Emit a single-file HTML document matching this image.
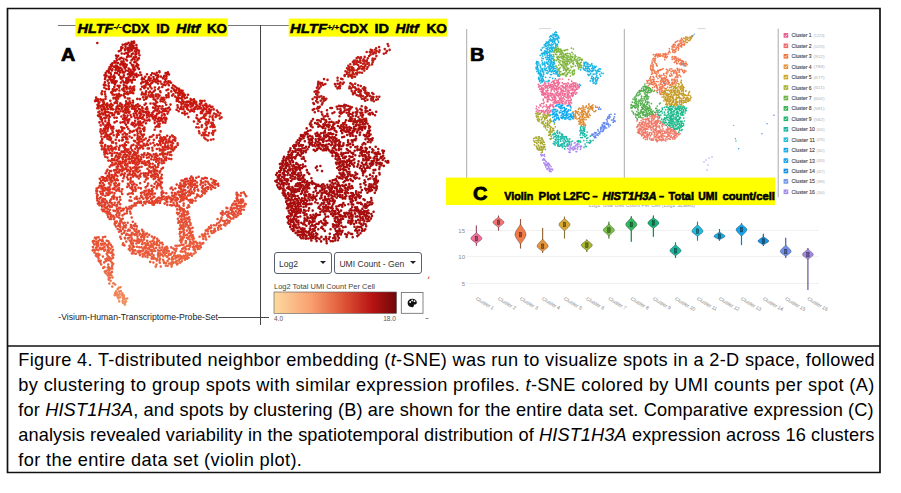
<!DOCTYPE html>
<html><head><meta charset="utf-8">
<style>
html,body{margin:0;padding:0;background:#fff;width:901px;height:493px;overflow:hidden}
body{position:relative;font-family:"Liberation Sans",sans-serif}
svg{position:absolute;left:0;top:0}
.cap{position:absolute;left:18.3px;font-size:18.2px;line-height:25px;color:#000;white-space:nowrap}
.cap i{font-style:italic}
.dd{position:absolute;box-sizing:border-box;border:1px solid #5a6070;border-radius:3px;background:#fff;font-size:8.6px;color:#333;line-height:21px;padding-left:4px;padding-top:1px}
.dd:after{content:"";position:absolute;right:5px;top:8px;border-left:3.2px solid transparent;border-right:3.2px solid transparent;border-top:3.6px solid #222}
</style></head><body>
<svg width="901" height="493" viewBox="0 0 901 493" font-family="Liberation Sans, sans-serif">
  <!-- frame -->
  <g stroke="#111" stroke-width="1.7" fill="none">
    <path d="M7.5 8.5H880V472.5H7.5Z"/>
    <path d="M7.5 346H880"/>
  </g>
  <!-- panel A lines -->
  <g stroke="#777" stroke-width="1" fill="none">
    <path d="M58 25.5H76M228 25.5H289"/>
  </g>
  <path d="M260.5 25V325" stroke="#444" stroke-width="1"/>
  <path d="M218 317.5H269" stroke="#333" stroke-width="0.9"/>
  <!-- banners -->
  <rect x="75.4" y="18.4" width="152.4" height="18.2" fill="#ffff00"/>
  <rect x="288.7" y="18.6" width="158.3" height="18" fill="#ffff00"/>
  <g font-weight="bold" fill="#000" stroke="#000" stroke-width="0.45" font-size="12.4">
  <text x="77.6" y="33" font-style="italic" textLength="35.8" lengthAdjust="spacingAndGlyphs">HLTF</text>
  <text x="113.4" y="29.2" font-size="8" font-style="italic" stroke-width="0.25" textLength="8.4" lengthAdjust="spacingAndGlyphs">-/-</text>
  <text x="122" y="33" textLength="27.5" lengthAdjust="spacingAndGlyphs">CDX</text>
  <text x="156.2" y="33" textLength="13.3" lengthAdjust="spacingAndGlyphs">ID</text>
  <text x="176" y="33" font-style="italic" textLength="24" lengthAdjust="spacingAndGlyphs">Hltf</text>
  <text x="207" y="33" textLength="20" lengthAdjust="spacingAndGlyphs">KO</text>
  <text x="290" y="33" font-style="italic" textLength="37" lengthAdjust="spacingAndGlyphs">HLTF</text>
  <text x="327" y="29.6" font-size="8" font-style="italic" stroke-width="0.3" textLength="12" lengthAdjust="spacingAndGlyphs">+/+</text>
  <text x="339.5" y="33" textLength="28.5" lengthAdjust="spacingAndGlyphs">CDX</text>
  <text x="374.5" y="33" textLength="14.5" lengthAdjust="spacingAndGlyphs">ID</text>
  <text x="395.5" y="33" font-style="italic" textLength="23" lengthAdjust="spacingAndGlyphs">Hltf</text>
  <text x="426.4" y="33" textLength="20.5" lengthAdjust="spacingAndGlyphs">KO</text>
  </g>
  <text x="61" y="60.8" font-size="18" font-weight="bold" fill="#000" stroke="#000" stroke-width="0.7" textLength="14.3" lengthAdjust="spacingAndGlyphs">A</text>
  <g fill="none" stroke-width="2.6" stroke-linecap="round"><path stroke="#ba120c" d="M131.7 41.8h0M134.0 41.5h0M126.1 43.8h0M128.5 42.8h0M130.9 43.5h0M132.3 43.0h0M134.2 42.7h0M122.7 44.8h0M125.1 44.4h0M126.9 44.3h0M129.6 45.2h0M131.7 44.4h0M133.6 45.5h0M136.4 45.1h0M121.3 47.2h0M122.5 47.7h0M125.5 46.8h0M128.2 47.8h0M130.3 46.7h0M132.2 46.5h0M134.2 47.7h0M136.6 47.7h0M121.3 48.8h0M125.0 49.4h0M127.3 48.7h0M129.6 49.4h0M131.5 48.8h0M133.3 48.5h0M135.5 48.8h0M137.5 49.7h0M118.8 51.2h0M120.7 50.4h0M125.0 50.2h0M128.1 50.5h0M131.7 50.4h0M97.3 43.0h0"/><path stroke="#c0120c" d="M129.6 51.5h0M134.8 51.2h0M136.5 51.3h0M139.0 50.7h0M121.7 53.5h0M124.4 53.7h0M126.3 53.0h0M128.2 52.5h0M133.0 53.5h0M135.9 53.2h0M138.7 53.1h0M116.0 55.6h0M118.2 55.7h0M127.9 54.7h0M131.8 54.3h0M135.4 54.8h0M136.2 54.3h0M139.5 55.3h0M117.5 56.5h0M121.4 57.7h0M127.0 56.9h0M129.2 56.4h0M131.1 56.3h0M134.0 57.3h0M136.1 57.0h0M116.5 58.2h0M119.3 59.3h0M120.3 58.4h0M123.6 58.8h0M126.1 59.5h0M132.9 58.5h0M134.7 59.4h0M137.6 59.1h0M138.9 58.4h0M114.5 61.2h0M116.9 60.2h0M121.4 61.6h0M123.6 61.4h0M127.0 60.5h0M131.6 60.3h0M135.5 61.8h0M137.4 60.2h0M112.4 63.4h0M114.7 62.6h0M115.8 62.5h0M117.9 63.1h0M120.8 63.7h0M122.5 63.2h0M124.9 63.7h0M130.4 62.8h0M134.3 62.3h0M136.8 63.7h0M110.9 64.9h0M112.1 65.5h0M115.7 65.6h0M116.7 65.7h0M120.3 64.6h0M122.6 64.8h0M124.1 65.2h0M126.7 64.9h0M131.8 64.7h0M133.4 65.4h0M136.4 65.7h0M138.2 65.1h0M109.5 67.2h0M111.4 66.6h0M114.0 66.8h0M115.5 66.8h0M118.2 67.1h0M120.6 67.8h0M123.6 66.5h0M126.1 66.9h0M132.8 66.5h0M134.5 67.3h0M137.6 67.5h0M108.8 69.2h0M110.1 69.0h0M112.5 69.2h0M115.9 69.1h0M116.8 68.5h0M119.1 68.4h0M122.1 69.5h0M124.8 68.3h0M128.7 68.5h0M130.6 69.7h0M133.3 68.9h0M135.1 69.6h0M138.9 68.9h0M107.0 71.3h0M109.0 71.6h0M111.9 70.5h0M115.6 70.3h0M118.1 70.7h0M120.2 70.7h0M122.7 71.6h0M125.8 70.6h0M128.1 70.8h0M130.6 71.5h0M131.7 71.6h0M134.0 70.6h0M159.4 71.4h0M105.7 73.1h0M108.8 72.6h0M110.7 73.2h0M115.1 73.0h0M117.1 73.1h0M120.1 72.5h0M122.8 72.4h0M124.3 72.5h0M129.4 72.9h0M131.5 73.0h0M133.3 72.9h0M136.4 73.7h0M140.2 72.5h0M152.2 73.2h0M154.4 73.7h0M156.8 72.7h0M159.5 72.3h0M165.6 73.1h0M167.9 72.4h0M104.5 75.3h0M106.5 75.6h0M110.9 74.8h0M114.0 75.6h0M118.9 74.8h0M123.8 75.2h0M127.9 74.3h0M129.9 75.0h0M132.2 74.8h0M134.8 74.8h0M136.9 75.8h0M138.7 75.3h0M141.2 75.0h0M147.0 74.3h0M151.0 75.2h0M156.1 75.3h0M158.1 75.4h0M164.3 75.8h0M166.7 74.6h0M169.0 74.4h0M105.4 77.4h0M108.8 76.9h0M110.7 77.1h0M113.0 76.7h0M114.8 77.4h0M120.5 76.9h0M122.1 77.7h0M123.6 77.0h0M128.5 77.4h0M130.5 76.4h0M133.6 77.1h0M136.6 76.8h0M142.3 77.8h0M145.3 76.8h0M149.0 77.4h0M153.5 77.1h0M157.2 77.7h0M158.4 76.6h0M161.0 76.6h0M163.9 77.2h0M166.5 76.6h0M105.0 79.1h0M109.7 78.9h0M111.6 79.8h0M113.8 78.9h0M120.7 78.6h0M126.2 78.3h0M127.5 79.3h0M129.8 79.8h0M132.8 79.6h0M134.8 79.8h0M141.8 79.3h0M144.1 79.1h0M148.5 79.4h0M150.8 78.6h0M153.8 79.1h0M107.6 80.6h0M111.1 80.4h0M113.3 81.1h0M115.4 81.4h0M116.7 81.3h0M122.6 80.5h0M126.3 80.6h0M128.6 81.6h0M131.3 80.9h0M104.9 82.4h0M108.7 83.0h0M111.9 82.4h0M113.8 82.8h0M115.8 82.5h0M120.9 82.5h0M123.8 82.4h0M125.6 82.4h0M127.3 83.1h0M131.9 82.4h0M103.8 84.7h0M105.6 85.3h0M108.5 85.5h0M114.9 84.6h0"/><path stroke="#c6120c" d="M155.4 79.5h0M157.2 79.5h0M162.9 78.3h0M165.1 79.5h0M166.3 78.6h0M142.5 81.5h0M145.7 81.1h0M147.1 81.1h0M149.8 80.7h0M152.4 80.7h0M154.7 81.2h0M158.1 80.9h0M160.4 81.6h0M165.8 81.5h0M141.2 83.4h0M143.5 82.3h0M146.2 82.7h0M147.8 83.1h0M151.0 83.5h0M152.4 82.6h0M156.2 82.3h0M117.6 85.7h0M119.7 85.8h0M123.8 85.1h0M126.1 85.7h0M104.3 87.6h0M108.8 86.8h0M114.3 87.1h0M119.1 87.6h0M123.8 87.7h0M126.0 87.3h0M127.2 87.4h0M130.3 86.7h0M106.4 89.0h0M108.9 89.1h0M112.8 89.2h0"/><path stroke="#c6180c" d="M168.3 81.3h0M169.9 81.6h0M158.0 83.5h0M161.5 83.7h0M164.5 82.4h0M167.3 83.3h0M169.0 82.4h0M171.1 82.8h0M145.7 85.0h0M148.1 84.3h0M149.9 85.1h0M163.7 84.7h0M165.4 85.1h0M168.8 85.3h0M173.0 85.3h0M132.6 87.5h0M134.2 86.6h0M142.1 86.7h0M144.1 86.4h0M145.5 86.9h0M150.2 86.6h0M154.9 87.5h0M159.2 87.5h0M162.3 86.9h0M172.0 87.8h0M174.6 86.3h0M175.5 87.0h0M114.7 89.7h0M116.8 89.2h0M122.3 89.4h0M123.7 89.4h0M126.6 88.9h0M129.3 88.6h0M131.6 89.0h0M134.2 89.2h0M140.7 89.4h0M144.3 88.3h0M148.0 88.6h0M151.6 88.5h0M158.3 89.0h0M168.2 89.5h0M172.5 88.2h0M174.2 89.6h0M177.2 88.4h0M179.1 88.9h0M102.2 91.2h0M104.9 91.8h0M112.0 91.8h0M113.5 90.7h0M115.5 90.6h0M119.4 90.5h0M123.6 90.6h0M124.7 91.3h0M127.4 91.8h0M130.2 91.3h0M132.7 90.7h0M134.0 90.2h0M146.1 91.4h0M150.0 91.6h0M153.7 91.5h0M155.0 90.2h0M160.1 91.3h0M166.5 90.3h0M171.3 91.4h0M174.3 90.6h0M176.1 90.4h0M178.9 90.7h0M181.1 90.6h0M182.6 90.8h0M101.5 93.3h0M111.2 92.4h0M112.1 92.9h0M119.0 93.7h0M124.3 93.8h0M126.2 93.6h0M129.7 93.0h0M132.0 92.7h0M133.3 93.3h0M142.2 92.6h0M145.8 92.5h0M148.9 92.6h0M152.1 93.0h0M160.5 92.3h0M168.5 93.3h0M175.7 92.5h0M177.9 93.1h0M179.9 92.6h0M181.6 93.1h0M183.5 93.4h0M101.8 94.2h0M105.1 94.2h0M112.5 94.5h0M114.0 94.7h0M116.3 94.6h0M117.9 94.5h0M121.1 95.3h0M123.7 95.4h0M127.9 94.3h0M141.7 94.4h0M144.0 94.4h0M145.8 94.6h0M148.6 95.4h0M151.2 94.6h0M153.3 95.3h0M156.0 94.6h0M158.0 94.6h0M159.6 95.5h0M166.2 95.2h0M168.5 95.0h0M172.2 95.6h0M173.3 94.4h0M178.4 95.5h0M180.0 94.8h0M182.6 95.3h0M185.0 95.0h0M188.0 94.8h0M96.1 97.5h0M105.7 96.5h0M113.5 97.8h0M115.7 97.5h0M117.2 96.8h0M119.6 96.4h0M125.0 97.4h0M143.0 97.3h0M145.6 97.1h0M147.1 97.5h0M150.2 96.6h0M151.5 96.4h0M153.5 97.5h0M155.9 96.3h0M158.4 97.0h0M161.6 97.8h0M163.7 97.7h0M166.4 97.4h0M168.6 97.1h0M175.2 96.6h0M177.0 97.8h0M178.9 97.7h0M182.0 96.9h0M184.0 96.4h0M187.0 97.5h0M95.8 99.7h0M98.0 99.4h0M100.5 99.4h0M103.0 99.7h0M105.5 98.9h0M113.6 98.5h0M116.2 99.2h0M118.1 98.6h0M127.8 98.5h0M129.5 98.5h0M137.3 98.9h0M139.9 99.1h0M144.1 99.7h0M146.1 98.7h0M153.6 99.2h0M155.1 99.7h0M157.5 98.5h0M160.6 99.5h0M162.0 99.0h0M164.4 99.7h0M176.8 99.1h0M178.1 99.5h0M181.0 98.3h0M182.3 99.5h0M184.9 98.3h0M190.6 99.1h0M191.5 99.7h0M194.0 99.4h0M95.1 101.1h0M96.2 100.8h0M98.3 101.5h0M101.4 100.2h0M103.5 101.3h0M110.3 100.8h0M115.7 101.8h0M117.2 101.4h0M126.1 101.4h0M129.6 101.2h0M132.9 100.7h0M156.0 101.3h0M160.6 101.2h0M163.0 101.5h0M176.7 101.0h0M179.0 101.7h0M182.3 100.6h0M183.7 101.7h0M187.2 101.5h0M188.8 101.6h0M190.4 101.7h0M193.6 101.4h0M195.6 101.5h0M200.3 100.9h0M202.0 101.0h0M204.5 100.8h0M98.7 103.3h0M99.4 102.3h0M103.3 102.7h0M104.0 102.9h0M107.2 103.6h0M111.1 103.7h0M114.6 103.1h0M117.0 102.9h0M120.3 103.4h0M126.2 103.8h0M128.0 103.3h0M130.5 103.1h0M133.0 102.6h0M145.8 103.6h0M150.5 103.5h0M153.4 103.6h0M155.4 103.7h0M157.2 102.3h0M165.3 102.6h0M180.7 102.5h0M182.9 103.3h0M185.9 102.2h0M187.4 102.5h0M190.2 103.8h0M191.8 103.3h0M194.3 103.3h0M196.2 102.3h0M97.5 104.7h0M99.5 105.6h0M102.1 105.3h0M103.8 104.5h0M105.9 104.8h0M108.3 105.2h0M110.2 105.0h0M112.7 105.3h0M117.8 105.5h0M119.3 105.7h0M121.9 104.7h0M124.7 105.5h0M127.0 104.6h0M128.7 104.7h0M131.7 105.4h0M133.1 105.5h0M136.1 105.2h0M137.8 104.3h0M139.7 105.8h0M144.6 104.8h0M154.8 104.9h0M156.3 105.8h0M166.2 104.8h0M170.5 104.6h0M177.5 105.2h0M181.5 104.6h0M184.8 104.6h0M98.0 106.8h0M100.8 106.8h0M103.2 106.8h0M104.3 107.3h0M107.0 106.9h0M109.9 107.0h0M111.5 107.4h0M116.6 107.0h0M118.1 106.5h0M121.2 106.6h0M122.6 107.2h0M125.5 106.7h0M127.2 107.0h0M129.5 106.7h0M132.5 107.2h0M134.8 106.6h0M137.5 107.1h0M142.1 107.3h0M147.0 107.4h0M153.0 107.6h0M155.5 107.6h0M158.3 106.8h0M159.7 106.3h0M162.5 106.4h0M97.3 108.3h0M98.6 108.3h0M101.5 109.1h0M104.1 108.7h0M105.5 109.2h0M108.0 109.0h0M110.8 109.3h0M112.9 109.4h0M115.7 109.6h0M117.0 108.4h0M119.1 109.0h0M121.7 109.0h0M124.8 109.4h0M126.2 108.2h0M128.3 109.4h0M132.0 108.6h0M134.0 108.9h0M135.7 108.7h0M138.9 109.1h0M140.3 109.5h0M142.7 108.5h0M145.7 108.9h0M147.4 109.0h0M155.0 108.3h0M158.3 108.7h0M99.5 111.5h0M102.1 110.4h0M104.8 111.4h0M107.0 111.7h0M116.5 111.5h0M117.9 111.6h0M120.5 111.2h0M123.1 111.4h0M125.8 110.4h0M128.0 111.3h0M129.6 111.8h0M135.1 111.3h0M137.1 111.1h0M142.4 111.0h0M98.4 112.3h0M101.9 113.4h0M104.2 113.2h0M105.2 112.9h0M108.4 112.3h0M110.4 113.0h0M112.2 113.4h0M115.3 112.4h0M118.0 113.8h0M119.0 113.6h0M125.0 112.6h0M126.5 112.7h0M129.1 112.8h0M98.0 115.6h0M99.8 114.4h0M102.9 114.5h0M105.6 115.0h0M107.6 115.7h0M108.8 115.3h0M112.4 115.3h0M114.0 114.7h0M99.5 116.5h0M101.0 117.1h0"/><path stroke="#c61812" d="M199.9 103.7h0M201.4 103.0h0M186.6 104.7h0M188.5 105.3h0M191.1 104.4h0M193.0 104.9h0M196.3 104.4h0M169.1 107.5h0M177.8 107.4h0M181.2 107.0h0M183.7 106.7h0M156.8 109.6h0M161.5 108.6h0M163.7 109.3h0M165.7 108.8h0M167.8 108.4h0M140.0 111.8h0M143.5 111.4h0M146.9 111.6h0M148.1 111.5h0M154.9 110.5h0M157.2 110.8h0M133.7 113.8h0M135.8 113.1h0M138.9 113.2h0M140.7 113.1h0M143.5 112.3h0M145.7 112.3h0M123.8 114.9h0M124.7 115.6h0M104.3 117.7h0M106.3 117.4h0M109.8 116.8h0M100.6 118.7h0M102.0 119.1h0M105.2 118.5h0"/><path stroke="#cc1812" d="M205.7 103.7h0M197.5 105.6h0M200.4 104.8h0M203.0 105.5h0M205.3 105.0h0M206.4 104.8h0M209.6 105.5h0M185.8 106.6h0M187.4 106.6h0M190.6 106.8h0M192.2 106.3h0M194.9 107.6h0M196.3 106.8h0M199.4 106.9h0M200.8 107.7h0M203.7 107.5h0M206.4 106.8h0M207.7 106.7h0M210.6 106.8h0M212.4 106.9h0M170.0 109.5h0M176.6 109.7h0M179.9 108.8h0M181.7 109.0h0M183.5 109.1h0M187.2 108.8h0M188.3 109.8h0M191.3 109.6h0M193.8 108.7h0M194.9 109.0h0M197.5 108.9h0M199.9 108.5h0M202.4 109.7h0M204.4 109.1h0M206.4 108.9h0M209.1 109.2h0M211.1 109.7h0M213.7 109.4h0M153.6 111.6h0M159.4 111.4h0M162.9 110.8h0M164.3 110.7h0M166.1 110.9h0M168.4 111.6h0M178.7 111.2h0M184.7 111.6h0M190.0 111.5h0M192.3 110.7h0M194.0 111.4h0M201.1 111.7h0M203.1 110.8h0M206.7 111.3h0M209.0 111.5h0M210.5 111.5h0M216.9 110.5h0M146.6 113.3h0M149.2 112.8h0M152.3 113.1h0M157.0 113.8h0M158.9 112.9h0M161.6 112.5h0M163.9 113.7h0M167.5 113.6h0M182.3 113.0h0M184.7 113.6h0M187.2 113.5h0M200.8 113.1h0M202.2 113.1h0M205.4 113.7h0M207.5 113.3h0M209.9 113.5h0M214.0 113.5h0M218.1 112.4h0M127.6 115.6h0M130.5 115.0h0M134.0 115.8h0M136.8 114.9h0M139.9 115.8h0M141.4 114.4h0M143.9 115.2h0M147.0 114.9h0M148.4 114.5h0M150.9 115.1h0M152.7 114.7h0M155.3 115.8h0M157.2 114.3h0M161.9 115.5h0M164.7 115.1h0M184.9 114.5h0M196.9 115.3h0M114.4 117.6h0M116.7 117.7h0M121.4 116.5h0M124.5 117.0h0M126.7 117.5h0M131.3 117.0h0M135.2 117.7h0M137.4 117.4h0M140.5 117.6h0M142.7 117.3h0M146.9 117.4h0M149.3 116.4h0M152.0 116.5h0M153.6 117.2h0M156.0 116.6h0M158.8 117.7h0M161.0 117.8h0M164.2 117.7h0M165.8 117.7h0M188.4 117.1h0M108.8 118.6h0M123.1 118.9h0M125.3 118.9h0M127.6 119.8h0M129.3 119.4h0M137.7 118.7h0M139.0 118.3h0M142.1 118.6h0M144.2 119.5h0M149.1 119.6h0M153.0 118.5h0M155.8 118.3h0M158.0 119.0h0M160.7 119.2h0M162.4 118.9h0M165.3 119.4h0M166.5 118.8h0M101.8 120.8h0M105.3 121.3h0M108.9 120.7h0M116.7 121.2h0M124.6 121.1h0M127.2 120.4h0M128.5 121.1h0M135.1 120.7h0M138.3 121.5h0M140.1 121.6h0M144.9 120.5h0M147.1 120.5h0M149.5 120.4h0M154.7 120.4h0M157.2 121.6h0M159.3 121.1h0M161.3 120.4h0M99.5 122.4h0M102.6 122.8h0M107.6 123.1h0M109.1 123.2h0M114.5 122.4h0M120.5 122.6h0M122.8 122.3h0M125.2 123.3h0M128.0 122.7h0M132.3 122.7h0M134.6 123.2h0M137.6 123.6h0M139.8 123.0h0M141.2 123.4h0M143.3 122.3h0M146.0 123.2h0M100.7 125.4h0M103.4 124.4h0M106.4 125.0h0M108.5 125.2h0M110.0 125.0h0M126.0 124.7h0M131.5 124.2h0M132.8 124.9h0M135.9 125.3h0M138.7 124.9h0M105.3 126.4h0M106.7 127.3h0M108.6 127.0h0M111.3 126.9h0M113.2 126.7h0M121.3 127.0h0M100.7 129.4h0M103.9 128.7h0M105.7 128.7h0M107.8 128.7h0M111.3 128.4h0M113.3 128.4h0"/><path stroke="#cc1e12" d="M220.3 113.3h0M204.2 115.4h0M205.6 115.4h0M212.7 115.8h0M215.8 114.3h0M217.3 115.5h0M219.3 115.5h0M196.4 117.8h0M202.7 117.5h0M204.1 117.7h0M209.8 116.6h0M212.4 117.3h0M215.6 116.9h0M221.5 117.4h0M197.3 118.5h0M199.0 119.7h0M200.9 118.5h0M205.8 119.0h0M208.7 119.7h0M212.9 119.3h0M219.8 118.6h0M162.8 121.6h0M165.6 121.1h0M193.9 121.5h0M198.4 120.7h0M199.8 121.8h0M206.5 121.7h0M208.9 121.3h0M213.3 120.3h0M154.7 123.1h0M158.5 123.7h0M159.8 123.8h0M163.0 122.6h0M165.3 122.7h0M197.6 123.7h0M205.5 123.6h0M208.4 123.2h0M211.3 122.9h0M212.8 123.2h0M140.2 125.2h0M142.4 125.5h0M157.2 125.7h0M159.2 124.5h0M201.9 125.4h0M206.4 124.9h0M211.8 125.5h0M213.9 125.4h0M122.8 127.7h0M127.2 127.0h0M134.5 126.4h0M138.6 127.5h0M144.4 127.6h0M155.6 127.1h0M158.1 126.6h0M159.5 126.6h0M196.3 127.2h0M198.7 127.5h0M201.7 127.0h0M122.0 128.7h0M124.3 128.3h0M128.4 129.0h0M136.4 129.8h0M137.4 129.6h0M140.0 128.5h0M142.9 129.0h0M144.5 129.4h0M154.6 129.7h0M100.4 131.6h0M102.7 130.7h0M104.8 131.1h0M107.5 131.0h0M112.4 130.6h0M116.6 130.8h0M118.9 130.5h0M121.4 131.3h0M122.6 130.6h0M130.1 131.1h0M132.3 131.7h0M133.9 130.8h0M137.2 131.1h0M140.0 131.5h0M140.8 131.4h0M144.1 131.0h0M160.6 131.4h0M101.4 133.7h0M103.4 133.3h0M105.9 132.7h0M111.2 133.8h0M112.9 132.4h0M117.9 132.8h0M120.4 132.3h0M124.6 132.9h0M129.6 132.8h0M137.7 133.3h0M140.5 133.4h0M105.4 135.2h0M107.0 134.9h0M109.5 134.7h0M113.7 135.2h0M116.8 134.6h0M118.7 134.8h0M122.7 134.5h0M126.0 134.6h0M127.1 134.4h0M134.6 135.1h0M137.6 135.2h0M142.1 134.9h0M144.0 134.6h0M153.4 135.1h0M101.4 136.5h0M104.3 137.0h0M106.1 136.4h0M108.5 136.4h0M110.2 137.4h0M116.8 136.9h0M122.4 137.5h0M124.5 136.8h0M126.7 137.3h0M129.5 136.5h0M131.8 137.8h0M137.6 137.5h0M139.8 136.8h0M142.7 136.8h0M102.2 139.1h0M107.4 138.8h0M109.1 139.4h0M111.1 138.6h0M115.7 139.7h0M123.0 139.8h0M126.2 138.7h0M101.6 140.8h0M110.6 140.3h0M100.4 142.7h0M102.5 142.9h0"/><path stroke="#d21e12" d="M206.8 127.5h0M210.5 126.8h0M212.9 127.1h0M157.0 135.6h0M159.5 134.9h0M127.5 139.3h0M112.7 141.8h0M119.2 140.6h0M122.1 140.4h0"/><path stroke="#d22412" d="M214.6 127.0h0M204.8 129.8h0M206.5 128.6h0M199.0 131.4h0M167.2 135.8h0M172.0 135.5h0M149.8 137.1h0M151.7 136.6h0M156.7 137.6h0M160.7 137.4h0M163.8 137.2h0M137.4 139.3h0M139.3 138.7h0M141.4 139.0h0M144.0 139.7h0M145.8 138.5h0M126.3 141.8h0M134.0 140.8h0M135.2 141.4h0M138.6 140.6h0M112.0 142.6h0M113.2 142.6h0M116.1 143.4h0M128.2 142.5h0M101.4 145.5h0M105.2 145.0h0M101.9 146.6h0"/><path stroke="#d22418" d="M205.6 131.5h0M213.1 131.0h0M215.2 130.5h0M199.5 133.3h0M203.2 132.7h0M204.6 133.1h0M209.1 133.0h0M212.1 133.3h0M213.4 132.4h0M201.8 135.3h0M203.9 135.1h0M206.0 135.1h0M208.2 135.4h0M213.0 134.8h0M165.4 137.5h0M170.1 137.0h0M173.0 136.4h0M174.6 137.2h0M204.2 137.6h0M149.1 139.7h0M153.9 139.8h0M160.3 138.5h0M162.0 138.4h0M164.0 139.5h0M166.2 139.5h0M169.4 138.7h0M173.4 139.7h0M175.4 138.4h0M205.5 139.1h0M210.9 139.7h0M213.4 139.3h0M140.0 141.6h0M142.2 141.4h0M147.7 141.3h0M159.3 141.0h0M161.2 140.9h0M163.3 140.6h0M166.1 141.7h0M168.6 140.5h0M170.7 141.5h0M172.1 141.8h0M175.2 140.8h0M207.7 140.4h0M124.8 143.5h0M137.3 143.0h0M139.2 142.5h0M143.7 143.7h0M146.8 143.7h0M150.5 143.6h0M153.3 142.8h0M160.0 143.2h0M162.8 143.0h0M165.3 143.2h0M167.0 142.5h0M168.5 142.5h0M171.3 142.5h0M173.1 143.2h0M177.6 143.4h0M110.8 145.8h0M120.0 145.8h0M122.4 145.2h0M123.7 145.4h0M126.0 145.1h0M131.6 145.6h0M133.5 144.9h0M136.3 145.7h0M138.5 144.6h0M140.7 145.5h0M143.5 145.4h0M145.5 145.6h0M148.0 144.9h0M154.6 145.4h0M157.1 144.3h0M158.1 145.1h0M160.7 145.1h0M165.1 145.3h0M168.1 145.6h0M171.1 145.3h0M172.0 145.6h0M177.7 144.9h0M104.7 146.7h0M107.7 146.4h0M108.8 146.7h0M111.6 146.8h0M114.7 147.8h0M116.5 146.5h0M119.2 147.7h0M123.6 146.4h0M124.7 147.4h0M130.9 147.2h0M136.9 147.0h0M139.7 147.8h0M142.2 146.9h0M152.3 147.8h0M162.7 147.0h0M165.1 147.0h0M166.9 147.4h0M101.9 149.3h0M103.9 148.6h0M105.7 149.2h0M108.3 148.8h0M110.9 148.8h0M113.2 148.9h0M115.7 149.1h0M119.0 149.8h0M124.5 148.3h0M126.5 149.2h0M128.4 149.6h0M130.9 148.3h0M135.3 148.7h0M138.4 148.8h0M139.9 148.3h0M143.1 148.5h0M147.7 148.5h0M148.9 148.4h0M104.4 150.4h0M106.5 150.9h0M109.3 150.5h0M112.3 150.8h0M121.5 151.6h0M123.2 151.6h0M125.1 150.3h0M127.2 151.7h0M129.9 151.8h0M132.3 150.4h0M134.4 151.8h0M137.8 150.7h0M104.3 152.3h0M106.0 152.9h0M107.6 153.6h0M110.2 153.0h0M112.2 153.6h0M114.7 152.8h0M117.2 153.1h0M119.8 153.6h0M122.2 152.3h0M124.6 152.5h0M128.8 153.1h0M130.6 152.8h0M104.5 154.4h0M111.8 155.7h0"/><path stroke="#d22a18" d="M168.9 147.5h0M171.8 146.9h0M174.5 147.5h0M175.9 146.9h0M156.8 149.0h0M159.4 148.7h0M161.4 149.8h0M163.3 148.9h0M165.5 149.5h0M168.0 148.7h0M170.8 148.4h0M172.2 149.3h0M174.5 148.6h0M152.6 150.4h0M159.9 150.5h0M162.5 151.6h0M164.3 150.3h0M170.9 151.8h0M173.2 150.5h0M133.9 153.5h0M135.3 153.0h0M137.6 152.8h0M144.4 153.2h0M147.8 153.4h0M156.2 153.7h0M161.8 153.5h0M163.4 153.2h0M165.6 153.7h0M168.1 152.5h0M170.0 152.3h0M116.2 155.5h0M118.8 154.8h0M120.6 154.6h0M123.6 155.4h0M125.4 154.4h0M127.4 155.4h0M130.0 154.3h0M132.8 155.0h0M135.2 155.1h0M136.2 154.9h0M138.6 155.7h0M141.7 154.7h0M143.8 154.7h0M146.5 155.3h0M149.3 154.4h0M150.5 154.8h0M153.7 154.4h0M155.6 154.7h0M157.6 155.7h0M160.0 154.4h0M162.8 155.0h0M164.8 154.3h0M167.2 154.4h0M105.3 156.7h0M107.5 157.6h0M115.4 157.2h0M118.0 157.1h0M119.7 157.0h0M122.3 157.6h0M123.6 156.9h0M126.1 157.1h0M129.0 156.8h0M131.6 156.5h0M133.6 157.4h0M136.6 157.5h0M137.6 157.4h0M140.8 157.4h0M143.5 157.0h0M151.9 156.6h0M112.1 159.1h0M114.0 159.2h0M117.0 159.8h0M118.7 158.4h0M122.8 159.4h0M125.7 159.5h0M128.3 159.1h0M129.8 159.1h0M131.9 158.4h0M134.9 158.9h0M137.4 158.8h0M108.4 160.6h0M110.7 160.7h0M112.9 160.3h0M115.0 160.5h0M117.6 161.3h0M119.9 161.5h0"/><path stroke="#d82a18" d="M169.8 154.7h0M171.3 155.1h0M147.1 157.7h0M149.0 157.2h0M154.6 157.4h0M155.8 157.2h0M163.5 156.7h0M166.1 157.3h0M138.7 159.2h0M141.2 159.3h0M151.2 159.3h0M153.8 159.7h0M157.2 158.7h0M159.4 158.6h0M122.6 161.7h0M124.9 161.1h0M126.1 161.0h0M129.4 161.7h0M132.0 160.9h0M133.4 161.1h0M135.4 160.3h0M137.7 161.6h0M139.9 161.1h0M144.5 161.2h0M112.2 162.8h0M114.7 163.8h0M116.0 163.3h0M118.9 163.3h0M121.2 162.8h0M122.6 163.1h0M125.2 162.7h0M127.7 163.8h0M130.2 162.9h0M132.9 163.1h0M134.5 162.6h0M111.1 165.3h0M112.5 165.2h0M114.7 164.4h0M117.7 164.7h0M120.3 164.5h0"/><path stroke="#d82a1e" d="M156.1 159.8h0M161.5 159.2h0M164.9 158.7h0M166.4 158.3h0M169.0 158.7h0M171.3 159.1h0M142.3 161.8h0M147.5 161.7h0M148.9 161.1h0M156.2 161.7h0M158.5 160.6h0M161.5 160.8h0M163.6 160.8h0M166.0 160.3h0M136.3 162.7h0M139.2 163.2h0M142.0 163.0h0M143.8 163.5h0M145.6 163.1h0M148.9 162.9h0M121.6 165.7h0M125.1 164.9h0M126.4 164.8h0M135.5 164.8h0M137.6 164.7h0M109.7 166.8h0M116.7 167.0h0M118.2 166.5h0M121.1 166.4h0M122.7 167.2h0M127.6 166.4h0"/><path stroke="#d8301e" d="M150.1 163.8h0M152.7 163.8h0M158.2 163.8h0M159.3 162.6h0M161.9 163.3h0M164.0 162.7h0M145.3 165.0h0M146.8 164.7h0M149.4 165.3h0M154.9 165.5h0M158.4 165.0h0M125.8 167.5h0M130.3 167.6h0M133.2 167.7h0M134.8 167.3h0M136.8 167.4h0M139.2 167.2h0M141.6 166.7h0M149.3 166.6h0M150.9 167.4h0M152.9 166.8h0M155.9 167.6h0M157.8 167.0h0M163.0 167.7h0M107.5 169.7h0M115.7 169.8h0M117.5 168.8h0M119.8 169.8h0M122.4 168.8h0M124.0 169.4h0M126.3 169.0h0M128.3 169.7h0M131.1 169.3h0M135.7 169.2h0M137.5 169.1h0M147.5 168.7h0M153.6 168.9h0M161.5 169.0h0M106.7 171.3h0M110.0 171.0h0M111.1 171.1h0M114.0 170.4h0M116.3 170.4h0M119.1 171.2h0M121.1 170.4h0M122.4 171.1h0M127.2 171.3h0M130.0 171.2h0M132.9 171.4h0M135.0 170.5h0M136.5 171.0h0M139.7 170.8h0M149.0 170.5h0M151.1 171.2h0M153.5 170.8h0M155.7 170.4h0M157.3 170.9h0M160.2 171.3h0M105.7 173.3h0M109.0 173.3h0M115.4 172.8h0M117.7 172.4h0M119.0 172.5h0M121.7 173.8h0M124.8 173.4h0M129.6 173.1h0M133.3 172.7h0M135.1 173.5h0M137.8 172.3h0M140.9 173.5h0M143.5 173.3h0M145.8 173.4h0M148.0 173.2h0M148.9 172.6h0M151.2 172.6h0M154.4 172.5h0M156.5 173.5h0M159.6 172.6h0M107.6 175.9h0M109.4 175.0h0M111.9 175.1h0M114.6 174.8h0M115.8 174.7h0M120.8 175.1h0M123.8 174.9h0M127.8 174.9h0M130.0 174.6h0M132.1 174.7h0M134.5 175.3h0M136.4 175.5h0M139.6 175.2h0M144.0 175.3h0M145.5 175.6h0M148.1 174.9h0M151.1 175.7h0M152.7 174.7h0M155.1 174.4h0M157.8 175.1h0M161.8 174.7h0M101.8 177.1h0M103.1 177.2h0M106.3 177.7h0M108.8 176.8h0M110.3 177.6h0M112.2 177.0h0M114.4 176.4h0M117.4 176.3h0M124.2 176.3h0M127.1 177.3h0M130.8 177.9h0M133.1 176.6h0M136.5 176.6h0M137.6 176.6h0M140.3 176.6h0M144.5 176.4h0M99.8 178.7h0M103.1 179.7h0M104.4 178.4h0M106.9 179.4h0M109.5 178.5h0M111.1 178.7h0M114.0 178.5h0M116.9 179.3h0M123.4 178.3h0M128.0 179.4h0M101.0 181.0h0M104.4 180.5h0M105.2 181.0h0M107.5 180.5h0M110.5 180.8h0M112.6 180.8h0M115.3 180.6h0M117.8 180.3h0M100.0 183.1h0M102.7 183.0h0"/><path stroke="#d8361e" d="M146.6 177.3h0M151.6 176.9h0M154.0 176.4h0M156.0 176.6h0M130.4 179.7h0M138.8 178.5h0M147.7 178.4h0M122.6 181.3h0M130.7 181.1h0M109.0 183.4h0M111.4 182.5h0M114.3 183.5h0M115.8 183.3h0M99.7 185.7h0M101.4 185.5h0M104.0 184.9h0"/><path stroke="#de361e" d="M158.2 177.3h0M161.2 177.4h0M146.0 179.6h0M153.7 179.1h0M155.1 178.3h0M159.4 179.0h0M161.7 178.4h0M132.8 181.8h0M119.2 183.8h0M127.9 183.7h0M130.4 182.8h0M110.5 185.0h0M114.7 185.3h0M117.7 185.3h0M119.0 184.9h0M98.6 187.6h0M101.0 186.5h0M102.6 186.8h0M104.9 187.7h0M109.5 187.1h0M96.6 188.6h0"/><path stroke="#de3624" d="M191.4 176.6h0M192.6 177.7h0M196.3 177.8h0M198.7 176.7h0M205.3 177.7h0M158.4 179.8h0M185.3 179.1h0M186.8 178.8h0M190.0 178.5h0M193.0 179.3h0M202.0 178.5h0M203.7 178.6h0M206.8 178.3h0M144.7 181.8h0M156.3 181.7h0M159.1 180.5h0M160.8 181.9h0M181.5 180.5h0M183.4 180.6h0M186.3 181.5h0M188.3 181.1h0M190.8 180.6h0M134.3 183.7h0M140.1 183.3h0M148.1 183.6h0M154.7 183.7h0M158.0 183.5h0M160.6 183.5h0M161.9 182.5h0M128.9 185.4h0M132.0 184.5h0M133.7 184.6h0M136.6 185.1h0M147.4 185.8h0M151.5 185.7h0M156.9 185.8h0M158.6 184.7h0M160.5 184.8h0M107.7 187.9h0M114.5 187.8h0M116.3 186.4h0M118.7 187.9h0M127.3 186.9h0M130.4 187.8h0M132.2 187.1h0M135.1 187.4h0M138.5 187.7h0M145.6 187.4h0M101.5 188.4h0M103.1 189.1h0M106.2 189.0h0M108.9 189.7h0M109.8 189.4h0M112.7 188.9h0M114.6 189.3h0M117.3 189.5h0M119.2 188.7h0M122.3 189.3h0M131.8 189.2h0M133.2 189.7h0M135.8 189.2h0M140.9 188.4h0M96.3 190.8h0M97.2 190.9h0M100.3 191.7h0M102.7 191.0h0M104.7 190.5h0M107.6 190.4h0M109.6 191.4h0M116.4 190.8h0M119.4 191.0h0M96.6 193.2h0M101.1 193.8h0M102.9 193.4h0M106.5 193.3h0M108.5 193.4h0M112.1 192.5h0M97.6 195.0h0"/><path stroke="#de3c24" d="M211.3 179.0h0M193.1 180.9h0M195.2 180.8h0M200.9 180.8h0M205.5 181.4h0M207.7 181.8h0M213.7 180.4h0M215.7 181.0h0M180.4 183.4h0M183.8 183.4h0M184.7 182.4h0M188.3 183.5h0M190.4 182.3h0M192.0 182.4h0M194.8 183.9h0M197.0 182.5h0M201.3 182.8h0M203.2 182.6h0M208.6 183.6h0M212.5 182.8h0M214.8 182.7h0M176.7 184.6h0M179.3 185.8h0M181.7 185.5h0M183.5 185.7h0M185.9 184.6h0M189.5 184.9h0M191.0 184.6h0M193.1 184.7h0M195.0 184.9h0M197.2 185.8h0M200.5 184.6h0M205.4 184.6h0M153.7 187.0h0M157.4 186.4h0M160.6 186.5h0M161.7 187.8h0M171.6 187.6h0M179.2 187.7h0M181.1 186.5h0M183.3 186.4h0M184.7 186.6h0M190.6 186.5h0M148.9 189.8h0M151.9 189.1h0M156.6 188.4h0M161.6 188.5h0M170.6 188.5h0M175.3 188.5h0M180.2 188.3h0M121.4 191.6h0M133.0 191.1h0M135.5 190.9h0M144.5 191.0h0M146.4 190.6h0M148.8 191.9h0M151.1 191.1h0M152.6 190.8h0M110.1 193.3h0M114.5 193.1h0M122.2 193.9h0M129.4 193.5h0M131.7 193.3h0M132.8 193.7h0M141.0 193.0h0M142.3 192.5h0M144.5 192.8h0M102.7 195.0h0M105.3 195.8h0M107.7 194.9h0M108.6 194.7h0M113.7 195.6h0M127.9 194.3h0M97.1 196.4h0M100.8 197.4h0M112.3 197.0h0M114.5 197.3h0M117.0 197.8h0M119.8 197.1h0M97.1 198.4h0M99.5 198.6h0M103.2 198.7h0M105.1 199.4h0M97.3 200.4h0"/><path stroke="#de3c2a" d="M218.0 183.8h0M203.1 185.8h0M210.0 184.7h0M211.8 185.5h0M214.4 184.5h0M215.8 184.4h0M218.3 185.7h0M188.0 187.4h0M192.1 186.7h0M195.0 187.5h0M196.9 186.8h0M201.9 187.5h0M206.2 187.8h0M207.9 187.0h0M210.4 187.5h0M213.2 187.2h0M172.9 189.8h0M181.1 188.9h0M183.7 189.6h0M190.7 189.0h0M194.1 189.2h0M197.8 189.6h0M203.0 188.7h0M162.4 191.2h0M178.6 191.6h0M181.3 191.4h0M183.2 190.8h0M185.3 190.3h0M189.4 190.8h0M147.0 193.6h0M149.7 193.6h0M152.3 193.1h0M154.9 193.5h0M161.5 192.6h0M163.6 192.8h0M166.3 193.2h0M171.9 192.8h0M177.6 192.4h0M179.7 192.3h0M141.3 195.6h0M144.6 194.8h0M146.8 195.5h0M147.9 194.5h0M151.0 194.3h0M152.5 194.6h0M161.7 194.9h0M130.5 197.0h0M136.6 196.8h0M141.2 196.6h0M142.2 197.2h0M149.9 196.5h0M111.1 199.3h0M113.7 198.8h0M116.8 199.5h0M120.4 199.8h0M134.8 198.6h0M99.0 201.6h0M101.8 200.4h0M103.6 201.4h0M106.5 201.4h0M110.2 200.6h0M97.9 203.6h0M100.0 203.4h0M102.0 202.4h0M104.8 203.1h0M107.5 202.9h0M110.1 202.4h0"/><path stroke="#de422a" d="M215.2 187.7h0M205.0 188.9h0M207.9 189.0h0M211.2 189.2h0M188.1 191.8h0M191.6 191.6h0M194.6 190.7h0M198.3 190.6h0M201.9 191.3h0M204.3 190.6h0M206.4 191.2h0M174.8 193.1h0M182.3 193.4h0M183.6 193.5h0M185.8 192.9h0M189.1 192.6h0M191.2 193.6h0M193.6 193.3h0M202.9 192.8h0M204.8 193.4h0M172.2 195.5h0M174.0 195.5h0M176.1 194.4h0M178.9 194.8h0M180.6 195.4h0M182.3 195.3h0M184.8 195.0h0M188.2 195.4h0M189.8 195.2h0M197.3 194.6h0M145.8 197.4h0M147.8 197.6h0M152.6 197.8h0M154.2 196.9h0M158.8 197.5h0M161.9 197.1h0M163.9 196.6h0M166.3 197.4h0M168.5 196.6h0M170.6 197.8h0M173.2 196.4h0M175.0 197.3h0M176.6 197.7h0M180.2 196.7h0M182.0 196.7h0M137.0 199.0h0M139.6 198.5h0M143.3 198.8h0M146.9 198.9h0M147.8 198.3h0M151.0 199.0h0M156.1 199.7h0M157.5 198.5h0M160.0 198.4h0M162.2 199.3h0M164.6 199.3h0M167.2 198.9h0M169.8 198.3h0M119.0 201.9h0M129.5 200.6h0M131.4 200.8h0M138.5 201.5h0M140.9 201.5h0M145.1 201.7h0M147.0 201.6h0M149.2 201.2h0M152.3 200.9h0M156.9 200.7h0M111.6 203.1h0M114.7 202.8h0M117.9 202.5h0M134.7 203.4h0M137.1 203.1h0M139.3 202.6h0M141.0 203.0h0M144.0 202.4h0M99.4 205.2h0M101.8 205.4h0M104.3 205.1h0M105.3 204.8h0M108.5 205.4h0M109.8 205.7h0M112.4 204.8h0M114.5 205.0h0M117.2 204.8h0M120.2 204.3h0M102.0 206.6h0M104.4 206.8h0M106.9 207.2h0M109.8 206.7h0M111.8 206.8h0M116.6 206.4h0M105.7 208.3h0"/><path stroke="#e44230" d="M236.7 192.8h0M190.3 199.9h0M192.0 199.8h0M179.8 201.8h0M181.4 200.4h0M183.4 200.3h0M188.7 200.4h0M164.6 203.6h0M173.5 202.7h0M153.9 204.7h0M127.3 209.1h0M129.2 208.6h0M131.2 208.4h0M108.9 211.7h0M113.5 210.6h0M115.5 211.0h0M118.1 210.9h0M121.1 210.7h0M123.2 210.3h0M107.8 212.6h0"/><path stroke="#e44830" d="M241.2 193.1h0M243.7 192.4h0M236.6 194.5h0M238.2 194.8h0M240.6 195.8h0M245.0 194.4h0M237.3 196.8h0M246.2 196.3h0M236.6 198.4h0M238.0 199.8h0M240.9 199.6h0M242.6 199.5h0M191.4 201.8h0M192.9 200.8h0M195.5 200.7h0M234.8 201.3h0M237.2 200.7h0M239.5 201.8h0M241.6 200.8h0M243.2 201.1h0M176.8 203.0h0M183.7 203.5h0M190.2 202.5h0M192.1 202.7h0M167.3 204.9h0M170.3 205.1h0M172.0 205.4h0M174.3 205.0h0M177.2 204.6h0M179.0 205.9h0M183.6 205.6h0M188.5 205.4h0M176.1 206.3h0M178.5 206.3h0M180.1 207.5h0M187.3 207.8h0M189.2 206.7h0M177.3 209.4h0M179.9 209.5h0M181.7 208.5h0M183.8 209.2h0M127.0 211.1h0M130.0 211.6h0M180.5 210.7h0M183.2 210.9h0M106.6 212.9h0M110.1 213.3h0M117.4 212.8h0M119.5 213.1h0M124.5 213.9h0M126.8 213.2h0M130.6 213.6h0M107.7 214.7h0M108.9 214.3h0M111.1 215.1h0M113.4 215.8h0M116.3 214.7h0M119.3 215.0h0M122.5 215.4h0M108.2 217.0h0M110.9 216.7h0M112.7 216.4h0M114.5 217.4h0M117.2 216.6h0M119.3 217.7h0M131.7 217.5h0M109.7 219.0h0M111.2 219.0h0M114.0 219.2h0M121.0 219.5h0M122.7 218.8h0"/><path stroke="#e4422a" d="M198.4 195.5h0M201.9 195.4h0M183.7 197.1h0M186.5 196.7h0M195.4 197.9h0M197.2 196.3h0M200.4 196.7h0M171.0 199.2h0M173.2 199.1h0M176.4 198.4h0M178.0 198.9h0M181.2 199.3h0M183.0 198.5h0M184.6 198.4h0M186.8 198.9h0M154.7 201.4h0M158.4 200.8h0M160.5 200.8h0M166.3 200.8h0M167.4 201.7h0M170.7 201.7h0M172.1 200.4h0M175.4 200.4h0M176.6 200.6h0M145.4 203.6h0M149.2 202.8h0M151.1 202.7h0M153.1 202.7h0M155.0 202.7h0M157.3 202.6h0M159.9 203.0h0M166.5 202.3h0M131.8 205.8h0M133.7 205.5h0M135.7 205.4h0M142.8 205.3h0M152.5 204.5h0M118.9 207.7h0M120.2 207.9h0M126.2 207.5h0M129.5 206.8h0M132.5 206.4h0M101.8 209.5h0M103.8 209.6h0M107.6 209.0h0M109.9 209.7h0M117.0 209.1h0M119.2 208.6h0M122.7 209.0h0M123.8 208.8h0M103.0 211.1h0M104.9 211.5h0M106.8 211.2h0"/><path stroke="#e44e30" d="M233.4 203.6h0M236.2 203.6h0M238.8 203.0h0M241.1 203.1h0M242.4 202.5h0M185.0 211.4h0M177.0 212.7h0M115.2 221.9h0M116.8 221.5h0M120.3 220.9h0"/><path stroke="#e44e36" d="M245.2 203.8h0M232.2 205.1h0M234.5 204.5h0M236.7 205.4h0M238.8 205.8h0M241.0 205.7h0M244.1 205.8h0M245.7 204.3h0M226.5 207.9h0M231.0 207.6h0M233.7 207.7h0M236.1 207.8h0M237.6 206.3h0M240.5 207.7h0M242.4 206.6h0M244.3 206.4h0M227.4 208.3h0M230.5 209.6h0M231.9 209.0h0M234.2 208.5h0M236.9 208.5h0M238.7 209.4h0M241.4 209.6h0M243.8 209.8h0M187.6 211.5h0M222.5 211.4h0M226.4 211.8h0M228.5 211.7h0M232.0 210.8h0M233.0 211.7h0M235.8 211.3h0M238.9 210.7h0M240.5 211.1h0M179.2 213.1h0M181.9 213.8h0M183.7 212.9h0M187.0 212.4h0M188.3 213.5h0M220.9 213.4h0M222.9 212.5h0M225.0 213.6h0M228.5 213.6h0M230.8 213.5h0M232.1 212.4h0M234.1 213.4h0M237.8 212.9h0M239.9 213.6h0M240.9 213.8h0M177.9 214.3h0M181.2 215.7h0M182.8 214.8h0M185.0 215.0h0M187.2 214.5h0M222.6 214.9h0M227.2 215.4h0M228.3 215.4h0M232.9 215.1h0M235.6 214.7h0M179.9 216.5h0M181.9 216.6h0M184.1 216.6h0M186.7 217.8h0M189.2 217.3h0M177.9 218.7h0M181.2 219.4h0M182.8 219.5h0M184.7 218.9h0M187.5 218.7h0M189.6 219.7h0M121.4 221.4h0M132.8 221.7h0M178.8 221.0h0M181.7 221.4h0M184.8 221.8h0M186.2 221.0h0M189.3 221.6h0M114.7 223.6h0M116.2 222.7h0M119.2 223.5h0M120.2 223.0h0M123.3 223.4h0M124.7 222.8h0M127.7 222.7h0M135.3 223.7h0M178.3 222.8h0M180.5 222.4h0M183.5 223.1h0M114.8 224.4h0M118.2 225.6h0M120.0 225.3h0M124.1 225.8h0M126.0 225.3h0M130.9 225.1h0M133.5 225.6h0M135.3 224.9h0M116.0 226.6h0M119.4 226.3h0M120.4 227.1h0M123.3 227.2h0M125.6 227.5h0M130.8 227.3h0M131.9 227.8h0M134.8 226.3h0M136.9 226.4h0M117.7 229.0h0M120.0 229.8h0M122.8 229.0h0M128.7 229.6h0M133.8 229.0h0M136.4 229.4h0M119.0 231.8h0M120.9 231.1h0M124.8 230.8h0M127.7 230.7h0M129.8 230.4h0"/><path stroke="#e45436" d="M238.1 215.2h0M221.6 217.5h0M228.2 216.8h0M229.8 217.4h0M234.3 216.6h0M236.3 216.9h0M217.6 219.1h0M221.3 219.2h0M227.2 219.9h0M231.1 218.6h0M233.3 218.4h0M220.5 220.6h0M223.3 221.0h0M225.1 221.0h0M228.3 221.4h0M229.7 221.1h0M185.9 223.9h0M187.0 222.8h0M190.5 223.4h0M217.1 223.5h0M219.2 222.5h0M225.0 223.2h0M226.9 223.6h0M229.2 222.6h0M180.3 225.4h0M181.9 225.5h0M183.4 224.9h0M186.7 224.9h0M188.2 225.8h0M190.5 224.9h0M211.1 225.6h0M213.8 225.2h0M216.0 225.2h0M181.0 227.3h0M183.4 227.4h0M185.6 226.4h0M188.3 227.7h0M189.3 227.7h0M192.6 227.8h0M142.0 229.7h0M179.5 228.9h0M181.6 228.4h0M183.8 229.5h0M189.5 229.1h0M190.4 228.8h0M134.7 230.8h0M136.7 231.6h0M138.9 231.1h0M142.4 230.7h0M143.5 231.8h0M121.9 233.9h0M124.0 232.7h0M126.6 233.8h0M131.8 232.8h0M133.2 233.6h0M136.1 233.4h0M138.2 232.3h0M140.0 233.7h0M143.1 233.4h0M145.6 233.8h0M147.0 233.5h0M126.2 235.0h0M128.5 234.8h0M130.5 235.4h0M131.7 234.8h0M134.7 234.9h0M136.7 234.5h0M139.6 234.7h0M142.2 235.0h0M144.1 235.7h0M145.7 234.6h0M149.2 234.7h0M94.9 237.7h0M96.6 237.6h0M98.6 237.3h0M103.0 237.2h0M105.2 236.8h0M120.3 236.9h0M124.8 237.8h0M128.9 237.8h0M131.4 237.2h0M137.5 236.6h0M141.2 237.0h0M143.3 236.7h0M96.1 238.8h0M99.7 239.7h0M102.3 239.8h0M121.0 238.8h0M125.0 238.4h0M127.9 238.4h0M92.8 241.3h0M93.9 240.9h0M96.1 241.5h0M98.5 241.1h0M101.9 241.0h0M102.9 241.2h0M106.7 240.7h0M108.3 241.4h0M93.2 242.6h0M96.4 243.7h0M98.0 243.1h0"/><path stroke="#ea5436" d="M219.0 225.8h0M220.8 225.2h0M223.7 224.8h0M225.3 225.5h0M209.0 227.2h0M211.2 227.8h0M218.0 227.7h0M219.6 226.5h0M207.4 229.6h0M209.5 228.5h0M214.7 228.9h0M218.3 229.7h0M221.1 228.8h0M180.2 231.7h0M183.6 231.0h0M186.9 230.6h0M189.9 230.9h0M192.4 231.7h0M205.7 230.6h0M207.8 231.2h0M211.0 231.1h0M213.6 231.1h0M215.3 231.1h0M179.7 233.7h0M181.5 232.3h0M184.2 233.0h0M188.8 233.0h0M190.9 233.1h0M205.0 233.5h0M213.7 232.4h0M183.6 234.7h0M184.9 235.3h0M187.0 234.9h0M190.3 235.5h0M192.6 235.0h0M144.4 237.2h0M147.5 236.7h0M151.8 236.5h0M154.6 237.4h0M180.3 236.4h0M131.8 239.1h0M137.7 238.7h0M139.6 239.7h0M141.3 239.6h0M144.0 239.4h0M153.8 238.4h0M157.2 238.8h0M126.3 241.6h0M129.7 240.5h0M131.6 240.9h0M134.1 240.6h0M136.0 240.7h0M137.7 241.3h0M139.7 241.6h0M142.4 241.6h0M147.2 240.9h0M150.3 241.8h0M152.6 240.8h0M158.8 240.7h0M101.0 243.8h0M102.8 243.8h0M104.8 243.2h0M109.3 243.0h0M123.2 243.4h0M130.9 242.7h0M133.0 243.4h0M136.4 243.5h0M138.8 242.7h0M94.3 244.4h0M96.8 245.2h0M98.3 245.3h0M101.4 244.9h0M103.7 244.5h0M106.5 244.7h0M108.0 244.8h0M110.7 244.9h0M122.8 244.7h0M124.4 245.4h0M131.6 244.5h0M92.9 247.1h0M96.0 247.7h0M97.6 246.4h0M100.0 247.9h0M102.7 247.7h0M104.6 246.7h0M107.8 246.9h0M108.6 247.7h0M112.2 246.8h0M93.9 249.8h0M97.1 249.5h0M99.8 248.6h0M101.3 249.3h0M103.3 248.8h0M92.7 250.4h0M95.0 250.4h0"/><path stroke="#ea5a36" d="M207.8 233.7h0M211.8 232.9h0M202.0 234.6h0M203.5 235.1h0M205.2 234.7h0M182.2 237.3h0M183.8 237.4h0M186.9 237.8h0M189.0 236.7h0M191.7 237.3h0M193.1 236.8h0M199.6 236.7h0M202.9 236.6h0M205.4 237.1h0M209.2 236.5h0M180.9 238.8h0M182.6 239.5h0M187.9 238.6h0M189.8 239.6h0M192.6 239.6h0M193.9 238.5h0M154.2 241.9h0M157.1 241.3h0M180.0 240.5h0M181.4 241.4h0M185.8 241.1h0M142.3 243.8h0M144.5 243.3h0M145.5 243.4h0M148.0 243.2h0M151.5 243.7h0M153.9 242.6h0M156.1 243.7h0M157.1 243.1h0M160.1 242.8h0M162.0 242.7h0M129.5 245.9h0M133.0 245.5h0M142.2 244.3h0M145.7 245.4h0M147.9 244.8h0M150.1 245.7h0M152.0 245.3h0M154.1 244.4h0M157.0 244.9h0M159.2 245.4h0M162.7 244.5h0M129.9 247.3h0M132.6 247.2h0M134.0 246.7h0M137.0 246.8h0M139.3 247.2h0M141.4 247.2h0M144.3 247.3h0M146.0 247.3h0M151.0 246.7h0M105.3 249.6h0M108.1 249.7h0M110.6 248.6h0M113.0 249.7h0M128.8 249.2h0M131.7 249.0h0M98.4 250.3h0M104.3 250.8h0M107.4 251.6h0M109.1 250.5h0M112.0 251.6h0M94.4 252.5h0M96.3 253.8h0M98.3 253.7h0M108.8 252.4h0"/><path stroke="#ea5a3c" d="M203.3 239.0h0M206.1 239.4h0M190.3 241.8h0M193.8 241.6h0M195.8 241.9h0M181.2 242.5h0M185.7 242.9h0M189.9 243.2h0M192.3 243.0h0M193.8 242.8h0M197.2 243.4h0M199.8 242.9h0M202.2 243.6h0M203.3 243.1h0M175.6 245.7h0M177.6 245.8h0M179.7 245.5h0M182.0 244.7h0M183.5 244.8h0M187.0 245.9h0M188.9 245.6h0M190.4 244.8h0M193.5 244.5h0M195.9 245.8h0M198.0 245.7h0M200.5 245.2h0M149.2 247.5h0M152.9 246.8h0M156.1 247.9h0M159.6 247.7h0M162.3 247.4h0M165.3 247.5h0M166.7 246.9h0M171.2 247.4h0M183.6 247.9h0M185.2 247.3h0M190.0 246.6h0M192.9 247.0h0M194.2 247.2h0M196.8 247.1h0M198.7 246.6h0M200.9 247.2h0M133.1 249.9h0M142.9 248.6h0M145.2 248.4h0M147.5 248.6h0M149.5 249.2h0M151.8 249.9h0M154.2 248.7h0M161.4 249.8h0M164.1 249.6h0M165.7 249.5h0M167.5 248.3h0M173.4 248.5h0M174.3 249.4h0M176.6 248.6h0M182.2 249.0h0M183.7 248.4h0M186.1 249.2h0M188.9 249.1h0M193.7 249.4h0M197.9 248.9h0M130.2 250.5h0M133.0 251.4h0M135.1 250.4h0M137.6 251.5h0M139.2 250.9h0M141.4 251.1h0M143.3 250.6h0M146.3 251.1h0M148.3 251.9h0M150.9 250.8h0M152.8 251.0h0M155.1 251.0h0M158.1 250.4h0M159.6 251.0h0M163.0 251.5h0M164.6 251.3h0M167.3 250.7h0M168.8 251.1h0M175.8 251.0h0M180.8 251.4h0M106.7 253.8h0M111.1 252.9h0M112.6 253.6h0M131.9 253.4h0M133.7 253.3h0M135.8 253.8h0M138.5 252.4h0M139.9 252.4h0M142.6 253.9h0M145.0 252.8h0M146.9 252.9h0M149.1 253.6h0M151.9 253.4h0M158.1 253.3h0M160.5 253.2h0M163.7 252.9h0M166.4 252.7h0M172.5 252.4h0M95.9 255.6h0M97.4 255.5h0M99.6 254.8h0M107.6 255.6h0M112.4 255.8h0M113.5 254.8h0M139.9 255.1h0M144.3 254.5h0M147.7 255.1h0M150.2 255.0h0M153.6 255.2h0M158.0 254.7h0M97.1 256.4h0M98.3 256.6h0M102.9 256.6h0M108.8 257.1h0M109.8 257.8h0M113.1 257.7h0M142.7 256.6h0M145.4 256.4h0M98.6 258.7h0M105.4 259.3h0M106.9 258.5h0M108.7 259.8h0M111.4 258.9h0M98.7 261.1h0M100.7 260.7h0M106.1 261.0h0M108.0 260.3h0M110.5 260.9h0M100.4 262.7h0M104.2 262.4h0"/><path stroke="#ea603c" d="M195.1 249.5h0M199.5 248.8h0M182.5 251.8h0M184.8 251.2h0M194.8 250.5h0M168.6 253.5h0M171.1 253.9h0M174.8 253.0h0M185.7 252.8h0M188.1 253.5h0M190.8 253.6h0M193.6 253.8h0M195.6 252.4h0M160.0 255.4h0M161.9 254.6h0M165.0 254.4h0M168.8 254.9h0M170.9 254.6h0M174.1 255.4h0M175.6 255.9h0M178.0 255.6h0M179.9 255.5h0M183.8 255.7h0M186.0 255.3h0M187.3 255.7h0M189.6 254.8h0M191.9 255.8h0M147.6 257.3h0M151.9 256.8h0M153.6 257.2h0M158.4 256.4h0M163.3 256.3h0M166.5 256.3h0M167.4 256.9h0M172.3 257.3h0M175.4 256.7h0M177.6 257.3h0M179.8 256.3h0M181.8 256.6h0M184.5 257.6h0M186.3 257.9h0M188.6 257.8h0M151.6 258.6h0M153.1 258.8h0M154.8 258.4h0M157.1 258.9h0M160.1 258.6h0M163.1 259.8h0M169.1 258.8h0M171.8 259.4h0M173.1 258.9h0M175.5 258.5h0M179.0 259.7h0M180.4 258.8h0M182.4 258.5h0M187.0 258.8h0M150.2 261.9h0M156.8 260.4h0M159.5 260.4h0M163.8 261.6h0M167.6 260.9h0M111.8 262.6h0M113.2 263.8h0M153.4 262.5h0M159.8 262.8h0M101.2 264.5h0M108.2 264.6h0M112.5 264.8h0M103.2 267.9h0M104.4 267.1h0M107.8 267.5h0M108.9 267.4h0M112.0 266.3h0M108.7 269.5h0M110.6 268.5h0M112.3 268.5h0M106.5 270.8h0"/><path stroke="#ea663c" d="M184.9 259.8h0M172.7 261.6h0M176.5 261.0h0M178.8 260.6h0M164.0 262.9h0M166.1 263.0h0M104.8 271.6h0M109.4 270.8h0"/><path stroke="#ea6642" d="M175.6 261.7h0M181.8 261.3h0M169.2 263.5h0M171.5 262.6h0M173.4 263.0h0M176.1 262.7h0M177.8 263.6h0M180.2 262.6h0M156.5 264.6h0M165.8 265.6h0M167.7 265.8h0M170.8 264.3h0M171.9 264.6h0M177.0 264.4h0M155.7 266.6h0M160.8 266.5h0M112.0 271.9h0M105.8 273.2h0M108.3 272.7h0M110.6 273.4h0M107.7 275.2h0M109.6 274.9h0"/><path stroke="#ea6c42" d="M171.6 266.6h0M111.5 275.5h0M108.8 277.5h0"/><path stroke="#ea6c48" d="M109.9 277.8h0M112.5 277.5h0M108.7 279.6h0"/><path stroke="#ea7248" d="M110.6 280.8h0M109.4 283.5h0"/><path stroke="#ea724e" d="M113.4 283.2h0"/><path stroke="#f0784e" d="M115.2 284.5h0M112.3 286.6h0"/><path stroke="#f07e4e" d="M118.7 287.7h0M120.5 287.2h0"/><path stroke="#f07e54" d="M117.7 289.3h0M116.0 291.5h0M119.3 291.6h0M120.9 291.3h0"/><path stroke="#f08454" d="M115.1 293.2h0M116.8 292.9h0M119.6 293.7h0M122.4 293.4h0"/><path stroke="#f0845a" d="M114.7 295.1h0M116.8 295.1h0M118.6 295.3h0M121.6 295.1h0M123.7 295.4h0"/><path stroke="#f08a5a" d="M117.6 296.7h0M120.0 297.3h0M122.8 297.3h0M124.0 297.4h0M118.4 298.4h0M123.1 298.9h0M124.9 299.0h0M127.2 298.5h0"/><path stroke="#f09060" d="M119.2 301.4h0M122.6 301.0h0M124.5 301.7h0M126.0 301.4h0M123.0 302.9h0M124.9 303.5h0"/><path stroke="#f09660" d="M124.9 304.6h0"/></g><g fill="none" stroke-width="2.6" stroke-linecap="round"><path stroke="#c01e18" d="M387.7 44.1h0M379.1 47.1h0M388.4 46.0h0M376.1 48.3h0M384.8 49.1h0M370.7 49.8h0M372.3 50.4h0M375.2 49.7h0M376.7 51.1h0M379.6 50.3h0M386.9 51.1h0M389.6 49.9h0M366.7 52.0h0M369.8 52.0h0M371.6 51.9h0M374.4 52.2h0M375.7 53.2h0M379.1 52.1h0M386.0 52.8h0M370.6 54.6h0M373.1 53.9h0M383.8 53.7h0M358.1 57.3h0M361.0 57.2h0M364.7 56.9h0M369.1 56.0h0M376.4 56.1h0M356.7 58.0h0M359.5 58.0h0M360.8 58.0h0M363.6 59.2h0M367.8 58.2h0M372.7 58.6h0M375.0 58.8h0M353.8 60.9h0M355.4 60.6h0M357.3 60.8h0M360.3 60.4h0M363.1 60.8h0M364.8 60.8h0M366.8 60.4h0M372.4 60.4h0M373.3 60.5h0M352.9 62.0h0M354.4 62.8h0M357.0 62.5h0M359.3 62.0h0M360.7 62.7h0M364.3 63.3h0M366.7 61.7h0M368.7 63.0h0M372.7 62.3h0M350.3 64.2h0M353.9 64.4h0M356.1 64.1h0M363.0 63.7h0M367.4 63.9h0M372.0 64.4h0"/><path stroke="#c01e12" d="M358.1 65.0h0M365.5 64.6h0M369.3 65.3h0M348.3 65.8h0M349.4 67.1h0M351.8 67.1h0M359.3 67.0h0M361.3 66.3h0M363.4 67.0h0M365.3 65.7h0M367.6 67.2h0M347.0 68.2h0M349.0 68.2h0M351.7 69.0h0M353.4 68.4h0M358.1 68.9h0M359.6 68.5h0M362.1 69.1h0M364.3 68.0h0M366.9 68.8h0M345.5 71.3h0M348.2 69.8h0M350.2 70.4h0M352.3 70.5h0M354.4 70.3h0M356.9 70.3h0M364.3 70.6h0M347.1 72.2h0M349.3 72.6h0M352.8 72.6h0M355.9 73.3h0M357.7 72.5h0M359.8 72.5h0M362.0 72.8h0M344.7 75.0h0M347.0 73.9h0M349.1 75.1h0M351.5 74.9h0M353.8 74.2h0M356.8 74.5h0"/><path stroke="#ba1e12" d="M344.7 76.0h0M348.4 76.5h0M350.9 76.1h0M352.7 76.6h0M355.0 76.7h0M337.6 77.8h0M352.1 77.8h0"/><path stroke="#ba1812" d="M324.0 79.1h0M341.2 78.8h0M342.5 79.3h0M327.5 79.9h0M337.6 80.5h0M318.3 81.9h0M320.2 82.7h0M322.1 83.0h0M340.4 82.6h0M343.7 82.6h0M350.3 83.2h0M318.1 83.9h0M320.6 84.6h0M323.2 84.9h0M325.3 84.0h0M334.9 84.1h0M337.5 83.7h0M339.6 83.9h0M342.6 83.9h0M351.6 84.0h0M352.7 85.0h0M355.2 83.8h0M358.1 85.3h0M318.0 85.8h0M320.7 86.4h0M335.8 86.3h0M338.8 86.9h0M340.2 86.0h0M349.6 86.5h0M352.8 87.0h0M354.8 87.2h0M360.8 86.0h0M364.0 87.2h0M316.9 87.8h0M319.2 88.4h0M337.5 88.4h0M339.8 88.2h0M349.3 88.2h0M351.1 88.5h0M355.7 88.6h0M358.5 88.9h0M362.8 88.5h0M365.3 88.0h0M315.9 91.2h0M317.5 90.5h0M351.7 91.1h0M354.7 91.2h0M356.5 89.8h0M359.8 90.2h0M361.0 90.9h0M364.2 90.0h0M365.4 90.6h0M314.6 91.8h0M317.2 92.6h0M318.5 92.4h0M353.1 93.2h0M355.0 93.1h0M358.5 91.8h0M360.4 92.9h0M364.9 92.6h0M367.1 92.8h0M368.7 93.2h0M372.3 93.0h0M316.1 94.1h0M317.4 95.0h0M353.0 94.2h0M356.7 95.0h0M359.7 95.0h0M361.0 94.7h0M366.4 93.8h0M368.2 94.2h0M373.4 94.0h0M321.3 96.3h0M358.7 95.8h0M363.1 96.2h0M367.1 95.9h0M369.8 95.9h0"/><path stroke="#b41812" d="M314.8 97.3h0M317.0 97.2h0M319.4 96.9h0M323.7 97.1h0M360.7 96.6h0M365.5 97.3h0M372.0 96.7h0M373.5 97.0h0M376.7 96.8h0M379.3 96.8h0M312.6 99.1h0M317.0 99.0h0M322.2 98.6h0M323.9 98.5h0M326.3 98.7h0M361.9 98.8h0M364.0 98.9h0M365.6 97.8h0M371.1 98.5h0M372.9 99.1h0M377.9 99.3h0M316.2 101.1h0M320.7 100.8h0M323.6 101.0h0M325.3 100.0h0M365.1 100.7h0M367.5 99.8h0M371.4 100.3h0M373.8 101.2h0M376.1 99.8h0M317.7 102.4h0"/><path stroke="#b41212" d="M313.4 103.0h0M322.5 103.1h0M313.9 103.9h0M321.9 104.5h0M344.4 104.7h0M346.1 105.2h0M318.0 107.0h0M319.8 106.8h0M336.7 106.8h0M338.9 105.9h0M341.0 106.0h0M343.0 106.2h0M345.4 105.9h0M348.2 106.0h0M350.0 106.7h0M351.8 107.2h0M361.7 106.2h0M365.6 107.1h0M314.3 109.0h0M317.1 108.5h0M319.1 107.8h0M330.4 108.0h0M331.9 108.0h0M337.6 109.0h0M340.3 108.9h0M344.5 108.0h0M348.7 109.2h0M350.4 108.8h0M356.4 108.5h0M360.3 109.1h0M365.5 108.3h0M366.5 108.1h0M312.8 109.9h0M318.4 110.9h0M327.0 110.3h0M340.7 110.4h0M344.7 110.5h0M346.8 109.8h0M349.3 110.8h0M357.4 110.2h0M361.7 110.1h0M365.6 110.8h0M367.6 111.3h0M370.0 110.0h0M314.8 112.3h0M321.5 112.1h0M332.4 113.2h0M334.4 112.3h0M339.6 112.6h0M341.9 112.9h0M343.7 112.0h0M346.6 112.8h0M348.9 112.5h0M353.0 112.7h0M355.7 112.3h0M357.4 112.1h0M360.3 112.7h0M362.2 112.8h0M365.5 112.3h0M369.8 113.3h0M372.2 112.8h0M376.2 111.8h0M322.3 114.6h0M327.3 113.9h0M340.8 113.8h0M348.3 115.0h0M350.1 114.0h0M352.3 114.2h0M356.6 114.2h0M360.8 115.2h0M363.0 114.9h0M368.7 114.1h0M370.0 114.6h0M372.8 113.9h0M375.0 115.2h0M323.7 116.7h0M325.5 116.1h0M328.0 116.3h0M339.5 116.3h0M348.7 115.9h0M352.7 116.1h0M355.8 116.1h0M358.3 117.0h0M362.4 117.1h0"/><path stroke="#ae1212" d="M350.7 117.3h0"/><path stroke="#ae120c" d="M313.0 119.1h0M321.7 119.0h0M323.9 119.3h0M329.5 119.0h0M350.2 118.7h0M352.3 118.7h0M354.9 119.3h0M359.6 119.0h0M364.3 119.1h0M366.1 118.9h0M311.5 121.1h0M317.2 120.2h0M318.7 120.3h0M320.7 121.2h0M325.9 120.2h0M338.9 120.9h0M346.0 120.2h0M348.9 120.8h0M350.9 120.9h0M353.2 121.2h0M355.6 121.1h0M358.0 120.8h0M360.3 120.2h0M362.0 119.9h0M364.4 120.7h0M366.4 120.9h0M310.6 122.8h0M315.1 123.0h0M317.7 123.2h0M320.7 121.8h0M325.2 122.6h0M326.5 121.8h0M329.3 122.4h0M331.5 121.8h0M333.5 122.6h0M336.5 122.4h0M338.2 122.7h0M343.0 123.3h0M345.0 122.5h0M355.2 121.9h0M356.8 122.5h0M359.9 122.1h0M361.9 122.0h0M362.9 122.5h0M366.2 122.5h0M309.9 124.3h0M311.4 124.8h0M316.9 123.8h0M318.7 124.7h0M323.4 124.4h0M325.7 124.9h0M327.8 124.9h0M329.6 125.2h0M333.2 124.9h0M334.3 123.9h0M341.3 125.3h0M343.8 124.6h0M346.3 125.0h0M353.3 123.9h0M356.1 124.7h0M358.5 124.9h0M360.3 124.5h0M362.8 124.3h0M364.8 123.9h0M367.6 123.8h0M310.9 126.1h0M312.6 127.3h0M318.3 126.7h0M319.8 125.8h0M321.6 126.8h0M323.8 126.4h0M327.1 126.3h0M328.7 127.2h0M331.9 127.1h0M333.1 126.7h0M337.9 126.0h0M340.5 126.9h0M342.9 126.7h0M344.7 127.3h0M347.0 127.3h0M349.4 127.1h0M354.1 126.7h0M356.0 125.9h0M359.5 126.9h0M361.6 127.0h0M363.7 126.7h0M365.5 126.8h0M369.0 126.1h0M370.0 126.8h0"/><path stroke="#ae0c0c" d="M306.7 128.4h0M322.8 127.9h0M325.3 128.6h0M331.0 129.2h0M332.1 128.7h0M334.4 128.3h0M339.9 127.8h0M341.6 129.2h0M344.4 128.6h0M347.0 129.2h0M349.5 128.7h0M350.9 128.1h0M353.6 128.5h0M355.6 129.1h0M358.5 128.5h0M360.1 129.0h0M362.4 128.1h0M365.0 128.4h0M369.1 128.3h0M308.2 131.0h0M310.5 130.3h0M324.9 131.1h0M328.9 129.8h0M334.5 130.2h0M336.0 131.2h0M341.1 131.0h0M343.1 130.1h0M344.6 131.1h0M347.8 130.9h0M350.0 129.9h0M352.8 130.7h0M354.4 130.7h0M357.3 131.2h0M358.4 130.0h0M362.2 130.1h0M368.2 131.1h0M370.0 130.5h0M304.9 132.7h0M306.6 132.3h0M317.2 132.7h0M321.0 133.2h0M323.4 132.9h0M325.1 132.5h0M328.5 133.2h0M330.6 133.1h0M336.5 132.0h0M342.2 133.1h0M346.2 131.9h0M348.8 132.3h0M351.2 132.9h0M353.2 131.9h0M357.2 132.6h0M360.2 132.6h0M367.5 132.7h0M368.9 132.7h0M301.0 135.0h0M303.4 135.0h0M305.9 134.2h0M307.7 134.1h0M315.4 133.8h0M318.1 134.5h0M319.5 135.1h0M324.2 135.3h0M326.6 134.8h0M329.7 133.9h0M332.0 134.2h0M333.3 134.0h0M336.1 135.0h0M347.2 135.0h0M349.8 134.2h0M352.3 133.9h0M359.7 134.9h0M363.9 135.0h0M366.5 134.5h0M369.1 135.3h0M370.6 134.5h0M300.9 135.9h0M302.2 136.6h0M304.3 136.3h0M307.9 136.9h0M309.9 135.9h0M312.2 136.5h0M316.2 135.9h0M318.2 136.1h0M320.5 136.9h0M324.1 136.2h0M326.1 136.9h0M328.1 136.0h0M329.8 137.3h0M332.4 137.0h0M334.7 137.3h0M342.2 137.3h0M344.1 136.8h0M350.4 136.0h0M353.1 135.8h0M355.8 136.2h0M365.2 136.3h0M366.9 136.7h0M369.1 136.1h0M331.6 137.9h0"/><path stroke="#a80c0c" d="M299.7 138.2h0M301.3 139.3h0M303.6 138.2h0M308.7 139.2h0M311.0 138.7h0M312.7 138.2h0M315.7 139.2h0M318.4 138.7h0M319.4 138.6h0M322.6 138.6h0M324.2 138.6h0M329.4 138.2h0M334.3 138.3h0M336.5 138.9h0M355.3 139.2h0M356.1 138.5h0M365.5 139.2h0M368.0 138.6h0M370.7 139.3h0M372.6 138.3h0M297.8 140.3h0M300.0 140.7h0M304.8 141.2h0M309.6 140.4h0M311.9 140.4h0M316.0 141.2h0M318.9 140.0h0M321.3 139.8h0M323.6 141.1h0M326.4 141.0h0M328.6 140.2h0M329.9 140.5h0M332.7 140.0h0M335.3 140.7h0M336.8 141.1h0M338.9 140.4h0M348.1 140.4h0M351.6 140.3h0M353.7 140.1h0M355.5 140.2h0M369.4 140.0h0M372.1 140.3h0M296.5 142.2h0M299.0 143.0h0M308.9 142.5h0M310.4 143.0h0M312.4 142.2h0M315.3 143.0h0M318.2 142.0h0M319.7 143.0h0M323.0 141.9h0M331.7 142.4h0M334.4 141.9h0M335.4 143.2h0M339.1 143.3h0M340.1 142.1h0M343.5 143.3h0M348.1 142.4h0M352.5 142.1h0M363.8 143.0h0M367.8 142.0h0M370.5 142.2h0M294.3 145.1h0M296.0 144.7h0M298.5 144.1h0M301.2 145.0h0M303.0 145.2h0M309.8 144.7h0M312.0 144.7h0M314.2 145.2h0M317.1 144.5h0M318.8 144.9h0M321.2 144.7h0M323.4 145.0h0M326.4 144.9h0M328.8 144.0h0M331.0 145.2h0M332.4 144.2h0M335.4 144.3h0M337.9 144.8h0M339.7 144.4h0M343.4 144.9h0M346.9 145.3h0M348.2 145.1h0M350.3 143.9h0M353.0 144.9h0M362.5 144.6h0M365.3 144.1h0M293.2 145.9h0M294.3 146.8h0M296.2 145.8h0M299.3 145.9h0M301.8 146.1h0M306.0 146.9h0M308.8 147.0h0M312.7 145.8h0M315.4 146.2h0M318.1 145.8h0M319.4 147.3h0M322.5 146.4h0M325.0 145.9h0M327.5 146.7h0M334.3 146.2h0M335.5 146.0h0M339.0 146.7h0M340.8 146.3h0M342.6 145.9h0M350.6 147.1h0M355.3 147.1h0M357.4 146.5h0M361.2 147.1h0M369.9 147.3h0M375.7 146.7h0M290.5 148.4h0M294.2 148.0h0M295.4 148.7h0M298.4 149.1h0M300.4 149.2h0M302.5 148.2h0M304.6 148.3h0M307.5 149.2h0M317.1 148.7h0M318.4 148.3h0M320.8 149.0h0M323.9 148.8h0M326.0 148.2h0M327.9 148.9h0M332.8 148.2h0M334.6 148.2h0M339.0 148.8h0M341.1 149.2h0M346.8 149.1h0M357.5 149.0h0M360.7 148.4h0M362.1 147.9h0M365.5 147.8h0M366.8 148.7h0M372.3 149.3h0M378.3 149.0h0M290.0 150.4h0M292.6 151.2h0M295.4 151.1h0M297.7 149.9h0M298.7 150.2h0M300.9 150.2h0M303.4 151.0h0M305.8 150.8h0M313.7 149.8h0M315.3 150.9h0M317.0 149.8h0M322.7 150.2h0M324.0 150.2h0M326.2 150.2h0M329.2 150.4h0M331.9 150.6h0M333.6 151.2h0M336.2 149.8h0M338.8 150.1h0M347.7 150.0h0M349.7 151.3h0M354.7 150.7h0M357.3 150.1h0M359.5 149.8h0M361.5 150.5h0M363.2 150.9h0M365.8 150.4h0M373.4 150.4h0M382.4 150.6h0M383.9 151.0h0M288.6 152.1h0M291.5 153.2h0M293.2 151.9h0M295.6 151.8h0M297.9 153.1h0M300.8 151.8h0M302.9 153.0h0M305.7 152.3h0M330.7 152.2h0M332.2 153.1h0M334.6 152.6h0M336.5 152.9h0M341.4 152.9h0M343.9 153.2h0M346.0 152.7h0M348.0 152.7h0M351.5 152.8h0M353.3 153.0h0M360.5 152.9h0M361.8 153.0h0M364.4 152.0h0M366.9 152.6h0M369.1 152.0h0M372.2 152.2h0M374.6 153.2h0M375.8 152.9h0M378.3 152.1h0M383.2 152.9h0M288.3 154.8h0M290.5 154.9h0M292.1 154.6h0M296.8 154.9h0M299.2 154.7h0M301.6 153.8h0M336.1 154.8h0M338.3 154.5h0M341.3 154.3h0M343.1 154.2h0M353.0 154.1h0M355.3 155.2h0M362.0 155.1h0M364.4 155.0h0M365.4 155.3h0M368.7 154.6h0M375.7 154.2h0M377.6 153.9h0M379.8 154.0h0M284.1 156.9h0M287.0 157.3h0M288.8 156.7h0M291.6 156.8h0M294.1 157.2h0M296.0 156.5h0M300.6 155.9h0M303.5 157.1h0M332.5 155.9h0M335.6 156.2h0M337.6 155.9h0M339.0 156.7h0M341.9 155.8h0M344.7 156.8h0M346.0 156.8h0M349.4 156.2h0M350.8 157.0h0M352.6 156.8h0M359.5 155.9h0M362.7 156.1h0M365.3 156.8h0M366.6 157.1h0M369.1 156.8h0M374.7 156.8h0M376.9 156.5h0M381.0 156.7h0M383.2 155.8h0M283.4 158.6h0M286.2 158.8h0M288.5 159.3h0M290.5 158.0h0M292.1 157.9h0M295.2 158.5h0M301.8 158.7h0M303.9 158.8h0M335.6 158.8h0M338.3 158.5h0M340.0 159.0h0M343.2 158.1h0M344.8 158.3h0M349.2 159.2h0M354.3 159.2h0M363.3 159.1h0M366.1 158.7h0M368.4 159.0h0M370.4 157.8h0M373.7 158.3h0M374.4 158.4h0M376.9 159.1h0M380.5 158.1h0M381.8 157.8h0M384.3 158.3h0M282.5 160.9h0M283.8 160.4h0M286.1 160.7h0M289.6 161.3h0M291.9 160.2h0M292.9 161.3h0M305.3 161.1h0M337.6 160.4h0M340.1 161.4h0M342.1 161.2h0M344.1 161.3h0M347.1 160.5h0M349.2 160.7h0M351.4 161.1h0M353.6 159.8h0M358.6 161.4h0M363.3 160.3h0M364.1 160.2h0M366.6 160.7h0M368.7 159.9h0M371.6 161.1h0M373.8 160.8h0M376.7 160.3h0M378.6 159.8h0M382.7 160.0h0M385.6 161.2h0M388.1 161.0h0M281.6 163.2h0M283.1 162.8h0M286.0 162.5h0M287.5 163.4h0M290.4 162.6h0M293.1 162.3h0M296.4 163.1h0M336.0 162.7h0M338.3 163.0h0M340.5 162.7h0M343.3 163.4h0M345.7 162.2h0M347.1 161.9h0M350.2 163.0h0M351.4 162.6h0M354.5 162.8h0M361.9 162.7h0M366.3 163.0h0M371.0 163.3h0M372.8 162.3h0M375.9 162.5h0M377.6 162.7h0M380.0 162.9h0M381.7 163.2h0M387.2 162.4h0M388.3 162.5h0M279.9 164.1h0M282.1 164.8h0M284.9 164.2h0M286.3 164.1h0M288.5 164.9h0M290.5 164.3h0M293.7 165.2h0M296.2 164.1h0M297.9 164.5h0M300.4 165.3h0M302.9 164.5h0M336.6 164.1h0M339.4 164.4h0M342.3 164.7h0M343.7 164.6h0M346.7 164.6h0M348.8 164.7h0M351.8 164.0h0M353.4 165.0h0M358.1 164.4h0M363.3 164.7h0M365.1 164.6h0M366.5 164.3h0M369.8 163.8h0M372.3 164.9h0M373.3 163.8h0M376.5 165.0h0M379.4 164.2h0M381.4 165.1h0M280.7 167.1h0M283.2 165.9h0M285.9 166.7h0M287.2 165.8h0M289.5 167.1h0M292.5 165.9h0M294.9 167.1h0M296.8 167.3h0M299.0 166.8h0M303.2 166.7h0M305.4 166.3h0M316.9 166.5h0M320.4 166.0h0M338.7 166.7h0M340.8 166.6h0M343.6 166.6h0M345.3 167.1h0M347.1 166.9h0M349.8 166.0h0M354.0 166.6h0M357.3 166.6h0M360.8 165.9h0M363.6 167.1h0M367.6 166.2h0M370.8 165.8h0M379.6 167.0h0M383.8 165.9h0M280.2 167.9h0M281.7 168.1h0M284.1 168.9h0M285.9 167.9h0M289.5 168.3h0M290.5 169.2h0M292.8 168.6h0M295.3 169.1h0M298.9 168.6h0M300.4 168.3h0M302.0 168.1h0M315.8 167.8h0M337.2 168.0h0M340.1 169.3h0M342.6 169.1h0M343.5 168.5h0M348.9 168.8h0M359.9 168.1h0M361.9 169.1h0M365.1 168.7h0M367.2 167.8h0M369.6 167.9h0M379.3 169.1h0M279.1 171.2h0M281.1 170.1h0M283.9 170.4h0M285.1 170.8h0M288.1 170.2h0M290.0 170.4h0M292.8 170.7h0M295.5 170.4h0M296.6 169.9h0M300.0 170.0h0M306.8 170.0h0M317.3 170.2h0M322.0 171.1h0M339.1 169.9h0M340.1 170.0h0M343.7 170.1h0M345.7 170.1h0M361.9 170.6h0M363.4 171.2h0M365.4 170.7h0M373.5 170.0h0M375.3 169.9h0M277.1 173.0h0M279.9 172.2h0M282.7 173.3h0M283.9 172.8h0M287.3 171.9h0M288.2 173.0h0M292.0 173.1h0M294.1 172.5h0M295.4 172.0h0M298.5 173.3h0M300.8 172.6h0M307.5 172.4h0M339.6 173.1h0M342.5 172.8h0M343.4 172.9h0M347.2 171.8h0M349.5 171.9h0M355.4 172.6h0M362.9 173.0h0M364.4 172.3h0M373.5 172.9h0M379.4 173.1h0M276.1 174.8h0M279.0 175.2h0M280.3 175.1h0M283.5 174.5h0M284.9 175.0h0M287.5 175.0h0M290.2 175.0h0M292.7 174.1h0M295.2 174.3h0M297.3 175.1h0M298.7 174.8h0M301.4 174.9h0M304.2 175.3h0M309.2 173.9h0M340.9 174.6h0M342.5 174.1h0M344.6 174.9h0M347.8 174.0h0M350.2 174.3h0M352.7 175.2h0M355.3 175.3h0M357.2 174.0h0M363.1 175.2h0M370.0 174.9h0M379.6 174.5h0M277.7 176.8h0M279.0 177.1h0M282.0 177.1h0M284.4 176.6h0M291.4 176.3h0M292.8 176.4h0M295.1 177.2h0M298.3 176.5h0M299.9 176.1h0M303.0 177.1h0M337.2 176.5h0M339.7 177.2h0M342.0 176.0h0M343.4 176.6h0M346.7 177.1h0M348.3 176.1h0M351.2 175.9h0M353.9 177.3h0M366.5 176.5h0M372.5 176.4h0M376.3 176.3h0M278.6 178.6h0M280.5 179.2h0M284.0 177.9h0M286.1 179.3h0M287.7 179.4h0M290.4 177.8h0M292.5 179.2h0M294.8 178.8h0M297.5 178.6h0M300.0 178.6h0M301.8 178.2h0M303.2 177.9h0M311.4 178.2h0M335.9 179.1h0M338.9 177.9h0M340.6 178.3h0M342.4 178.6h0M345.5 177.8h0M346.8 178.0h0M350.4 179.1h0M355.2 178.6h0M356.7 177.8h0M359.3 178.5h0M368.3 179.3h0M370.3 178.5h0M373.6 179.1h0M375.8 177.9h0M275.4 181.1h0M277.3 179.9h0M280.1 180.7h0M282.4 180.6h0M284.9 180.0h0M286.8 181.2h0M288.2 180.3h0M291.1 181.0h0M298.7 179.8h0M300.6 179.8h0M303.0 180.7h0M304.8 179.8h0M307.1 181.3h0M312.0 181.3h0M329.8 181.0h0M332.6 180.3h0M334.3 180.0h0M336.7 181.0h0M344.9 181.0h0M346.4 179.9h0M348.0 180.2h0M351.2 180.3h0M352.8 181.1h0M364.6 180.2h0M374.4 180.6h0M376.0 180.1h0M377.9 180.9h0M276.7 182.1h0M278.8 183.3h0M281.6 181.9h0M283.2 182.8h0M284.8 183.2h0M287.1 182.0h0M297.7 183.2h0M299.9 183.0h0M302.1 182.3h0M304.6 182.4h0M306.7 182.6h0M309.1 183.1h0M311.3 182.8h0M313.1 182.8h0M331.9 182.5h0M335.4 183.3h0M338.3 182.7h0M343.5 182.2h0M364.0 183.3h0M365.3 182.0h0M374.8 182.2h0M377.2 182.4h0M277.2 185.3h0M280.5 184.7h0M281.6 183.8h0M283.6 185.0h0M286.4 184.2h0M288.8 184.1h0M296.2 184.3h0M298.8 184.9h0M301.0 185.0h0M302.7 185.3h0M305.7 185.3h0M306.8 184.2h0M309.1 184.9h0M312.4 184.1h0M314.7 183.8h0M316.4 184.5h0M318.4 184.7h0M321.9 184.7h0M323.3 184.4h0M327.3 184.8h0M330.5 184.9h0M333.3 183.9h0M337.4 184.9h0M339.1 184.7h0M342.3 185.2h0M345.9 184.9h0M349.3 184.1h0M360.4 184.2h0M365.6 185.1h0M369.5 184.2h0M371.1 184.5h0M373.7 184.2h0M375.6 184.4h0M278.2 187.3h0M280.4 187.1h0M283.4 185.9h0M288.4 186.7h0M289.4 186.8h0M292.3 187.0h0M295.4 185.9h0M297.3 186.0h0M299.6 187.2h0M301.0 186.9h0M303.8 186.9h0M306.5 187.0h0M308.3 185.8h0M316.0 186.6h0M318.3 186.0h0M320.3 186.2h0M322.5 187.3h0M324.7 186.1h0M327.6 186.9h0M329.3 187.1h0M332.1 186.6h0M333.6 186.6h0M336.1 187.3h0M337.7 186.1h0M340.1 186.1h0M343.1 185.9h0M344.5 185.8h0M348.4 186.9h0M349.4 186.6h0M351.8 186.0h0M360.7 187.2h0M368.9 186.4h0M371.0 186.9h0M372.6 186.6h0M375.8 187.3h0M376.9 186.6h0M279.6 189.0h0M281.5 188.2h0M283.6 188.6h0M287.2 188.0h0M288.7 188.7h0M290.6 189.1h0M293.2 188.4h0M295.4 189.2h0M297.7 189.2h0M299.8 189.1h0M302.9 188.9h0M304.6 188.0h0M307.5 187.9h0M309.3 188.2h0M314.8 188.0h0M315.9 188.3h0M321.9 187.9h0M323.9 189.2h0M325.2 188.2h0M328.4 188.1h0M331.1 188.3h0M331.9 188.7h0M335.0 188.1h0M336.9 188.7h0M340.2 188.6h0M341.3 189.1h0M344.9 187.9h0M345.8 188.2h0M348.0 187.8h0M350.4 188.5h0M352.6 187.9h0M365.1 188.6h0M367.4 189.1h0M368.9 188.9h0M371.2 188.9h0M374.3 187.9h0M376.7 188.6h0M283.2 190.6h0M285.2 190.5h0M290.7 190.2h0M292.4 190.5h0M294.7 190.5h0M296.7 191.4h0M298.9 190.9h0M301.9 191.2h0M303.7 190.1h0M306.4 189.9h0M315.8 190.7h0M320.2 190.9h0M322.0 190.0h0M324.7 191.3h0M326.6 191.3h0M329.8 190.1h0M331.5 191.2h0M333.9 191.3h0M336.7 190.8h0M338.8 190.7h0M340.9 190.7h0M342.6 190.2h0M345.4 190.6h0M347.9 189.8h0M356.1 191.3h0M361.9 190.1h0M366.2 190.3h0M369.0 191.3h0M370.4 191.0h0M372.1 190.1h0M375.9 190.3h0M282.7 192.9h0M284.3 192.7h0M288.2 193.1h0M291.6 192.3h0M293.9 192.1h0M295.8 191.9h0M302.1 192.7h0M305.1 192.3h0M307.4 191.8h0M313.5 192.3h0M317.2 193.2h0M318.4 192.8h0M321.6 193.0h0M322.9 192.7h0M325.1 192.7h0M328.8 193.4h0M329.8 192.2h0M332.2 192.7h0M334.3 193.2h0M337.4 192.5h0M339.7 192.3h0M341.8 191.9h0M344.8 193.1h0M347.1 192.2h0M348.2 193.0h0M351.2 193.0h0M352.8 193.3h0M356.0 193.4h0M358.6 192.5h0M360.8 192.5h0M367.4 192.7h0M374.8 192.8h0M283.6 194.9h0M285.0 193.9h0M287.9 194.1h0M290.6 194.3h0M291.9 194.8h0M294.0 194.5h0M300.9 193.9h0M304.2 194.6h0M306.1 194.9h0M309.0 194.4h0M310.4 194.7h0M313.3 195.3h0M321.7 194.9h0M327.0 193.9h0M329.2 194.6h0M331.4 195.4h0M334.6 194.2h0M336.8 194.3h0M337.7 195.2h0M340.0 195.1h0M342.4 195.3h0M345.6 194.3h0M352.5 194.8h0M354.1 195.2h0M357.1 194.8h0M358.8 195.1h0M284.6 195.9h0M286.0 195.8h0M289.4 196.0h0M291.6 197.4h0M293.6 196.1h0M295.2 196.1h0M297.7 196.0h0M305.0 196.2h0M306.6 196.1h0M309.3 196.6h0M311.7 197.2h0M314.8 197.3h0M316.6 195.8h0M321.3 196.0h0M325.0 196.9h0M328.5 196.3h0M332.7 196.5h0M334.7 196.3h0M337.9 195.8h0M340.1 197.0h0M342.2 197.4h0M344.6 197.2h0M346.3 196.1h0M349.5 196.6h0M350.6 196.4h0M353.1 196.4h0M356.3 197.3h0M358.6 196.5h0M360.8 196.3h0M285.7 198.3h0M287.9 197.9h0M289.3 199.3h0M291.7 199.3h0M295.2 198.6h0M296.7 199.2h0M298.9 198.2h0M302.0 198.3h0M304.5 198.2h0M305.5 199.2h0M308.4 198.3h0M311.1 197.8h0M313.6 197.9h0M315.1 198.3h0M320.2 198.5h0M321.6 197.8h0M325.0 198.8h0M326.8 199.2h0M328.7 199.0h0M331.4 198.3h0M333.1 199.3h0M336.7 197.8h0M342.8 198.6h0M345.2 198.6h0M349.8 198.8h0M352.1 198.8h0M355.1 198.1h0M356.1 199.1h0M359.7 197.9h0M363.5 199.2h0M371.2 198.1h0M286.6 200.9h0M288.2 200.3h0M290.6 200.6h0M293.5 200.3h0M296.6 200.4h0M298.2 201.0h0M300.8 199.9h0M302.8 200.8h0M304.6 200.1h0M307.0 200.9h0M309.6 200.2h0M312.5 199.9h0M316.2 199.8h0M323.2 200.2h0M325.5 200.0h0M327.3 200.4h0M330.2 200.7h0M332.5 201.2h0M334.7 200.9h0M350.7 199.8h0M353.0 200.7h0M355.8 200.1h0M364.7 200.1h0M371.5 200.4h0M286.2 201.9h0M290.5 202.9h0M292.8 202.9h0M294.7 202.2h0M297.3 203.0h0M299.1 202.9h0M301.1 202.2h0M304.2 202.6h0M306.0 203.4h0M315.3 202.2h0M317.7 203.2h0M321.9 203.2h0M324.3 202.6h0M327.5 202.0h0M329.1 202.8h0M334.3 202.6h0M343.4 203.1h0M350.7 201.8h0M351.6 202.9h0M357.4 202.9h0M358.6 203.0h0M360.7 202.8h0M367.6 202.4h0M369.9 202.3h0M372.4 203.1h0M287.2 203.9h0M288.8 204.1h0M290.6 204.2h0M293.4 204.1h0M295.1 204.2h0M297.8 205.3h0M300.1 204.2h0M303.2 204.0h0M305.5 204.5h0M307.9 204.2h0M309.6 203.9h0M311.5 203.9h0M320.6 205.0h0M323.5 204.0h0M325.9 205.2h0M328.4 204.1h0M329.6 204.0h0M333.1 204.3h0M340.1 205.0h0M342.0 204.9h0M344.8 205.2h0M348.4 204.2h0M351.7 204.5h0M353.3 204.6h0M361.0 203.9h0M362.0 204.3h0M365.1 204.3h0M366.4 204.8h0M369.4 204.7h0M371.7 204.3h0M287.9 206.3h0M290.3 206.4h0M292.6 206.1h0M295.2 206.6h0M296.3 206.7h0M298.7 206.7h0M300.9 206.2h0M303.6 207.0h0M306.1 206.4h0M319.2 206.8h0M323.1 206.7h0M324.8 207.1h0M327.3 207.0h0M328.5 207.0h0M332.1 206.4h0M336.3 206.5h0M338.7 205.9h0M342.3 206.7h0M352.1 207.2h0M355.1 207.3h0M357.1 207.2h0M363.8 206.4h0M365.7 206.2h0M367.6 206.1h0M286.9 208.3h0M288.3 208.1h0M291.8 207.8h0M293.7 209.1h0M296.1 209.1h0M298.3 208.7h0M300.7 209.3h0M309.1 208.2h0M318.5 207.9h0M320.4 209.0h0M323.5 209.1h0M326.4 208.8h0M328.0 208.6h0M330.7 207.9h0M332.7 208.6h0M336.6 208.8h0M350.6 209.3h0M355.6 209.4h0M357.8 209.2h0M362.4 208.9h0M365.6 207.9h0M366.4 207.8h0M288.6 211.0h0M290.7 209.9h0M292.1 211.0h0M294.3 210.4h0M297.1 211.4h0M298.9 210.4h0M301.0 210.8h0M304.1 210.0h0M305.6 210.9h0M308.4 210.6h0M312.7 210.6h0M322.5 210.5h0M325.2 211.1h0M326.5 211.2h0M328.5 210.5h0M332.0 210.7h0M334.2 211.0h0M335.4 211.2h0M337.9 209.9h0M341.1 210.6h0M349.5 210.7h0M351.8 210.4h0M354.2 210.6h0M356.5 210.9h0M358.9 210.6h0M360.6 210.9h0M364.2 211.1h0M366.4 211.4h0M368.2 210.5h0M289.4 213.1h0M291.6 213.3h0M293.3 212.1h0M295.2 211.8h0M298.2 212.7h0M300.2 212.7h0M303.2 212.6h0M304.5 212.8h0M320.4 212.1h0M323.6 212.0h0M329.7 211.8h0M332.4 213.3h0M334.8 213.1h0M337.5 213.3h0M339.2 211.9h0M344.3 213.0h0M346.6 212.7h0M348.9 213.0h0M351.4 213.1h0M354.9 213.4h0M358.6 212.5h0M360.0 212.1h0M362.4 212.2h0M364.4 212.5h0M367.3 213.0h0M368.8 213.3h0M373.6 211.8h0M290.8 214.5h0M291.9 214.6h0M295.2 214.4h0M296.4 213.9h0M304.5 215.2h0M306.6 214.4h0M310.5 215.2h0M313.4 214.7h0M316.1 213.9h0M318.0 215.0h0M319.8 214.8h0M325.0 214.3h0M331.1 214.1h0M334.1 214.5h0M335.6 214.2h0M338.8 214.4h0M340.6 215.1h0M344.8 214.6h0M347.6 214.5h0M350.5 214.5h0M352.6 215.2h0M355.1 213.8h0M359.7 214.2h0M361.7 214.1h0M364.1 214.6h0M366.1 214.9h0M371.4 214.1h0M287.1 217.0h0M288.4 216.2h0M290.6 216.5h0M293.8 216.6h0M295.8 216.3h0M297.8 217.0h0M300.3 216.5h0M307.4 216.9h0M312.2 217.1h0M314.9 216.5h0M315.9 216.4h0M325.9 216.8h0M328.2 216.6h0M332.9 215.9h0M335.5 217.1h0M337.6 217.0h0M340.1 216.4h0M342.3 216.4h0M343.9 216.3h0M345.8 216.7h0M348.8 216.7h0M350.7 215.9h0M352.6 216.7h0M355.7 216.6h0M357.4 216.4h0M359.9 216.6h0M362.7 217.0h0M365.4 216.4h0M367.2 215.9h0M369.1 216.8h0M372.0 216.1h0M288.0 218.3h0M290.6 219.3h0M293.2 218.9h0M293.9 218.7h0M296.2 219.3h0M304.6 218.4h0M306.6 219.2h0M308.5 218.2h0M310.8 217.8h0M313.5 218.5h0M315.0 218.5h0M324.6 218.8h0M334.6 218.6h0M335.6 218.6h0M338.2 219.3h0M341.1 219.1h0M343.1 218.7h0M349.5 218.0h0M352.1 218.5h0M360.7 218.2h0M363.2 219.0h0M366.1 218.6h0M368.0 218.9h0M370.9 218.6h0M288.9 220.5h0M291.3 220.1h0M293.3 221.3h0M295.9 220.6h0M298.4 220.8h0M304.5 220.7h0M306.9 220.8h0M309.6 221.1h0M312.6 219.8h0M314.6 221.2h0M320.9 221.3h0M323.9 220.1h0M325.6 221.1h0M334.9 221.0h0M338.0 220.6h0M339.6 220.6h0M341.1 219.8h0M348.5 220.8h0M351.0 220.6h0M352.7 220.6h0M355.8 221.1h0M358.2 219.9h0M360.2 220.5h0M362.8 219.9h0M364.4 221.0h0M367.2 221.3h0M369.3 220.7h0M287.9 222.5h0M290.9 221.9h0M293.0 221.9h0M294.1 223.2h0M296.8 222.1h0M298.6 222.7h0M301.3 222.7h0M304.4 222.1h0M309.2 222.4h0M310.9 222.2h0M312.8 222.1h0M319.2 222.4h0M322.4 223.1h0M325.4 222.8h0M327.3 223.0h0M336.3 222.4h0M338.7 223.0h0M341.0 222.6h0M348.3 222.6h0M350.3 222.6h0M351.7 222.4h0M356.3 222.7h0M359.4 222.8h0M363.6 223.4h0M288.9 223.8h0M290.5 224.5h0M294.1 224.0h0M295.7 225.0h0M298.4 224.6h0M303.0 224.1h0M304.7 224.5h0M309.0 223.8h0M312.1 224.8h0M314.9 225.2h0M316.5 223.8h0M318.4 223.9h0M324.0 224.6h0M325.5 225.1h0M333.0 224.3h0M334.8 225.4h0M336.8 225.3h0M338.9 224.1h0M350.7 224.0h0M353.9 223.9h0M360.8 223.9h0M362.7 225.3h0M365.6 224.3h0M290.2 226.9h0M292.9 225.9h0M294.5 225.8h0M296.2 227.3h0M299.3 227.3h0M306.4 225.8h0M310.6 226.2h0M313.1 225.8h0M315.7 227.0h0M322.2 226.7h0M333.1 226.6h0M336.7 227.0h0M338.6 226.2h0M341.4 225.8h0M343.2 227.2h0M345.5 226.9h0M354.5 226.7h0M357.4 226.7h0M359.1 227.1h0M360.9 226.9h0M366.2 226.2h0M291.6 229.2h0M293.7 227.9h0M296.5 228.1h0M297.4 227.9h0M300.9 228.9h0M302.6 228.4h0M304.6 228.7h0M309.8 228.5h0M312.6 229.3h0M314.7 228.2h0M318.3 229.3h0M321.1 227.8h0M323.1 229.0h0M330.6 229.2h0M334.9 228.5h0M339.5 228.8h0M356.4 228.5h0M362.2 228.7h0M365.3 229.2h0M293.1 231.0h0M294.3 230.3h0M297.7 231.0h0M298.5 230.9h0M301.9 230.4h0M303.5 231.0h0M305.7 231.2h0M309.1 231.4h0M310.2 229.9h0M313.5 230.9h0M314.8 230.7h0M324.8 230.9h0M335.9 230.7h0M338.2 230.7h0M340.1 230.9h0M342.5 230.8h0M355.2 230.5h0M357.2 230.8h0M359.2 230.2h0M362.0 231.0h0M364.2 230.6h0M295.6 232.9h0M297.8 232.6h0M300.1 232.1h0M302.4 232.8h0M304.3 233.3h0M307.1 232.4h0M309.4 233.4h0M312.3 232.0h0M316.0 233.4h0M337.3 232.6h0M339.2 233.2h0M341.9 232.3h0M348.5 232.6h0M357.4 232.7h0M360.5 233.3h0M297.7 235.1h0M299.6 235.0h0M301.8 234.8h0M303.7 234.9h0M305.7 235.2h0M308.9 234.8h0M310.8 233.9h0M313.4 234.4h0M317.3 234.4h0M329.8 233.8h0M334.3 235.1h0M336.2 233.9h0M338.1 234.9h0M340.9 234.5h0M345.3 234.1h0M347.1 234.8h0M350.7 233.8h0M352.1 234.1h0M358.5 235.0h0M300.4 237.0h0M303.1 236.0h0M305.8 237.0h0M306.6 236.1h0M310.3 236.8h0M311.9 235.9h0M313.8 236.8h0M315.8 236.4h0M321.4 236.9h0M325.9 236.9h0M329.6 237.1h0M334.6 236.5h0M337.7 236.3h0M346.6 236.9h0M352.7 237.2h0M357.3 236.1h0M301.4 238.3h0M303.4 238.3h0M305.9 238.8h0M308.2 238.5h0M310.6 238.2h0M312.9 237.9h0M315.6 239.0h0M317.3 237.9h0M319.5 238.9h0M323.9 239.3h0M326.2 238.7h0M328.8 238.9h0M333.1 238.2h0M335.5 238.4h0M338.8 237.9h0M311.4 240.4h0M316.6 241.1h0M321.1 241.4h0M326.5 241.1h0M330.7 241.1h0M332.8 241.3h0M335.1 240.5h0M337.9 240.3h0M326.7 243.2h0"/></g>
  <text x="58.3" y="319.6" font-size="8.2" fill="#222" textLength="159.7" lengthAdjust="spacingAndGlyphs">-Visium-Human-Transcriptome-Probe-Set</text>
  <text x="274" y="289.3" font-size="6.6" fill="#444" textLength="101" lengthAdjust="spacingAndGlyphs">Log2 Total UMI Count Per Cell</text>
  <defs><linearGradient id="cb" x1="0" x2="1" y1="0" y2="0">
    <stop offset="0" stop-color="#fdd9a0"/><stop offset="0.3" stop-color="#f8a070"/><stop offset="0.55" stop-color="#e05a3a"/><stop offset="0.8" stop-color="#b81414"/><stop offset="1" stop-color="#700808"/>
  </linearGradient></defs>
  <rect x="274" y="292" width="122.5" height="21.3" fill="url(#cb)" stroke="#555" stroke-width="0.6"/>
  <rect x="401.3" y="292.5" width="21.7" height="20.8" fill="#fff" stroke="#666" stroke-width="0.8"/>
  <g transform="translate(412.2 303)"><path d="M0 -4.2C3 -4.2 4.6 -2.4 4.6 -0.4C4.6 1.6 3 1.4 2.2 1.6C1.2 1.9 2.4 3.6 0.6 4.2C-3 4.5 -4.6 2.2 -4.6 0C-4.6 -2.4 -2.6 -4.2 0 -4.2Z" fill="#111"/><circle cx="-2" cy="-1" r="0.9" fill="#fff"/><circle cx="0" cy="-2.6" r="0.9" fill="#fff"/><circle cx="2.3" cy="-1.8" r="0.9" fill="#fff"/></g>
  <text x="274" y="320.8" font-size="6.6" fill="#555">4.0</text>
  <text x="396" y="320.8" font-size="6.6" fill="#555" text-anchor="end">18.0</text>
  <path d="M425.5 318.5h3" stroke="#666" stroke-width="0.8"/>
  <path d="M428 279l1.2 -2.5" stroke="#e87050" stroke-width="1.2"/>
  <!-- panel B -->
  <path d="M466.7 29V178M624.3 29V178M778.2 28.6V197.3" stroke="#aaa" stroke-width="1"/>
  <path d="M539 28.6h12M697.5 28.6h8" stroke="#ccc" stroke-width="0.8"/>
  <text x="470" y="61.2" font-size="18" font-weight="bold" fill="#000" stroke="#000" stroke-width="0.7" textLength="14.4" lengthAdjust="spacingAndGlyphs">B</text>
  <g fill="none" stroke-width="1.7" stroke-linecap="round"><path stroke="#18b4e4" d="M555.8 31.8h0M554.8 32.8h0M556.6 32.5h0M552.9 34.0h0M554.1 34.3h0M555.5 34.7h0M556.8 34.5h0M550.6 36.1h0M551.2 35.6h0M553.0 35.5h0M555.1 35.7h0M556.9 35.6h0M557.6 35.5h0M549.6 37.0h0M551.3 36.6h0M552.9 37.4h0M553.6 37.4h0M555.7 36.5h0M558.4 36.7h0M550.4 38.8h0M553.3 38.9h0M554.7 38.8h0M556.5 38.4h0M557.6 38.2h0M559.2 38.0h0M549.2 40.1h0M551.2 39.8h0M552.7 39.9h0M553.7 39.3h0M555.7 39.6h0M557.6 39.7h0M548.7 41.7h0M550.4 40.8h0M551.7 41.1h0M553.3 41.4h0M554.7 40.9h0M558.3 41.1h0M546.3 42.2h0M547.3 42.2h0M549.1 42.5h0M552.4 42.1h0M554.4 42.2h0M555.2 43.0h0M558.6 42.4h0M545.5 43.9h0M546.4 43.4h0M548.1 43.6h0M549.7 44.4h0M551.7 44.0h0M553.3 44.2h0M555.1 43.5h0M556.0 44.2h0M557.5 44.4h0M544.3 44.8h0M545.7 45.5h0M547.6 45.1h0M548.7 45.2h0M550.4 45.1h0M552.0 45.5h0M555.7 45.4h0M556.7 44.8h0M544.0 47.1h0M545.7 46.5h0M546.4 46.4h0M548.2 47.1h0M550.1 47.0h0M551.8 47.1h0M553.7 47.1h0M556.0 46.9h0M542.4 47.9h0M546.1 48.5h0M547.2 48.3h0M549.7 48.3h0M550.8 47.8h0M552.4 47.9h0M554.3 48.2h0M555.6 47.9h0M540.9 49.6h0M547.2 49.3h0M548.9 49.2h0M551.4 49.2h0M552.7 49.1h0M541.5 50.5h0M544.7 50.9h0M546.1 51.2h0M547.5 51.1h0M549.6 50.7h0M550.7 50.6h0M552.7 50.5h0M543.6 52.6h0M544.9 52.6h0M546.5 52.3h0M548.4 52.3h0M550.0 51.8h0M551.9 51.9h0M541.6 53.5h0M542.9 53.1h0M544.2 53.9h0M546.3 53.4h0M547.3 53.4h0M549.7 53.1h0M540.2 55.4h0M542.2 54.5h0M545.0 54.9h0M547.2 55.2h0M548.9 55.4h0M549.9 54.5h0M551.6 55.1h0M542.8 56.1h0M547.2 56.9h0M549.7 56.1h0M550.5 56.1h0M552.2 56.5h0M541.8 58.0h0M545.5 57.4h0M547.3 57.6h0M548.5 57.7h0M549.8 57.7h0M551.6 58.2h0M553.3 58.0h0M543.3 58.6h0M546.5 59.3h0M547.4 59.5h0M549.3 58.9h0M551.3 59.0h0M552.9 58.9h0M541.9 60.4h0M548.7 60.0h0M550.2 60.1h0M551.2 60.9h0M553.7 60.6h0M536.7 61.7h0M537.9 61.6h0M542.4 62.3h0M544.5 62.0h0M546.4 62.2h0M547.4 62.4h0M548.8 61.6h0M550.7 62.1h0M552.0 61.7h0M554.2 61.9h0M584.1 62.4h0M585.9 62.2h0M536.2 63.4h0M537.3 63.0h0M538.9 63.1h0M542.3 63.8h0M543.9 63.8h0M544.9 63.5h0M546.8 63.1h0M548.0 63.6h0M550.1 62.8h0M551.2 63.1h0M553.1 62.9h0M554.6 63.5h0M584.0 63.6h0M585.0 63.6h0M586.9 62.9h0M587.8 63.4h0M591.8 63.7h0M537.0 64.8h0M538.1 65.0h0M540.0 64.9h0M542.8 64.8h0M544.9 65.0h0M547.8 64.2h0M549.3 65.0h0M550.5 64.6h0M552.4 64.3h0M553.8 64.3h0M584.2 64.9h0M587.1 64.6h0M589.0 64.6h0M591.0 64.9h0M537.5 66.4h0M540.3 66.5h0M545.1 66.3h0M548.9 66.3h0M550.4 66.2h0M552.0 65.8h0M553.2 66.2h0M555.1 66.2h0M583.8 65.8h0M585.4 66.3h0M586.9 66.2h0M588.5 66.5h0M590.1 66.2h0M592.6 65.6h0M594.4 66.4h0M596.1 66.3h0M536.1 67.2h0M537.6 67.6h0M540.9 67.9h0M546.1 68.0h0M547.9 67.0h0M549.1 67.3h0M551.3 67.3h0M552.9 67.4h0M553.6 67.4h0M583.1 67.9h0M585.9 67.8h0M587.9 67.6h0M588.6 68.0h0M592.5 67.1h0M594.4 67.9h0M595.4 67.4h0M536.2 68.7h0M537.0 69.2h0M538.4 69.0h0M542.3 68.8h0M544.2 68.4h0M544.9 69.3h0M546.3 68.6h0M548.9 69.0h0M549.7 68.4h0M551.4 68.3h0M553.2 69.2h0M554.4 68.4h0M555.9 68.4h0M583.7 69.3h0M585.3 68.5h0M586.8 68.8h0M587.9 68.3h0M589.6 69.0h0M591.8 68.5h0M593.5 68.4h0M599.2 68.7h0M600.5 68.9h0M538.1 70.7h0M540.1 70.3h0M541.6 69.8h0M543.0 70.3h0M544.9 69.8h0M545.6 70.4h0M547.2 70.5h0M549.5 70.2h0M550.5 69.8h0M552.2 70.5h0M554.3 70.5h0M555.5 70.7h0M557.1 70.0h0M580.6 69.9h0M584.7 70.0h0M585.6 70.5h0M587.7 70.3h0M589.5 69.7h0M591.0 70.7h0M592.8 70.2h0M594.0 70.0h0M595.7 70.3h0M597.4 70.6h0M598.4 69.8h0M536.9 71.4h0M538.7 72.0h0M540.5 71.5h0M542.4 71.5h0M543.8 72.1h0M548.2 71.9h0M549.9 71.2h0M551.4 71.9h0M553.1 71.5h0M554.7 71.4h0M556.9 71.8h0M557.9 71.6h0M587.2 71.4h0M588.8 71.7h0M589.5 71.6h0M591.9 71.6h0M592.7 71.2h0M596.3 71.8h0M598.2 71.5h0M599.8 71.3h0M538.3 73.3h0M539.9 73.1h0M540.8 73.3h0M543.4 72.7h0M546.6 73.2h0M547.6 73.4h0M553.5 73.3h0M555.9 72.5h0M557.2 73.0h0M590.6 73.4h0M597.0 72.9h0M601.4 73.0h0M603.1 73.4h0M539.1 74.0h0M540.5 74.6h0M541.7 74.6h0M543.8 74.3h0M550.5 74.5h0M551.6 74.6h0M555.1 74.0h0M556.8 73.8h0M558.2 74.7h0M587.9 74.4h0M589.9 74.6h0M593.3 74.2h0M594.1 74.1h0M596.0 73.9h0M599.7 74.3h0M540.0 75.5h0M541.6 75.5h0M543.4 76.2h0M557.7 75.8h0M559.2 76.2h0M588.8 75.5h0M592.1 76.2h0M596.9 75.7h0M600.6 76.1h0M538.6 77.4h0M540.7 76.7h0M541.9 76.8h0M545.6 77.3h0M550.0 77.3h0M591.7 76.8h0M593.5 77.5h0M596.0 77.2h0M597.9 77.5h0M538.6 79.0h0M539.7 78.4h0M541.6 78.9h0M542.8 78.2h0M552.7 78.4h0M555.4 78.7h0M591.2 78.5h0M592.2 78.8h0M593.6 78.9h0M595.3 78.7h0M597.5 78.1h0M598.2 78.1h0M539.4 80.1h0M540.9 80.4h0M541.6 79.8h0M543.3 79.6h0M548.9 80.4h0M593.0 79.8h0M595.8 80.2h0M597.3 79.5h0M539.7 81.5h0M541.8 81.3h0M542.9 80.8h0M544.0 80.8h0M546.2 81.5h0M547.9 81.4h0M549.3 80.9h0M590.3 80.9h0M592.4 81.1h0M593.4 80.9h0M595.7 81.6h0M596.9 80.9h0M540.7 83.0h0M542.2 82.1h0M593.2 83.1h0M594.3 82.8h0M596.7 83.0h0M579.4 84.3h0M595.7 83.9h0M580.6 85.3h0"/><path stroke="#7eb43c" d="M557.6 46.2h0M556.9 47.9h0M558.7 48.4h0M571.4 48.2h0M554.9 49.4h0M556.4 49.5h0M557.8 49.0h0M559.3 49.5h0M560.8 49.0h0M566.0 49.9h0M567.6 49.7h0M573.4 49.0h0M554.1 51.2h0M555.2 50.5h0M556.8 50.8h0M558.5 50.4h0M560.7 50.7h0M562.0 50.5h0M564.0 50.4h0M564.7 50.7h0M553.4 51.8h0M554.7 51.9h0M556.7 52.4h0M558.2 51.7h0M559.5 51.8h0M561.5 51.8h0M562.3 52.3h0M571.9 52.4h0M555.3 54.1h0M560.5 53.1h0M561.5 54.1h0M563.2 53.4h0M565.6 53.9h0M567.0 53.5h0M567.9 53.3h0M569.9 53.6h0M573.1 54.0h0M553.4 54.7h0M556.6 54.6h0M559.8 54.6h0M561.4 54.7h0M563.3 55.2h0M564.8 54.6h0M566.0 55.2h0M568.0 55.5h0M570.4 54.9h0M575.1 55.2h0M554.0 56.4h0M557.4 56.6h0M558.8 56.4h0M560.8 56.8h0M562.0 56.3h0M563.4 56.2h0M564.7 56.6h0M566.8 56.0h0M568.0 56.3h0M570.2 56.5h0M571.8 56.3h0M572.8 56.6h0M575.0 55.9h0M576.0 56.5h0M556.9 57.3h0M557.8 58.1h0M559.3 57.5h0M561.5 58.2h0M563.1 57.6h0M564.0 57.3h0M565.9 57.8h0M567.4 57.8h0M569.1 57.6h0M570.8 58.0h0M572.5 57.5h0M574.4 58.2h0M575.0 57.5h0M578.3 57.4h0M580.0 57.6h0M554.0 59.3h0M557.4 59.2h0M558.8 59.7h0M562.5 58.8h0M563.7 59.1h0M564.9 59.6h0M567.0 59.2h0M568.1 59.5h0M570.0 59.4h0M571.7 59.4h0M574.4 59.6h0M576.0 59.3h0M577.6 58.8h0M580.0 59.2h0M581.6 59.3h0M582.3 59.4h0M554.9 60.3h0M556.6 60.5h0M560.1 60.5h0M560.8 60.8h0M563.1 60.8h0M566.2 60.8h0M567.4 61.0h0M569.0 60.1h0M571.0 60.1h0M572.3 60.8h0M574.0 60.2h0M576.0 60.9h0M577.3 60.9h0M579.1 60.4h0M581.6 60.4h0M558.8 61.9h0M562.5 61.7h0M563.7 62.2h0M564.8 61.7h0M567.2 61.7h0M568.8 61.5h0M570.3 62.0h0M571.1 62.1h0M573.0 61.5h0M576.1 61.6h0M577.8 62.3h0M581.1 62.3h0M559.9 63.1h0M563.1 63.1h0M564.8 63.1h0M566.2 63.7h0M567.1 63.2h0M569.5 63.4h0M572.8 63.5h0M573.6 63.0h0M576.7 63.3h0M578.7 63.7h0M580.3 62.9h0M558.8 65.1h0M560.7 64.5h0M561.9 64.5h0M563.7 65.0h0M565.2 64.2h0M566.4 65.0h0M567.9 64.7h0M573.5 64.3h0M577.6 64.3h0M579.6 64.5h0M580.7 65.1h0M556.4 66.0h0M561.7 65.7h0M562.9 65.8h0M564.0 66.3h0M565.7 65.9h0M570.8 66.0h0M572.9 66.6h0M575.4 65.9h0M577.6 66.0h0M578.9 65.8h0M579.9 66.3h0M581.6 65.7h0M557.1 67.6h0M560.1 67.6h0M563.2 67.6h0M564.7 67.7h0M566.8 67.0h0M571.4 67.6h0M578.4 67.8h0M580.0 67.3h0M581.4 67.7h0M558.2 69.2h0M559.5 68.6h0M564.3 68.5h0M565.9 68.9h0M567.7 68.3h0M568.7 68.4h0M578.7 68.9h0M559.0 70.2h0M563.6 70.2h0M565.4 69.8h0M567.1 69.7h0M567.9 69.9h0M570.4 70.0h0M573.6 70.4h0M574.6 70.0h0M559.6 71.7h0M560.8 71.7h0M566.2 71.2h0M569.5 71.1h0M572.3 71.1h0M574.1 71.2h0M559.3 73.3h0M562.5 73.5h0M563.2 73.5h0M565.0 72.8h0M567.2 73.0h0M568.5 72.5h0M570.1 73.0h0M572.1 72.7h0M572.7 72.9h0M574.5 73.2h0M559.8 73.9h0M561.5 74.5h0M563.1 74.7h0M564.1 73.9h0M566.1 74.8h0M567.5 74.2h0M572.4 74.6h0M573.7 74.7h0M560.1 75.3h0M565.5 75.8h0M566.6 76.0h0M570.3 76.1h0"/><path stroke="#f06c96" d="M559.2 79.0h0M560.0 79.0h0M562.5 79.0h0M554.7 80.3h0M556.8 80.3h0M558.1 80.0h0M568.7 79.5h0M552.6 81.4h0M553.6 81.2h0M558.4 81.3h0M571.6 81.2h0M544.7 82.3h0M548.3 83.2h0M551.5 82.5h0M553.7 82.8h0M554.5 82.6h0M556.9 82.2h0M558.2 82.6h0M559.6 82.8h0M562.3 82.7h0M568.0 82.9h0M572.5 83.0h0M573.9 82.7h0M575.8 82.8h0M538.2 84.3h0M544.2 84.2h0M545.7 83.7h0M548.9 83.6h0M550.6 84.3h0M552.3 84.5h0M554.2 84.0h0M555.8 83.5h0M557.6 83.8h0M558.7 84.4h0M563.4 83.9h0M564.8 83.9h0M566.3 83.7h0M568.3 83.8h0M570.3 84.3h0M571.7 84.3h0M573.2 83.7h0M575.2 83.6h0M575.9 84.1h0M577.6 84.3h0M539.2 85.3h0M540.1 85.9h0M542.1 85.6h0M543.4 85.1h0M545.6 85.5h0M547.1 85.6h0M548.7 85.2h0M549.6 85.5h0M551.1 85.0h0M553.4 85.5h0M555.0 85.4h0M555.9 85.8h0M558.1 85.3h0M561.1 85.6h0M562.6 85.8h0M565.8 85.7h0M567.4 85.3h0M569.6 85.8h0M571.3 85.8h0M572.0 85.8h0M573.8 85.2h0M575.2 85.3h0M577.5 85.3h0M579.0 85.9h0M538.6 86.9h0M539.8 86.6h0M541.6 87.2h0M544.7 86.6h0M546.2 87.0h0M547.8 86.5h0M549.7 87.2h0M551.1 86.4h0M552.6 86.4h0M553.7 86.9h0M556.0 86.3h0M557.2 86.5h0M558.8 87.3h0M559.9 87.1h0M562.3 86.8h0M563.4 86.9h0M565.1 87.0h0M566.3 86.6h0M568.0 86.6h0M570.0 86.6h0M571.6 86.8h0M573.1 86.5h0M574.7 86.4h0M576.0 86.4h0M577.8 87.0h0M579.3 86.7h0M541.0 88.5h0M542.4 88.4h0M543.5 88.2h0M545.6 87.9h0M547.3 87.8h0M548.0 88.3h0M550.1 87.7h0M551.9 87.9h0M552.8 88.3h0M554.7 88.3h0M556.4 88.0h0M558.2 88.4h0M559.5 87.7h0M561.1 88.7h0M563.3 87.8h0M564.6 87.9h0M566.0 88.3h0M567.9 88.0h0M569.6 87.8h0M570.3 87.9h0M572.3 88.5h0M573.6 88.0h0M575.7 87.7h0M576.8 88.4h0M579.0 87.8h0M539.6 89.2h0M541.1 89.5h0M542.6 89.6h0M544.0 89.2h0M547.3 90.0h0M551.3 89.7h0M552.1 89.4h0M554.0 89.8h0M555.5 89.3h0M556.8 89.2h0M558.5 89.1h0M560.7 89.2h0M561.9 90.1h0M563.2 90.0h0M565.6 89.3h0M566.4 90.0h0M568.0 89.9h0M570.4 90.0h0M571.8 89.4h0M573.1 89.6h0M574.8 89.9h0M576.2 89.5h0M577.5 89.2h0M541.0 91.3h0M542.3 91.3h0M543.3 90.8h0M545.8 90.8h0M546.8 90.8h0M548.1 90.5h0M551.1 90.9h0M554.3 91.3h0M556.7 90.4h0M558.1 91.3h0M560.8 91.0h0M563.0 91.4h0M564.1 91.3h0M565.6 91.3h0M568.1 90.9h0M568.9 90.8h0M572.3 90.4h0M574.4 90.9h0M575.1 90.9h0M541.8 92.3h0M543.2 92.0h0M544.7 92.8h0M546.5 91.9h0M547.8 92.7h0M550.4 92.8h0M556.1 92.8h0M557.6 92.2h0M560.1 92.8h0M561.7 92.1h0M567.1 92.3h0M568.7 91.9h0M569.5 92.7h0M571.9 92.8h0M573.4 92.6h0M574.7 92.7h0M576.8 92.7h0M542.2 93.3h0M543.3 93.7h0M545.7 93.9h0M546.5 94.0h0M548.3 93.6h0M549.9 94.1h0M551.7 93.7h0M552.9 93.6h0M555.1 94.0h0M556.7 94.2h0M558.2 93.5h0M559.3 94.0h0M560.7 93.9h0M562.6 93.4h0M564.2 93.6h0M565.5 93.8h0M567.3 93.9h0M568.6 94.1h0M571.1 93.5h0M572.1 93.9h0M573.7 93.5h0M575.7 94.2h0M541.8 94.6h0M543.2 95.2h0M544.7 94.7h0M545.9 94.6h0M547.8 95.1h0M548.8 95.5h0M551.1 95.3h0M552.6 94.9h0M554.0 95.2h0M556.1 95.5h0M557.7 95.5h0M559.0 95.3h0M560.3 94.9h0M562.3 95.2h0M564.1 95.2h0M565.0 95.0h0M567.2 95.6h0M568.4 94.9h0M571.8 94.9h0M573.2 95.2h0M544.8 96.8h0M547.3 96.2h0M548.3 96.5h0M550.2 96.0h0M551.7 97.0h0M553.5 96.9h0M554.9 96.5h0M558.5 96.4h0M561.1 96.6h0M564.0 96.2h0M565.6 96.8h0M568.0 96.6h0M569.6 96.1h0M570.7 96.0h0M572.5 96.3h0M544.9 97.7h0M545.7 97.7h0M547.2 97.7h0M548.8 97.9h0M552.4 98.1h0M554.5 97.5h0M555.6 97.3h0M559.1 98.0h0M560.1 98.0h0M561.7 97.9h0M563.5 97.9h0M566.9 97.7h0M568.6 97.6h0M570.1 97.7h0M543.3 99.0h0M547.3 99.6h0M548.3 99.7h0M549.8 99.5h0M553.0 99.4h0M554.6 99.2h0M556.0 98.8h0M559.7 99.6h0M560.7 99.3h0M562.7 98.7h0M564.6 99.3h0M568.0 99.1h0M571.2 99.2h0M543.3 100.4h0M547.3 100.9h0M551.2 100.5h0M552.4 100.1h0M554.4 100.8h0M555.3 100.8h0M557.2 100.9h0M558.8 100.9h0M560.9 101.0h0M561.8 100.4h0M563.6 101.1h0M566.4 100.7h0M568.1 100.7h0M569.7 100.5h0M571.1 100.3h0M544.1 102.4h0M547.3 101.8h0M548.0 101.6h0M553.2 102.4h0M554.8 101.9h0M556.3 102.0h0M558.4 102.4h0M559.9 102.5h0M561.6 102.2h0M562.8 101.6h0M564.9 102.5h0M565.9 101.5h0M568.8 102.3h0M570.3 102.1h0M541.7 103.5h0M543.4 103.6h0M554.2 103.5h0M555.8 102.9h0M557.1 102.9h0M559.1 103.1h0M559.9 103.0h0M561.9 103.1h0M563.1 103.8h0M565.0 103.9h0M566.6 103.0h0M568.8 103.9h0M569.5 103.7h0M571.5 102.9h0M540.1 104.7h0M546.4 104.9h0M550.4 104.4h0M552.0 105.1h0M553.0 104.8h0M567.3 105.3h0M569.6 105.1h0M570.3 105.1h0M536.6 106.4h0M540.2 105.8h0M540.9 105.8h0M544.0 106.2h0M546.1 106.7h0M547.9 106.5h0M549.7 105.9h0M550.5 106.2h0M552.9 106.5h0M553.8 106.6h0M538.8 107.6h0M542.6 107.4h0M547.4 107.8h0M548.9 107.2h0M549.5 107.4h0M553.5 107.7h0M536.2 108.6h0M547.4 109.1h0M549.4 108.7h0M537.5 109.8h0M539.0 110.6h0M540.0 110.6h0M541.7 110.7h0M543.5 110.7h0M545.7 110.7h0M546.5 110.1h0M548.5 110.6h0M550.5 110.6h0M536.3 111.4h0M538.4 112.0h0M541.4 112.2h0M542.6 111.5h0M544.4 112.2h0M545.7 111.5h0M547.6 111.5h0M549.6 112.0h0M550.6 111.5h0M543.7 113.0h0M544.9 113.0h0M547.3 113.1h0M548.2 112.9h0M549.5 112.7h0"/><path stroke="#de8a30" d="M589.0 103.8h0M588.8 104.5h0M593.0 104.8h0M583.0 105.9h0M586.4 105.8h0M589.2 106.0h0M590.7 106.5h0M591.9 105.8h0M595.5 106.1h0M579.2 108.0h0M581.5 108.0h0M583.2 107.4h0M585.1 107.3h0M586.4 107.0h0M588.3 107.8h0M590.2 107.9h0M591.6 107.3h0M593.0 107.3h0M595.8 107.2h0M597.5 107.4h0M578.4 109.3h0M579.3 108.5h0M580.7 109.0h0M583.0 109.0h0M584.8 109.4h0M587.6 108.4h0M589.6 109.4h0M591.2 108.8h0M592.7 108.4h0M575.7 110.8h0M581.8 110.6h0M583.5 110.3h0M588.4 110.5h0M592.6 110.1h0M595.8 110.6h0M573.0 111.9h0M575.2 111.2h0M576.6 111.7h0M578.3 111.6h0M581.5 111.8h0M583.0 111.6h0M584.7 111.7h0M585.5 112.1h0M587.9 111.9h0M588.8 111.6h0M593.9 111.6h0M595.0 111.5h0M573.5 113.2h0M575.8 112.9h0M577.5 113.2h0M580.1 112.9h0M582.1 112.7h0M583.6 113.6h0M585.6 112.8h0M586.4 113.5h0M587.9 113.0h0M575.1 114.3h0M578.4 114.7h0M579.2 114.8h0M581.5 114.3h0M583.0 114.5h0M583.9 114.4h0M586.0 114.9h0M587.2 114.5h0M589.5 114.4h0M574.4 115.8h0M575.4 115.3h0M580.5 116.4h0M582.1 116.1h0M583.1 115.9h0M587.0 115.9h0M588.1 116.1h0M590.1 115.6h0M575.2 117.2h0M576.0 117.2h0M579.7 117.5h0M582.2 117.3h0M584.3 117.3h0M585.6 117.6h0M587.3 116.9h0M588.6 117.3h0M573.6 118.7h0M575.6 118.1h0M577.0 119.0h0M578.6 118.5h0M579.9 118.1h0M581.9 119.0h0M583.5 118.8h0M579.9 119.8h0M581.1 119.8h0M583.1 119.7h0M584.1 119.6h0M586.1 119.6h0M578.6 121.3h0M580.3 121.4h0M582.4 121.0h0M583.5 121.7h0M580.0 122.4h0M581.3 122.5h0M583.1 122.5h0M584.1 123.1h0M578.9 124.0h0M580.1 123.8h0M582.0 124.3h0M583.1 124.4h0M585.2 124.3h0M581.2 125.8h0M583.9 125.5h0M585.5 125.3h0M581.6 126.5h0"/><path stroke="#0ca8f0" d="M556.6 105.2h0M558.2 104.6h0M559.7 104.4h0M561.7 105.1h0M562.6 105.2h0M555.5 106.1h0M556.9 105.9h0M558.9 106.7h0M560.6 106.2h0M561.6 106.2h0M567.2 105.8h0M568.4 105.7h0M570.5 106.5h0M559.2 107.3h0M560.9 107.2h0M563.1 107.7h0M564.2 107.3h0M571.0 107.8h0M554.1 109.3h0M555.8 109.4h0M560.5 108.4h0M561.9 108.6h0M564.7 108.7h0M566.4 108.9h0M552.1 110.1h0M552.9 110.0h0M555.0 110.0h0M557.6 110.3h0M560.9 110.5h0M564.7 110.4h0M565.6 109.9h0M568.0 110.5h0M568.7 109.9h0M570.5 110.2h0M552.3 111.8h0M553.9 111.8h0M556.0 111.7h0M557.0 111.4h0M559.3 112.1h0M562.3 111.7h0M563.5 111.2h0M565.0 111.6h0M566.7 111.8h0M568.0 111.2h0M553.0 113.6h0M554.4 112.9h0M556.5 113.5h0M559.4 112.8h0M560.9 112.6h0M562.6 113.6h0M564.7 112.7h0M566.4 113.6h0M567.4 112.8h0M572.2 113.1h0M550.6 114.9h0M552.5 114.7h0M554.1 114.5h0M555.9 114.4h0M557.3 114.6h0M562.4 114.5h0M563.4 113.9h0M565.7 114.8h0M566.8 114.6h0M568.8 114.0h0M570.3 114.0h0M571.4 115.0h0M573.5 114.9h0M555.2 115.8h0M556.1 115.9h0M557.9 115.6h0M561.3 115.5h0M563.2 116.1h0M564.4 115.3h0M566.2 115.9h0M567.6 115.5h0M569.1 116.3h0M570.8 115.3h0M571.9 116.3h0M552.7 117.3h0M554.3 116.7h0M556.9 117.6h0M558.5 117.4h0M560.9 117.3h0M562.3 117.4h0M563.4 117.4h0M565.1 117.5h0M566.9 117.4h0M568.6 117.5h0M570.4 116.7h0M571.5 117.2h0M573.4 116.9h0M554.5 119.1h0M556.3 118.8h0M558.3 118.5h0M559.3 119.0h0M561.7 118.2h0M562.5 118.5h0M564.8 118.9h0M565.7 119.0h0M567.1 118.1h0M569.0 119.1h0M570.7 119.1h0M572.6 118.4h0M554.0 120.1h0M555.6 120.1h0M559.0 119.7h0M570.1 119.6h0M553.2 121.2h0M554.5 122.4h0"/><path stroke="#668af0" d="M599.3 107.4h0M598.8 109.2h0M600.7 109.2h0M609.3 114.9h0M611.0 114.3h0M614.8 114.2h0M608.8 116.3h0M607.7 117.2h0M610.1 116.9h0M614.4 116.9h0M607.7 118.6h0M609.2 118.3h0M613.7 118.6h0M606.5 119.6h0M611.5 120.0h0M613.1 119.9h0M614.8 120.5h0M607.3 121.1h0M614.3 120.9h0M615.0 121.5h0M603.3 122.9h0M604.5 122.7h0M606.3 123.2h0M607.8 123.1h0M613.2 122.2h0M602.2 124.7h0M604.1 123.8h0M606.2 124.2h0M607.1 124.0h0M608.7 124.3h0M602.2 125.7h0M603.5 126.1h0M604.6 125.8h0M608.3 125.1h0M610.3 125.1h0M600.8 127.4h0M602.3 126.8h0M603.9 127.2h0M605.3 126.8h0M608.9 126.7h0M600.5 128.1h0M601.7 128.4h0M603.9 128.5h0M605.3 128.0h0M606.6 128.0h0M597.9 129.7h0M600.9 129.7h0M603.1 129.8h0M603.9 129.6h0M598.4 131.0h0M600.7 131.4h0M602.3 131.5h0M603.2 130.9h0M594.8 132.6h0M596.2 132.6h0M599.6 132.3h0M592.1 134.2h0M593.4 134.0h0M595.1 133.3h0M597.4 134.1h0M598.8 133.5h0M599.7 133.7h0M591.6 135.1h0M592.7 135.2h0M595.0 135.0h0M596.7 135.0h0M598.1 135.3h0M593.7 136.5h0M595.3 136.7h0M594.7 137.7h0M596.0 137.5h0"/><path stroke="#a8a830" d="M535.7 113.5h0M537.4 112.7h0M539.3 113.4h0M540.4 113.3h0M537.0 113.9h0M538.3 114.6h0M539.8 114.3h0M543.0 114.8h0M544.8 114.5h0M547.5 114.2h0M548.9 114.6h0M536.2 115.8h0M537.5 116.4h0M543.6 115.8h0M545.5 115.4h0M546.8 115.6h0M548.5 115.7h0M549.9 115.8h0M536.8 117.1h0M538.5 116.9h0M541.0 117.0h0M542.9 117.1h0M544.3 117.3h0M546.0 117.3h0M547.2 116.9h0M537.3 119.0h0M538.9 118.9h0M542.0 118.9h0M544.8 118.4h0M546.4 118.2h0M550.4 119.1h0M537.8 120.4h0M539.4 119.7h0M541.4 119.8h0M544.8 119.7h0M547.3 120.4h0M549.5 120.1h0M550.6 120.2h0M539.0 121.4h0M542.1 121.8h0M543.7 121.4h0M548.2 121.5h0M550.3 121.8h0M551.4 121.4h0M541.5 122.9h0M543.1 123.2h0M545.6 123.2h0M547.4 122.9h0M549.7 122.9h0M542.6 123.6h0M544.0 124.6h0M547.3 124.0h0M548.6 124.4h0M554.4 124.1h0M544.7 125.0h0M545.7 125.9h0M547.4 125.3h0M549.1 125.3h0M543.9 126.5h0M545.4 127.0h0M547.9 127.2h0M550.1 126.4h0M551.1 127.3h0M555.3 126.8h0M545.7 128.0h0M550.3 128.7h0M552.6 128.3h0M553.6 128.5h0M547.0 129.9h0M550.5 129.3h0M553.0 130.2h0M549.5 131.2h0M550.6 130.8h0M552.3 130.8h0M553.9 130.6h0M548.8 132.0h0M550.4 132.2h0M552.0 132.1h0M549.4 134.1h0M550.7 134.1h0M548.7 135.3h0M549.6 135.2h0M536.1 137.1h0M538.3 136.8h0M539.3 136.8h0M551.2 136.2h0M533.7 138.5h0M535.2 137.9h0M536.9 138.3h0M539.2 138.4h0M541.0 138.1h0M541.9 137.9h0M550.1 138.5h0M538.3 139.5h0M541.8 138.9h0M542.7 139.7h0M550.5 139.2h0M533.8 140.7h0M536.0 140.6h0M537.7 140.7h0M539.1 140.3h0M540.8 140.4h0M543.2 140.8h0M534.6 142.1h0M536.2 142.5h0M538.3 142.4h0M540.2 142.4h0M541.3 142.1h0M542.9 142.0h0M544.2 142.3h0M536.8 143.5h0M540.6 143.7h0M542.2 143.3h0M534.4 144.8h0M538.2 145.1h0M543.1 144.5h0M544.7 144.5h0M536.2 146.1h0M539.0 146.0h0M540.8 146.3h0M541.7 146.7h0M543.7 146.4h0M544.9 146.6h0M536.9 147.4h0M537.8 147.4h0M539.8 147.8h0M541.6 147.3h0M543.2 147.3h0M544.5 147.4h0M537.2 148.9h0M538.7 149.2h0M540.0 149.0h0M541.8 148.9h0M543.2 149.1h0M545.3 149.4h0M538.4 150.0h0M539.5 149.9h0M540.9 150.0h0M542.4 150.5h0M542.2 152.2h0M541.3 152.7h0"/><path stroke="#1ebaa8" d="M580.5 127.0h0M583.0 126.8h0M585.0 127.1h0M580.6 128.3h0M583.2 128.2h0M584.5 128.4h0M580.6 129.9h0M581.6 130.0h0M583.6 129.9h0M584.6 129.3h0M557.5 130.7h0M579.8 130.8h0M581.6 130.7h0M583.0 130.8h0M584.5 131.2h0M554.5 133.0h0M556.9 132.2h0M557.6 132.6h0M559.7 132.2h0M580.8 132.3h0M582.3 132.8h0M583.5 132.8h0M587.2 132.1h0M552.9 134.3h0M554.1 133.8h0M555.4 133.9h0M557.7 133.5h0M559.9 133.5h0M561.8 133.8h0M580.8 133.4h0M582.8 133.9h0M584.8 133.9h0M553.0 134.8h0M556.3 135.3h0M558.4 135.6h0M561.6 134.8h0M562.8 134.8h0M580.1 135.0h0M583.2 135.5h0M584.7 134.8h0M586.7 135.2h0M554.2 136.5h0M555.2 136.4h0M557.4 136.4h0M559.1 137.0h0M560.7 136.6h0M562.2 136.3h0M563.8 136.6h0M565.4 136.7h0M566.5 136.7h0M584.8 136.7h0M585.6 136.5h0M590.3 136.2h0M551.7 138.3h0M553.6 138.0h0M556.2 137.8h0M558.2 137.5h0M561.0 137.9h0M562.6 137.8h0M564.4 137.8h0M566.4 138.0h0M580.7 137.6h0M582.2 137.6h0M586.5 138.3h0M587.9 137.8h0M555.3 139.5h0M557.1 139.4h0M558.6 139.3h0M560.2 139.3h0M561.8 139.0h0M563.9 139.1h0M564.9 139.8h0M566.9 138.9h0M567.9 139.1h0M569.8 138.9h0M556.0 140.4h0M558.5 141.2h0M560.7 141.2h0M563.0 140.8h0M565.7 141.2h0M567.9 140.8h0M569.1 141.0h0M572.6 141.0h0M577.2 141.2h0M578.6 140.7h0M580.1 141.0h0M583.8 140.5h0M586.9 140.5h0M590.0 140.4h0M591.0 141.2h0M593.1 140.4h0M554.1 141.7h0M555.4 142.3h0M557.7 141.7h0M558.4 142.4h0M564.0 142.3h0M564.9 142.4h0M566.9 141.7h0M568.8 142.0h0M569.5 142.1h0M571.2 141.8h0M578.4 141.9h0M579.9 141.6h0M580.7 142.1h0M587.0 142.5h0M588.8 142.6h0M590.5 142.1h0M553.3 143.6h0M554.4 143.9h0M556.4 143.2h0M558.3 143.3h0M561.6 143.8h0M563.0 143.8h0M564.3 143.8h0M567.3 143.9h0M569.2 143.7h0M585.0 144.0h0M589.7 143.2h0M555.2 145.1h0M557.6 144.6h0M558.8 144.8h0M560.6 144.9h0M561.8 144.7h0M566.8 145.0h0M568.5 145.1h0M569.5 144.5h0M557.8 145.9h0M559.3 146.2h0M561.0 145.9h0M562.6 146.0h0M564.2 145.9h0M565.5 146.6h0M567.3 146.1h0M585.4 146.1h0M586.5 146.6h0M562.5 147.5h0M584.0 147.4h0M564.6 148.9h0"/><path stroke="#ae8af0" d="M575.0 142.7h0M571.2 143.9h0M574.3 143.1h0M577.5 143.7h0M579.0 144.0h0M571.4 144.8h0M576.3 144.5h0M577.6 144.7h0M568.8 146.1h0M570.7 145.8h0M573.7 146.5h0M575.4 145.9h0M577.0 146.0h0M578.9 146.6h0M580.3 146.1h0M581.5 146.2h0M570.1 147.6h0M571.1 148.0h0M572.9 147.5h0M574.8 147.9h0M577.5 147.8h0M580.8 147.9h0M567.7 148.6h0M568.9 149.1h0M571.1 148.8h0M572.6 148.7h0M574.1 149.4h0M575.6 148.7h0M577.5 149.1h0M580.4 149.5h0M570.0 150.3h0M573.2 150.0h0M569.0 152.1h0M570.2 152.3h0M576.0 151.6h0M576.7 151.6h0M540.8 154.5h0M542.4 154.9h0M544.2 154.4h0M541.4 155.8h0M542.8 155.5h0M544.6 156.1h0M543.4 158.8h0M544.3 159.2h0M542.6 160.0h0M543.9 159.9h0M545.1 160.4h0M546.2 161.6h0M543.8 162.9h0M545.0 163.1h0M547.1 163.0h0M548.5 163.2h0M544.9 164.6h0M546.0 164.5h0M547.7 164.7h0M549.1 163.8h0M545.3 165.2h0M546.8 165.2h0M548.0 165.9h0M549.9 165.2h0M545.8 166.9h0M549.0 166.9h0M551.1 166.6h0M546.8 168.5h0M548.3 168.1h0M549.9 168.7h0M552.0 168.8h0M547.4 169.4h0M549.2 170.2h0M550.7 169.8h0M552.7 169.9h0M549.6 171.4h0M551.1 171.6h0"/></g><g fill="none" stroke-width="1.7" stroke-linecap="round"><path stroke="#cc9c30" d="M691.8 36.1h0M693.0 35.6h0M685.9 36.8h0M687.2 37.4h0M689.3 37.4h0M690.3 37.2h0M692.0 36.8h0M683.6 38.0h0M684.6 38.5h0M685.9 38.4h0M687.9 38.3h0M689.8 37.9h0M691.3 38.4h0M685.7 40.2h0M687.2 39.5h0M689.3 40.3h0M690.2 39.9h0M684.9 41.3h0M688.5 40.7h0M686.1 42.3h0M687.2 42.4h0"/><path stroke="#f0784e" d="M681.5 38.3h0M680.4 40.1h0M682.2 39.4h0M676.4 41.6h0M677.8 40.8h0M679.8 41.1h0M681.3 41.0h0M683.2 40.9h0M675.3 42.4h0M680.3 42.8h0M682.0 42.6h0M683.9 42.0h0M673.4 44.4h0M674.6 44.3h0M678.2 44.0h0M679.4 44.1h0M681.4 43.9h0M683.3 44.4h0M684.7 43.9h0M672.9 45.8h0M673.5 44.9h0M675.3 45.2h0M677.5 45.5h0M678.8 45.1h0M681.1 45.7h0M682.2 45.0h0M684.1 45.3h0M672.0 46.7h0M673.1 47.3h0M674.4 46.9h0M676.4 47.3h0M678.3 46.9h0M680.2 46.4h0M681.6 46.9h0M669.4 48.7h0M676.2 48.2h0M676.8 47.7h0M678.7 48.5h0M672.0 49.1h0M673.0 49.3h0M674.8 49.9h0M676.1 49.1h0M678.3 50.0h0M669.3 51.2h0M672.7 50.9h0M674.2 50.5h0M675.8 51.4h0M668.4 52.5h0M670.1 52.6h0M673.1 52.2h0M674.8 52.4h0M656.4 54.2h0M658.2 54.2h0M658.8 54.1h0M660.6 54.0h0M663.1 53.9h0M664.0 54.2h0M665.6 53.3h0M668.0 54.1h0M653.4 54.7h0M655.2 54.9h0M657.0 55.3h0M658.5 55.6h0M659.7 55.0h0M662.2 55.5h0M663.7 54.8h0M664.8 54.7h0M666.4 54.7h0M654.9 56.8h0M655.8 56.1h0M657.7 57.0h0M659.4 56.2h0M660.6 56.1h0M662.8 56.3h0M664.4 57.1h0M665.6 56.2h0M667.4 56.6h0M672.4 56.7h0M674.4 56.7h0M675.9 56.9h0M653.7 58.4h0M655.5 58.5h0M664.8 57.5h0M666.3 57.7h0M672.0 57.8h0M673.8 58.5h0M675.2 57.9h0M676.1 58.3h0M678.0 58.1h0M652.8 59.1h0M655.0 59.2h0M664.8 59.7h0M672.3 59.5h0M674.3 59.0h0M676.2 59.9h0M676.9 59.6h0M678.8 59.7h0M680.1 59.0h0M652.0 61.0h0M653.8 60.6h0M655.1 60.8h0M675.4 60.9h0M676.0 61.2h0M678.1 60.5h0M679.9 60.2h0M681.4 60.7h0M682.7 60.9h0M652.3 62.5h0M654.5 62.1h0M674.3 62.4h0M676.2 62.3h0M678.5 61.7h0M680.9 62.6h0M681.8 62.0h0M683.5 61.7h0M685.9 62.0h0M651.9 63.7h0M655.6 63.3h0M656.5 64.1h0M676.7 63.7h0M677.6 63.5h0M679.8 63.8h0M681.6 63.7h0M683.4 63.2h0M684.8 63.5h0M686.2 63.5h0M650.8 65.4h0M653.1 64.5h0M656.6 65.3h0M681.0 64.9h0M682.6 64.4h0M683.7 64.8h0M685.1 65.2h0M687.1 64.6h0M650.8 66.5h0M652.4 65.9h0M653.5 66.4h0M657.2 65.9h0M686.0 66.0h0M650.6 68.2h0M652.9 67.5h0M677.1 68.3h0M650.9 69.7h0M652.4 69.3h0M653.3 69.1h0M660.4 69.7h0M662.0 69.3h0M663.1 68.7h0M666.5 69.4h0M670.1 68.8h0M671.8 68.8h0M677.9 68.9h0M679.7 69.4h0M681.5 69.3h0M651.6 70.4h0M653.3 70.6h0M654.5 70.6h0M657.8 70.4h0M659.4 70.2h0M660.6 70.1h0M667.8 70.2h0M669.7 70.2h0M672.5 70.9h0M674.0 70.3h0M675.7 70.4h0M677.7 70.1h0M679.5 70.4h0M682.6 70.4h0M684.4 70.4h0M685.9 71.0h0M652.0 72.0h0M655.0 71.7h0M656.7 71.8h0M658.4 71.6h0M666.7 72.0h0M668.1 71.8h0M671.2 71.6h0M673.8 72.2h0M674.8 71.9h0M676.6 72.0h0M678.5 72.0h0M679.5 72.1h0M682.7 71.4h0M684.7 72.1h0M652.6 73.3h0M654.5 72.8h0M655.8 73.3h0M658.0 73.1h0M663.9 73.6h0M666.1 73.1h0M667.1 73.8h0M670.9 73.5h0M673.7 73.5h0M676.0 73.3h0M677.0 73.6h0M683.8 72.8h0M651.6 74.2h0M656.7 74.6h0M659.7 75.0h0M661.9 75.3h0M663.7 74.3h0M669.7 75.3h0M671.8 74.9h0M676.7 74.4h0M678.1 75.1h0M679.7 75.2h0M650.8 76.6h0M653.0 76.6h0M656.1 76.0h0M658.9 75.9h0M660.5 76.1h0M664.2 75.6h0M666.2 76.2h0M669.7 76.0h0M670.3 76.2h0M672.0 75.7h0M676.1 76.5h0M676.9 76.3h0M680.7 76.5h0M650.4 77.2h0M653.8 77.5h0M656.9 77.0h0M660.0 77.2h0M661.8 77.8h0M663.6 78.0h0M664.6 77.9h0M666.2 77.6h0M675.3 77.4h0M677.0 77.1h0M678.0 77.2h0M649.8 78.6h0M650.9 79.3h0M652.8 79.3h0M654.0 79.3h0M658.0 78.5h0M661.5 78.9h0M662.8 79.1h0M664.1 78.8h0M665.4 79.0h0M667.6 79.3h0M672.0 79.2h0M674.4 79.0h0M677.0 79.4h0M646.9 80.6h0M648.7 80.4h0M650.5 80.7h0M651.5 80.8h0M653.8 80.7h0M660.7 80.5h0M661.5 80.2h0M663.2 80.6h0M665.3 80.7h0M666.7 79.9h0M668.2 80.6h0M671.9 80.1h0M673.6 79.9h0M675.2 80.4h0M677.1 80.8h0M647.5 81.4h0M651.4 81.9h0M652.9 82.0h0M654.3 81.6h0M656.3 81.5h0M658.0 81.7h0M660.6 81.2h0M662.7 81.5h0M664.4 81.5h0M665.5 81.4h0M667.6 81.5h0M668.8 81.7h0M672.2 82.2h0M674.2 82.0h0M675.3 81.2h0M677.5 81.3h0M647.2 83.1h0M649.1 83.2h0M650.7 83.4h0M652.0 82.7h0M654.1 83.3h0M655.1 83.4h0M660.3 83.4h0M661.4 82.7h0M663.6 82.9h0M664.9 83.4h0M666.5 83.0h0M668.3 83.0h0M669.5 82.9h0M671.9 83.4h0M673.0 83.2h0M674.9 82.8h0M676.5 82.9h0M649.6 84.2h0M651.5 84.1h0M652.8 84.6h0M653.9 84.7h0M656.3 84.4h0M659.0 84.9h0M660.9 84.6h0M662.4 84.9h0M664.8 84.5h0M665.7 84.6h0M668.0 84.3h0M669.7 85.0h0M670.7 84.9h0M672.4 84.1h0M673.9 84.0h0M648.5 85.6h0M655.7 85.6h0M656.8 85.7h0M663.3 86.0h0M664.6 85.5h0M670.3 85.6h0M652.5 87.7h0M654.4 86.9h0M656.5 87.1h0M657.4 87.3h0M659.8 87.2h0M661.1 86.9h0M662.4 86.9h0M664.0 87.8h0M667.6 87.0h0M657.2 88.4h0M659.1 89.2h0M660.6 88.7h0M662.0 88.5h0M665.3 88.5h0M666.3 88.5h0M654.7 90.4h0M657.5 90.0h0M659.3 89.7h0M661.0 89.8h0M662.6 90.4h0M656.7 91.0h0M659.7 91.3h0M661.7 91.6h0M659.6 93.0h0M661.0 92.8h0M660.4 94.4h0"/><path stroke="#c69c24" d="M681.4 80.3h0M680.8 82.0h0M678.1 83.5h0M681.3 82.9h0M675.9 84.9h0M679.1 84.2h0M682.4 84.7h0M671.7 86.0h0M673.0 86.2h0M675.0 86.2h0M678.5 86.0h0M681.4 85.6h0M683.0 86.4h0M669.6 87.6h0M671.3 87.6h0M674.5 87.2h0M675.4 86.9h0M677.1 87.3h0M679.0 86.9h0M680.4 86.9h0M681.9 87.3h0M683.9 87.4h0M673.4 88.2h0M675.3 88.7h0M676.1 88.6h0M677.9 89.1h0M680.2 88.6h0M681.9 88.2h0M683.1 88.5h0M664.6 90.4h0M666.2 89.9h0M667.8 90.4h0M668.8 90.1h0M670.9 90.0h0M672.0 89.8h0M673.6 90.2h0M675.2 90.4h0M677.3 90.3h0M679.0 90.7h0M680.9 89.6h0M682.7 90.2h0M683.4 89.8h0M686.0 90.5h0M663.9 91.6h0M665.5 91.4h0M669.8 91.3h0M671.5 91.1h0M673.8 91.3h0M674.5 91.9h0M677.0 91.4h0M677.6 91.2h0M679.5 91.8h0M681.6 91.1h0M683.4 91.1h0M685.8 91.1h0M689.5 91.6h0M662.6 92.6h0M664.1 92.8h0M665.5 92.6h0M667.2 93.4h0M670.9 92.7h0M672.3 92.4h0M674.1 93.0h0M675.5 92.6h0M677.5 92.5h0M679.2 92.9h0M681.1 93.3h0M682.2 93.3h0M683.4 93.2h0M688.9 92.7h0M661.8 94.5h0M663.4 94.3h0M664.9 94.0h0M666.3 94.4h0M668.7 94.2h0M669.9 93.8h0M671.6 94.6h0M673.8 94.8h0M675.3 94.2h0M676.2 94.3h0M678.3 94.4h0M680.0 94.1h0M681.7 94.1h0M683.5 94.6h0M685.0 94.7h0M688.3 94.4h0M664.0 96.0h0M666.3 95.2h0M667.8 95.2h0M669.0 96.2h0M671.0 95.9h0M672.8 96.2h0M674.0 95.3h0M676.2 95.7h0M677.6 95.2h0M679.1 96.2h0M682.2 95.4h0M684.1 95.3h0M685.9 95.5h0M687.0 95.6h0M688.9 95.3h0M690.6 96.0h0M662.2 97.0h0M663.9 97.1h0M665.6 97.1h0M667.2 96.9h0M668.7 97.2h0M670.5 96.7h0M671.9 97.3h0M673.3 97.6h0M676.4 97.5h0M677.8 97.3h0M679.4 97.4h0M683.4 97.0h0M684.2 97.3h0M686.9 97.5h0M687.8 97.5h0M691.0 97.6h0M664.3 99.0h0M665.5 98.6h0M667.6 98.6h0M669.2 99.0h0M670.3 98.4h0M672.8 98.2h0M673.6 99.0h0M676.1 98.3h0M676.8 98.6h0M679.1 98.1h0M680.4 98.1h0M681.8 98.8h0M683.6 98.2h0M685.8 98.4h0M687.0 99.0h0M688.5 98.9h0M690.1 98.8h0M665.5 100.1h0M666.7 99.7h0M667.9 99.7h0M670.2 100.1h0M671.8 99.9h0M673.6 100.0h0M675.4 99.6h0M676.2 99.6h0M679.8 100.1h0M681.8 100.4h0M683.4 100.4h0M685.2 100.2h0M685.9 100.4h0M688.1 100.3h0M689.8 100.4h0M663.9 101.0h0M666.1 100.9h0M667.3 101.2h0M668.9 101.2h0M670.3 101.4h0M672.4 101.7h0M673.7 100.9h0M676.0 100.9h0M677.4 101.5h0M679.4 101.2h0M680.8 101.0h0M681.8 101.1h0M684.1 101.8h0M685.7 101.4h0M687.6 101.1h0M688.5 101.1h0M666.7 102.8h0M668.8 103.1h0M669.6 103.1h0M671.7 103.0h0M673.3 102.2h0M675.3 102.5h0M676.8 102.4h0M677.7 102.3h0M679.7 102.6h0M681.5 102.3h0M683.3 102.8h0M684.5 102.2h0M686.2 102.5h0M665.7 104.3h0M667.1 104.2h0M669.7 104.3h0M671.3 104.2h0M672.2 104.1h0M674.5 104.2h0M676.0 103.7h0M677.3 104.4h0M679.4 104.0h0M680.9 104.5h0M681.7 103.8h0M667.1 105.1h0M667.8 105.1h0M670.4 105.3h0M673.7 105.4h0M674.7 105.2h0M676.6 105.1h0M681.7 105.1h0M683.4 106.0h0"/><path stroke="#54ae4e" d="M644.8 84.0h0M644.3 86.2h0M645.4 86.4h0M646.8 86.4h0M643.1 86.9h0M645.1 87.1h0M646.2 87.3h0M647.9 87.3h0M649.1 87.6h0M641.7 88.3h0M643.8 88.8h0M645.9 88.8h0M647.0 88.7h0M648.6 89.0h0M650.3 88.6h0M640.0 90.4h0M641.4 90.4h0M643.3 90.0h0M644.9 90.2h0M646.0 89.9h0M648.4 90.6h0M650.0 90.3h0M651.0 89.9h0M652.4 90.0h0M639.0 91.1h0M640.1 91.6h0M641.9 91.1h0M643.4 91.1h0M645.4 91.6h0M647.6 91.3h0M648.6 92.0h0M650.6 92.0h0M651.6 91.5h0M653.9 91.3h0M637.7 92.7h0M639.4 92.7h0M644.4 93.0h0M646.3 92.5h0M647.7 92.9h0M649.9 92.6h0M657.3 92.6h0M636.7 94.2h0M639.1 94.8h0M640.5 94.0h0M645.1 93.9h0M646.9 94.7h0M636.2 95.4h0M638.0 95.7h0M641.5 96.1h0M645.2 96.2h0M645.9 95.5h0M647.4 95.8h0M634.5 97.4h0M635.8 96.8h0M641.6 96.8h0M644.1 96.8h0M645.4 96.8h0M647.1 96.8h0M648.7 96.8h0M632.9 99.0h0M634.9 99.0h0M636.3 98.9h0M641.2 98.7h0M642.9 98.9h0M644.6 98.7h0M646.7 98.0h0M648.1 98.8h0M634.4 99.7h0M636.0 100.1h0M639.0 100.0h0M640.6 100.2h0M645.3 100.2h0M646.9 99.5h0M635.2 101.6h0M636.8 101.6h0M638.4 101.0h0M639.8 101.5h0M641.7 101.0h0M643.0 100.8h0M645.9 101.7h0M647.8 101.7h0M632.3 102.2h0M634.5 102.4h0M636.2 103.2h0M638.5 102.9h0M640.5 103.2h0M642.4 102.9h0M645.4 102.2h0M647.4 102.9h0M649.1 102.6h0M660.2 103.0h0M631.3 104.6h0M635.2 103.8h0M636.8 104.3h0M637.9 104.0h0M641.1 103.9h0M643.4 104.3h0M644.6 104.1h0M646.7 104.6h0M647.5 104.0h0M651.4 103.6h0M659.5 103.8h0M631.1 105.2h0M632.8 105.7h0M634.1 105.9h0M635.3 105.6h0M637.1 105.8h0M638.4 105.4h0M640.6 105.2h0M642.7 105.0h0M643.7 105.7h0M645.1 105.6h0M649.2 105.3h0M657.3 106.0h0M631.1 107.1h0M633.0 106.5h0M634.3 106.8h0M636.4 107.1h0M638.2 106.9h0M641.7 107.2h0M643.0 106.9h0M644.7 107.1h0M646.4 106.7h0M647.7 107.2h0M650.0 106.8h0M631.1 108.1h0M632.1 107.8h0M635.3 107.9h0M637.7 108.7h0M642.5 108.3h0M643.4 108.5h0M645.5 108.4h0M647.6 108.1h0M648.7 108.2h0M649.9 108.1h0M655.7 108.4h0M656.5 108.3h0M638.2 110.1h0M641.5 109.5h0M642.8 109.2h0M644.6 109.9h0M646.6 109.2h0M648.0 109.7h0M649.6 110.2h0M651.1 109.4h0M657.5 110.2h0M632.0 111.0h0M636.8 111.6h0M640.9 110.7h0M641.9 111.6h0M643.6 111.5h0M645.7 110.7h0M646.6 111.2h0M648.5 111.1h0M650.7 111.4h0M651.8 111.4h0M653.2 111.0h0M656.6 110.6h0M633.2 112.4h0M638.4 112.7h0M640.1 112.0h0M641.8 112.6h0M643.4 112.5h0M644.2 112.2h0M646.3 112.7h0M647.7 113.0h0M649.4 112.9h0M651.3 112.5h0M652.5 112.9h0M654.7 112.3h0M655.8 112.3h0M633.5 113.8h0M635.4 114.1h0M637.6 114.4h0M639.2 114.1h0M640.3 113.4h0M642.5 113.8h0M643.3 114.1h0M645.6 114.4h0M647.2 114.1h0M649.1 114.0h0M650.7 114.1h0M652.0 114.4h0M653.3 114.3h0M635.3 114.9h0M636.8 114.9h0M638.0 115.4h0M640.2 115.8h0M643.1 115.2h0M644.2 115.0h0M646.1 115.4h0M647.7 115.3h0M649.3 115.0h0M635.8 117.1h0M638.8 117.2h0M640.2 116.9h0M645.2 116.4h0M647.2 116.6h0M637.0 118.3h0M641.2 117.6h0M643.0 117.8h0M637.3 119.7h0"/><path stroke="#1eba8a" d="M671.6 105.9h0M678.1 105.9h0M680.0 106.0h0M664.3 107.3h0M666.2 106.8h0M667.1 107.2h0M669.6 106.7h0M670.5 106.5h0M672.9 107.1h0M673.8 106.7h0M675.7 107.0h0M677.6 107.1h0M678.9 106.9h0M680.8 106.6h0M682.7 107.2h0M684.2 106.9h0M662.2 108.1h0M668.5 107.9h0M670.1 108.7h0M671.4 108.4h0M674.9 108.5h0M676.6 108.6h0M678.1 108.6h0M679.6 108.2h0M681.1 107.9h0M682.7 108.0h0M684.8 108.3h0M686.5 108.1h0M659.3 110.0h0M662.5 109.3h0M665.6 109.7h0M668.0 109.6h0M669.2 109.7h0M671.3 109.8h0M672.3 109.2h0M675.6 109.3h0M676.9 109.5h0M679.0 109.6h0M680.9 110.1h0M681.7 109.2h0M683.5 109.5h0M685.6 109.7h0M658.0 111.0h0M660.6 111.5h0M661.7 111.2h0M668.2 111.5h0M670.1 110.6h0M671.2 110.9h0M673.3 111.2h0M674.5 110.7h0M676.9 111.4h0M677.8 111.3h0M679.8 110.7h0M681.7 111.6h0M683.3 110.8h0M685.2 111.0h0M686.3 110.6h0M657.6 112.3h0M659.4 112.5h0M662.3 113.0h0M664.4 112.2h0M668.0 112.4h0M670.7 112.8h0M672.0 112.3h0M674.0 112.1h0M676.2 112.6h0M677.3 112.7h0M678.4 112.9h0M681.0 112.8h0M682.1 112.4h0M683.4 112.1h0M685.1 113.0h0M658.2 114.3h0M664.9 114.0h0M668.6 113.9h0M670.3 113.8h0M672.1 114.2h0M673.5 114.1h0M674.4 114.1h0M676.8 113.6h0M678.2 113.8h0M680.3 113.7h0M680.9 114.2h0M682.6 113.5h0M658.1 114.9h0M659.4 115.4h0M660.8 115.0h0M664.3 115.0h0M666.1 115.4h0M667.8 114.9h0M669.5 115.8h0M671.0 115.8h0M672.2 115.4h0M673.5 115.0h0M676.0 114.9h0M677.6 115.8h0M678.4 115.5h0M681.1 115.0h0M682.5 115.2h0M683.6 115.0h0M659.7 117.1h0M666.9 117.2h0M668.1 117.2h0M670.4 117.2h0M671.5 116.9h0M673.5 116.7h0M675.2 117.2h0M676.4 117.0h0M678.1 116.2h0M680.0 117.1h0M659.2 117.9h0M664.7 117.9h0M665.8 118.2h0M669.4 118.3h0M671.0 118.6h0M672.2 118.6h0M673.9 118.5h0M676.2 118.4h0M679.1 118.1h0M680.5 117.9h0M683.8 118.1h0M661.6 119.1h0M663.5 119.3h0M664.7 119.4h0M667.0 119.0h0M668.0 120.0h0M670.4 119.3h0M671.4 119.6h0M672.9 119.5h0M675.2 119.3h0M677.0 119.8h0M678.1 119.6h0M679.4 119.3h0M660.8 121.1h0M663.0 121.0h0M665.5 120.7h0M669.1 120.5h0M670.9 120.8h0M672.4 121.0h0M673.6 121.1h0M676.3 120.8h0M677.7 120.9h0M678.8 121.3h0M680.9 121.2h0M682.1 121.3h0M684.3 121.0h0M662.1 122.5h0M663.8 121.9h0M665.3 122.6h0M666.3 122.5h0M668.7 122.4h0M669.7 122.1h0M671.3 121.8h0M673.0 122.0h0M674.4 122.7h0M676.1 122.1h0M677.9 122.4h0M680.3 122.0h0M681.5 121.9h0M664.1 123.5h0M667.4 124.1h0M669.5 123.7h0M670.9 123.4h0M672.3 123.6h0M673.9 124.0h0M675.9 124.1h0M677.4 124.1h0M679.2 123.6h0M681.1 123.9h0M682.0 123.2h0M683.5 123.6h0M666.2 125.3h0M668.8 125.3h0M670.0 125.3h0M671.7 125.1h0M673.2 125.4h0M675.1 124.8h0M676.4 125.5h0M677.9 124.6h0M679.7 125.2h0M681.5 125.2h0M683.6 125.4h0M669.5 126.0h0M670.4 127.0h0M672.3 127.0h0M673.7 126.7h0M675.6 126.0h0M677.8 127.0h0M678.8 126.9h0M680.5 126.5h0M682.3 126.2h0M671.7 127.5h0M673.8 128.3h0M675.0 128.3h0M676.1 128.2h0M678.2 127.9h0M679.6 128.4h0M681.1 127.4h0M674.3 129.6h0M676.0 129.3h0M677.3 128.9h0M679.5 129.8h0M682.2 129.6h0M679.6 130.4h0M681.4 130.4h0M678.8 132.2h0"/><path stroke="#f07866" d="M655.6 114.2h0M657.3 114.3h0M651.5 115.4h0M652.8 115.7h0M654.4 115.3h0M655.6 115.5h0M650.0 116.5h0M652.0 116.8h0M654.1 116.9h0M655.1 117.1h0M657.0 116.8h0M658.1 116.6h0M647.6 118.0h0M649.1 118.6h0M651.4 118.1h0M652.4 117.9h0M654.2 118.5h0M658.1 117.8h0M642.5 119.0h0M644.1 119.5h0M645.6 119.1h0M646.9 119.2h0M648.6 119.4h0M651.8 119.7h0M653.7 119.2h0M658.0 119.5h0M637.0 120.9h0M641.2 120.5h0M642.9 121.3h0M645.9 120.9h0M648.3 120.7h0M649.2 120.5h0M651.2 121.2h0M653.0 120.8h0M654.9 121.3h0M656.0 120.8h0M657.3 120.6h0M658.9 120.8h0M639.4 122.5h0M641.1 122.5h0M642.3 122.8h0M643.8 122.1h0M645.5 122.4h0M649.2 121.9h0M650.7 121.9h0M651.7 122.6h0M654.1 122.8h0M655.6 122.1h0M656.9 122.3h0M658.0 122.2h0M660.5 121.8h0M639.3 124.1h0M641.6 123.2h0M642.7 123.9h0M645.0 123.4h0M646.8 123.7h0M647.7 123.4h0M649.0 123.2h0M651.3 123.7h0M652.9 123.8h0M655.0 123.3h0M656.3 124.0h0M657.2 123.7h0M659.9 123.3h0M660.6 123.4h0M662.6 123.9h0M637.7 125.0h0M639.0 124.7h0M640.7 124.9h0M642.1 124.7h0M643.4 124.8h0M645.0 124.9h0M646.8 125.0h0M648.8 124.9h0M649.9 125.4h0M651.8 124.6h0M653.3 125.5h0M655.3 124.9h0M656.4 124.9h0M659.0 125.5h0M661.9 125.4h0M663.7 124.7h0M665.5 125.2h0M637.0 126.9h0M637.9 126.2h0M640.1 126.1h0M641.8 126.9h0M643.1 126.9h0M644.7 126.0h0M646.5 126.4h0M647.9 126.5h0M649.1 126.8h0M650.7 126.4h0M653.1 126.5h0M654.8 126.1h0M656.1 126.1h0M657.5 126.5h0M659.4 126.7h0M662.3 126.8h0M667.7 126.9h0M637.1 127.4h0M639.3 128.3h0M640.2 128.0h0M642.0 128.0h0M643.9 127.9h0M645.2 128.2h0M646.8 128.3h0M648.6 127.5h0M650.5 127.9h0M651.8 127.5h0M653.1 128.2h0M655.7 128.3h0M656.4 127.8h0M659.1 127.6h0M659.6 127.9h0M668.1 128.1h0M670.2 128.3h0M638.2 129.7h0M640.0 129.4h0M641.3 129.4h0M643.3 129.7h0M644.9 129.4h0M646.2 129.2h0M647.9 129.3h0M651.1 129.5h0M653.2 128.9h0M654.6 129.7h0M656.3 129.5h0M660.8 129.5h0M663.0 128.9h0M666.3 129.4h0M667.7 129.0h0M669.1 129.2h0M671.2 129.5h0M672.6 129.6h0M638.5 130.9h0M640.1 130.8h0M642.5 130.7h0M645.2 130.9h0M651.5 130.2h0M653.7 131.1h0M655.5 130.5h0M657.3 131.1h0M658.7 130.9h0M659.7 130.7h0M661.6 131.2h0M663.1 130.9h0M664.8 131.2h0M667.0 131.0h0M667.8 130.4h0M670.5 130.3h0M671.6 130.7h0M673.7 130.3h0M675.0 130.8h0M637.6 132.4h0M639.3 132.1h0M641.7 132.0h0M643.5 132.2h0M644.7 132.5h0M645.9 132.2h0M647.4 131.8h0M649.4 132.5h0M651.0 132.6h0M652.9 132.0h0M654.4 132.6h0M656.1 132.1h0M658.2 132.3h0M659.7 132.4h0M660.9 131.6h0M662.1 131.6h0M664.8 131.7h0M666.0 132.4h0M667.9 132.3h0M669.0 132.1h0M670.4 131.9h0M673.0 131.7h0M674.2 132.3h0M676.0 132.2h0M638.7 133.2h0M640.2 133.7h0M642.4 133.7h0M643.7 133.6h0M645.6 133.3h0M647.3 133.9h0M649.2 133.6h0M652.0 133.8h0M655.0 134.0h0M657.0 133.7h0M658.1 133.3h0M660.3 133.0h0M662.3 133.7h0M663.7 133.5h0M665.1 133.1h0M666.6 133.0h0M668.5 133.8h0M670.0 133.9h0M671.4 133.0h0M673.0 133.9h0M675.1 133.5h0M676.5 133.4h0M678.0 133.5h0M680.0 133.6h0M641.5 134.9h0M642.7 135.0h0M644.3 135.3h0M646.4 135.0h0M648.1 135.0h0M649.2 134.4h0M651.3 134.5h0M654.0 135.1h0M656.3 135.1h0M657.5 134.7h0M661.1 134.6h0M662.8 135.4h0M667.7 134.5h0M669.1 135.4h0M674.4 135.1h0M675.3 135.1h0M676.8 134.9h0M678.8 134.8h0M641.8 135.8h0M644.3 136.6h0M645.2 136.6h0M647.3 135.9h0M648.3 135.8h0M650.4 135.9h0M654.2 136.8h0M655.7 136.3h0M656.8 135.9h0M658.8 136.3h0M660.4 136.2h0M661.9 136.2h0M663.9 136.1h0M664.9 136.1h0M666.8 136.8h0M668.0 136.2h0M670.0 136.7h0M671.3 135.9h0M673.7 136.6h0M675.1 135.8h0M676.9 136.7h0M643.5 138.1h0M644.5 137.3h0M646.4 137.4h0M647.6 137.7h0M649.8 138.2h0M654.4 137.4h0M656.2 137.8h0M657.8 137.6h0M659.4 137.3h0M661.5 137.5h0M662.8 137.9h0M666.4 137.4h0M667.0 137.5h0M671.0 137.5h0M672.6 137.6h0M674.5 137.6h0M675.4 138.0h0M645.4 139.4h0M647.3 139.4h0M650.0 139.0h0M652.1 138.7h0M653.3 139.0h0M655.4 139.6h0M656.7 139.5h0M659.0 138.6h0M660.3 139.4h0M661.3 139.5h0M663.3 139.2h0M665.3 139.0h0M667.1 139.3h0M668.7 138.6h0M670.0 139.2h0M672.8 138.9h0M674.6 138.9h0M651.3 140.2h0M653.0 140.2h0M656.5 140.6h0M658.0 140.5h0M659.7 140.0h0M661.4 140.6h0M662.2 140.2h0M664.0 140.4h0M665.8 140.8h0M657.2 141.7h0"/></g><g stroke-width="1.4" stroke-linecap="round"><path stroke="#f08c3c" d="M733.7 125.4h0"/><path stroke="#1ebeaa" d="M735.4 138.7h0"/><path stroke="#1ebeaa" d="M736.0 141.0h0"/><path stroke="#2896f0" d="M738.7 148.8h0"/><path stroke="#5082f0" d="M762.0 133.7h0"/><path stroke="#5082f0" d="M767.0 123.7h0"/><path stroke="#5082f0" d="M773.9 115.3h0"/><path stroke="#a08cf0" d="M706.0 160.0h0"/><path stroke="#a08cf0" d="M709.0 158.0h0"/><path stroke="#a08cf0" d="M712.0 157.0h0"/><path stroke="#a08cf0" d="M708.0 165.0h0"/><path stroke="#a08cf0" d="M707.0 170.0h0"/><path stroke="#a08cf0" d="M704.0 162.0h0"/><path stroke="#3c8ce6" d="M694.3 34.1h0"/><path stroke="#3c8ce6" d="M692.0 36.0h0"/><path stroke="#28aae6" d="M682.0 64.0h0"/><path stroke="#28aae6" d="M684.0 66.0h0"/><path stroke="#3c8ce6" d="M664.0 83.0h0"/></g>
  <rect x="783.6" y="33.1" width="4.6" height="4.6" fill="#e8588a"/><path d="M784.6 35.4l1 1.1l1.6-2.2" stroke="#fff" stroke-width="0.7" fill="none"/><text x="791.5" y="37.4" font-size="6.0" fill="#3c3c3c" stroke="#3c3c3c" stroke-width="0.12" textLength="20.1" lengthAdjust="spacingAndGlyphs">Cluster 1</text><text x="813.5" y="37.1" font-size="4.4" fill="#adadad" textLength="11.1" lengthAdjust="spacingAndGlyphs">(1223)</text><rect x="783.6" y="43.5" width="4.6" height="4.6" fill="#ee6a6a"/><path d="M784.6 45.8l1 1.1l1.6-2.2" stroke="#fff" stroke-width="0.7" fill="none"/><text x="791.5" y="47.8" font-size="6.0" fill="#3c3c3c" stroke="#3c3c3c" stroke-width="0.12" textLength="20.1" lengthAdjust="spacingAndGlyphs">Cluster 2</text><text x="813.5" y="47.5" font-size="4.4" fill="#adadad" textLength="11.1" lengthAdjust="spacingAndGlyphs">(1070)</text><rect x="783.6" y="54.0" width="4.6" height="4.6" fill="#f0743a"/><path d="M784.6 56.3l1 1.1l1.6-2.2" stroke="#fff" stroke-width="0.7" fill="none"/><text x="791.5" y="58.3" font-size="6.0" fill="#3c3c3c" stroke="#3c3c3c" stroke-width="0.12" textLength="20.1" lengthAdjust="spacingAndGlyphs">Cluster 3</text><text x="813.5" y="58.0" font-size="4.4" fill="#adadad" textLength="11.1" lengthAdjust="spacingAndGlyphs">(912)</text><rect x="783.6" y="64.4" width="4.6" height="4.6" fill="#e89438"/><path d="M784.6 66.7l1 1.1l1.6-2.2" stroke="#fff" stroke-width="0.7" fill="none"/><text x="791.5" y="68.7" font-size="6.0" fill="#3c3c3c" stroke="#3c3c3c" stroke-width="0.12" textLength="20.1" lengthAdjust="spacingAndGlyphs">Cluster 4</text><text x="813.5" y="68.4" font-size="4.4" fill="#adadad" textLength="11.1" lengthAdjust="spacingAndGlyphs">(789)</text><rect x="783.6" y="74.8" width="4.6" height="4.6" fill="#cfa828"/><path d="M784.6 77.1l1 1.1l1.6-2.2" stroke="#fff" stroke-width="0.7" fill="none"/><text x="791.5" y="79.1" font-size="6.0" fill="#3c3c3c" stroke="#3c3c3c" stroke-width="0.12" textLength="20.1" lengthAdjust="spacingAndGlyphs">Cluster 5</text><text x="813.5" y="78.8" font-size="4.4" fill="#adadad" textLength="11.1" lengthAdjust="spacingAndGlyphs">(677)</text><rect x="783.6" y="85.2" width="4.6" height="4.6" fill="#a8b030"/><path d="M784.6 87.5l1 1.1l1.6-2.2" stroke="#fff" stroke-width="0.7" fill="none"/><text x="791.5" y="89.5" font-size="6.0" fill="#3c3c3c" stroke="#3c3c3c" stroke-width="0.12" textLength="20.1" lengthAdjust="spacingAndGlyphs">Cluster 6</text><text x="813.5" y="89.2" font-size="4.4" fill="#adadad" textLength="11.1" lengthAdjust="spacingAndGlyphs">(611)</text><rect x="783.6" y="95.7" width="4.6" height="4.6" fill="#68b440"/><path d="M784.6 98.0l1 1.1l1.6-2.2" stroke="#fff" stroke-width="0.7" fill="none"/><text x="791.5" y="100.0" font-size="6.0" fill="#3c3c3c" stroke="#3c3c3c" stroke-width="0.12" textLength="20.1" lengthAdjust="spacingAndGlyphs">Cluster 7</text><text x="813.5" y="99.7" font-size="4.4" fill="#adadad" textLength="11.1" lengthAdjust="spacingAndGlyphs">(602)</text><rect x="783.6" y="106.1" width="4.6" height="4.6" fill="#30b050"/><path d="M784.6 108.4l1 1.1l1.6-2.2" stroke="#fff" stroke-width="0.7" fill="none"/><text x="791.5" y="110.4" font-size="6.0" fill="#3c3c3c" stroke="#3c3c3c" stroke-width="0.12" textLength="20.1" lengthAdjust="spacingAndGlyphs">Cluster 8</text><text x="813.5" y="110.1" font-size="4.4" fill="#adadad" textLength="11.1" lengthAdjust="spacingAndGlyphs">(581)</text><rect x="783.6" y="116.5" width="4.6" height="4.6" fill="#20b470"/><path d="M784.6 118.8l1 1.1l1.6-2.2" stroke="#fff" stroke-width="0.7" fill="none"/><text x="791.5" y="120.8" font-size="6.0" fill="#3c3c3c" stroke="#3c3c3c" stroke-width="0.12" textLength="20.1" lengthAdjust="spacingAndGlyphs">Cluster 9</text><text x="813.5" y="120.5" font-size="4.4" fill="#adadad" textLength="11.1" lengthAdjust="spacingAndGlyphs">(562)</text><rect x="783.6" y="127.0" width="4.6" height="4.6" fill="#10b4a0"/><path d="M784.6 129.3l1 1.1l1.6-2.2" stroke="#fff" stroke-width="0.7" fill="none"/><text x="791.5" y="131.3" font-size="6.0" fill="#3c3c3c" stroke="#3c3c3c" stroke-width="0.12" textLength="23.5" lengthAdjust="spacingAndGlyphs">Cluster 10</text><text x="816.5" y="131.0" font-size="4.4" fill="#adadad" textLength="8.1" lengthAdjust="spacingAndGlyphs">(520)</text><rect x="783.6" y="137.4" width="4.6" height="4.6" fill="#20bcd8"/><path d="M784.6 139.7l1 1.1l1.6-2.2" stroke="#fff" stroke-width="0.7" fill="none"/><text x="791.5" y="141.7" font-size="6.0" fill="#3c3c3c" stroke="#3c3c3c" stroke-width="0.12" textLength="23.5" lengthAdjust="spacingAndGlyphs">Cluster 11</text><text x="816.5" y="141.4" font-size="4.4" fill="#adadad" textLength="8.1" lengthAdjust="spacingAndGlyphs">(476)</text><rect x="783.6" y="147.8" width="4.6" height="4.6" fill="#10aae8"/><path d="M784.6 150.1l1 1.1l1.6-2.2" stroke="#fff" stroke-width="0.7" fill="none"/><text x="791.5" y="152.1" font-size="6.0" fill="#3c3c3c" stroke="#3c3c3c" stroke-width="0.12" textLength="23.5" lengthAdjust="spacingAndGlyphs">Cluster 12</text><text x="816.5" y="151.8" font-size="4.4" fill="#adadad" textLength="8.1" lengthAdjust="spacingAndGlyphs">(452)</text><rect x="783.6" y="158.3" width="4.6" height="4.6" fill="#10a0f0"/><path d="M784.6 160.6l1 1.1l1.6-2.2" stroke="#fff" stroke-width="0.7" fill="none"/><text x="791.5" y="162.6" font-size="6.0" fill="#3c3c3c" stroke="#3c3c3c" stroke-width="0.12" textLength="23.5" lengthAdjust="spacingAndGlyphs">Cluster 13</text><text x="816.5" y="162.3" font-size="4.4" fill="#adadad" textLength="8.1" lengthAdjust="spacingAndGlyphs">(433)</text><rect x="783.6" y="168.7" width="4.6" height="4.6" fill="#1090e8"/><path d="M784.6 171.0l1 1.1l1.6-2.2" stroke="#fff" stroke-width="0.7" fill="none"/><text x="791.5" y="173.0" font-size="6.0" fill="#3c3c3c" stroke="#3c3c3c" stroke-width="0.12" textLength="23.5" lengthAdjust="spacingAndGlyphs">Cluster 14</text><text x="816.5" y="172.7" font-size="4.4" fill="#adadad" textLength="8.1" lengthAdjust="spacingAndGlyphs">(427)</text><rect x="783.6" y="179.1" width="4.6" height="4.6" fill="#6a90f0"/><path d="M784.6 181.4l1 1.1l1.6-2.2" stroke="#fff" stroke-width="0.7" fill="none"/><text x="791.5" y="183.4" font-size="6.0" fill="#3c3c3c" stroke="#3c3c3c" stroke-width="0.12" textLength="23.5" lengthAdjust="spacingAndGlyphs">Cluster 15</text><text x="816.5" y="183.1" font-size="4.4" fill="#adadad" textLength="8.1" lengthAdjust="spacingAndGlyphs">(399)</text><rect x="783.6" y="189.5" width="4.6" height="4.6" fill="#a488f0"/><path d="M784.6 191.8l1 1.1l1.6-2.2" stroke="#fff" stroke-width="0.7" fill="none"/><text x="791.5" y="193.8" font-size="6.0" fill="#3c3c3c" stroke="#3c3c3c" stroke-width="0.12" textLength="23.5" lengthAdjust="spacingAndGlyphs">Cluster 16</text><text x="816.5" y="193.5" font-size="4.4" fill="#adadad" textLength="8.1" lengthAdjust="spacingAndGlyphs">(264)</text>
  <!-- panel C -->
  <text x="588.7" y="207.0" font-size="5.8" fill="#999" textLength="106.3" lengthAdjust="spacingAndGlyphs">Log2 Total UMI Count Per Cell (Log2 Scaled)</text>
  <rect x="446" y="177.6" width="329" height="27.4" fill="#ffff00"/>
  <text x="473" y="200" font-size="19" font-weight="bold" fill="#000" stroke="#000" stroke-width="0.8" textLength="14.5" lengthAdjust="spacingAndGlyphs">C</text>
  <g font-weight="bold" fill="#000" stroke="#000" stroke-width="0.55" font-size="10.2">
  <text x="504.2" y="199.8" textLength="29.1" lengthAdjust="spacingAndGlyphs">Violin</text>
  <text x="538.6" y="199.8" textLength="21.4" lengthAdjust="spacingAndGlyphs">Plot</text>
  <text x="563.3" y="199.8" textLength="26.7" lengthAdjust="spacingAndGlyphs">L2FC</text>
  <text x="592.4" y="199.8" textLength="5" lengthAdjust="spacingAndGlyphs">–</text>
  <text x="602.4" y="199.8" font-style="italic" textLength="54.2" lengthAdjust="spacingAndGlyphs">HIST1H3A</text>
  <text x="659" y="199.8" textLength="5" lengthAdjust="spacingAndGlyphs">–</text>
  <text x="668.6" y="199.8" textLength="25.4" lengthAdjust="spacingAndGlyphs">Total</text>
  <text x="698.3" y="199.8" textLength="19.1" lengthAdjust="spacingAndGlyphs">UMI</text>
  <text x="722.5" y="199.8" textLength="52.5" lengthAdjust="spacingAndGlyphs">count/cell</text>
  </g>
  
  <g stroke="#ececec" stroke-width="0.8"><path d="M466 230.4H819M466 256.6H819M466 283.4H819"/></g>
  <g font-size="6" fill="#888" text-anchor="end"><text x="465" y="232.5">15</text><text x="465" y="258.7">10</text><text x="465" y="285.5">5</text></g>
  <path d="M476.4 225.6V245.7" stroke="#f0709a" stroke-width="1.2"/><path d="M476.4 225.6V245.7" stroke="#444" stroke-width="0.7" stroke-opacity="0.8"/><path d="M476.40 232.50 C478.36 234.60 482.00 236.70 482.00 238.50 C482.00 240.00 478.36 241.75 476.40 243.50 C474.44 241.75 470.80 240.00 470.80 238.50 C470.80 236.70 474.44 234.60 476.40 232.50Z" fill="#f0709a" stroke="#333" stroke-width="0.45" stroke-opacity="0.8"/><rect x="475.2" y="236.2" width="2.4" height="4.6" fill="#000" fill-opacity="0.35" stroke="#222" stroke-width="0.5" stroke-opacity="0.8"/><path d="M498.5 215.6V230.7" stroke="#f07474" stroke-width="1.2"/><path d="M498.5 215.6V230.7" stroke="#444" stroke-width="0.7" stroke-opacity="0.8"/><path d="M498.50 217.00 C500.46 218.85 504.10 220.71 504.10 222.30 C504.10 223.86 500.46 225.68 498.50 227.50 C496.54 225.68 492.90 223.86 492.90 222.30 C492.90 220.71 496.54 218.85 498.50 217.00Z" fill="#f07474" stroke="#333" stroke-width="0.45" stroke-opacity="0.8"/><rect x="497.3" y="220.0" width="2.4" height="4.6" fill="#000" fill-opacity="0.35" stroke="#222" stroke-width="0.5" stroke-opacity="0.8"/><path d="M520.5 219.0V248.5" stroke="#f07a48" stroke-width="1.2"/><path d="M520.5 219.0V248.5" stroke="#444" stroke-width="0.7" stroke-opacity="0.8"/><path d="M520.50 224.00 C522.46 227.71 526.10 231.42 526.10 234.60 C526.10 237.57 522.46 241.03 520.50 244.50 C518.54 241.03 514.90 237.57 514.90 234.60 C514.90 231.42 518.54 227.71 520.50 224.00Z" fill="#f07a48" stroke="#333" stroke-width="0.45" stroke-opacity="0.8"/><rect x="519.3" y="232.3" width="2.4" height="4.6" fill="#000" fill-opacity="0.35" stroke="#222" stroke-width="0.5" stroke-opacity="0.8"/><path d="M542.6 227.9V253.0" stroke="#e8943a" stroke-width="1.2"/><path d="M542.6 227.9V253.0" stroke="#444" stroke-width="0.7" stroke-opacity="0.8"/><path d="M542.60 239.00 C544.56 241.56 548.20 244.11 548.20 246.30 C548.20 247.86 544.56 249.68 542.60 251.50 C540.64 249.68 537.00 247.86 537.00 246.30 C537.00 244.11 540.64 241.56 542.60 239.00Z" fill="#e8943a" stroke="#333" stroke-width="0.45" stroke-opacity="0.8"/><rect x="541.4" y="244.0" width="2.4" height="4.6" fill="#000" fill-opacity="0.35" stroke="#222" stroke-width="0.5" stroke-opacity="0.8"/><path d="M564.5 216.7V238.5" stroke="#d8aa34" stroke-width="1.2"/><path d="M564.5 216.7V238.5" stroke="#444" stroke-width="0.7" stroke-opacity="0.8"/><path d="M564.50 218.50 C566.46 220.60 570.10 222.70 570.10 224.50 C570.10 226.45 566.46 228.72 564.50 231.00 C562.54 228.72 558.90 226.45 558.90 224.50 C558.90 222.70 562.54 220.60 564.50 218.50Z" fill="#d8aa34" stroke="#333" stroke-width="0.45" stroke-opacity="0.8"/><rect x="563.3" y="222.2" width="2.4" height="4.6" fill="#000" fill-opacity="0.35" stroke="#222" stroke-width="0.5" stroke-opacity="0.8"/><path d="M586.8 239.6V251.9" stroke="#a8b830" stroke-width="1.2"/><path d="M586.8 239.6V251.9" stroke="#444" stroke-width="0.7" stroke-opacity="0.8"/><path d="M586.80 240.00 C588.76 241.82 592.40 243.64 592.40 245.20 C592.40 246.79 588.76 248.65 586.80 250.50 C584.84 248.65 581.20 246.79 581.20 245.20 C581.20 243.64 584.84 241.82 586.80 240.00Z" fill="#a8b830" stroke="#333" stroke-width="0.45" stroke-opacity="0.8"/><rect x="585.6" y="242.9" width="2.4" height="4.6" fill="#000" fill-opacity="0.35" stroke="#222" stroke-width="0.5" stroke-opacity="0.8"/><path d="M608.9 221.7V238.5" stroke="#78c048" stroke-width="1.2"/><path d="M608.9 221.7V238.5" stroke="#444" stroke-width="0.7" stroke-opacity="0.8"/><path d="M608.90 224.00 C610.86 226.13 614.50 228.27 614.50 230.10 C614.50 231.87 610.86 233.94 608.90 236.00 C606.94 233.94 603.30 231.87 603.30 230.10 C603.30 228.27 606.94 226.13 608.90 224.00Z" fill="#78c048" stroke="#333" stroke-width="0.45" stroke-opacity="0.8"/><rect x="607.7" y="227.8" width="2.4" height="4.6" fill="#000" fill-opacity="0.35" stroke="#222" stroke-width="0.5" stroke-opacity="0.8"/><path d="M631.3 216.2V241.8" stroke="#30b860" stroke-width="1.2"/><path d="M631.3 216.2V241.8" stroke="#444" stroke-width="0.7" stroke-opacity="0.8"/><path d="M631.30 217.50 C633.26 219.95 636.90 222.40 636.90 224.50 C636.90 226.45 633.26 228.72 631.30 231.00 C629.34 228.72 625.70 226.45 625.70 224.50 C625.70 222.40 629.34 219.95 631.30 217.50Z" fill="#30b860" stroke="#333" stroke-width="0.45" stroke-opacity="0.8"/><rect x="630.1" y="222.2" width="2.4" height="4.6" fill="#000" fill-opacity="0.35" stroke="#222" stroke-width="0.5" stroke-opacity="0.8"/><path d="M653.4 215.6V236.8" stroke="#10b878" stroke-width="1.2"/><path d="M653.4 215.6V236.8" stroke="#444" stroke-width="0.7" stroke-opacity="0.8"/><path d="M653.40 217.50 C655.36 219.39 659.00 221.28 659.00 222.90 C659.00 224.58 655.36 226.54 653.40 228.50 C651.44 226.54 647.80 224.58 647.80 222.90 C647.80 221.28 651.44 219.39 653.40 217.50Z" fill="#10b878" stroke="#333" stroke-width="0.45" stroke-opacity="0.8"/><rect x="652.2" y="220.6" width="2.4" height="4.6" fill="#000" fill-opacity="0.35" stroke="#222" stroke-width="0.5" stroke-opacity="0.8"/><path d="M675.5 242.4V258.0" stroke="#14b8a0" stroke-width="1.2"/><path d="M675.5 242.4V258.0" stroke="#444" stroke-width="0.7" stroke-opacity="0.8"/><path d="M675.50 244.50 C677.46 246.71 681.10 248.91 681.10 250.80 C681.10 252.36 677.46 254.18 675.50 256.00 C673.54 254.18 669.90 252.36 669.90 250.80 C669.90 248.91 673.54 246.71 675.50 244.50Z" fill="#14b8a0" stroke="#333" stroke-width="0.45" stroke-opacity="0.8"/><rect x="674.3" y="248.5" width="2.4" height="4.6" fill="#000" fill-opacity="0.35" stroke="#222" stroke-width="0.5" stroke-opacity="0.8"/><path d="M697.5 221.7V240.7" stroke="#20bce0" stroke-width="1.2"/><path d="M697.5 221.7V240.7" stroke="#444" stroke-width="0.7" stroke-opacity="0.8"/><path d="M697.50 224.50 C699.46 226.84 703.10 229.19 703.10 231.20 C703.10 232.79 699.46 234.65 697.50 236.50 C695.54 234.65 691.90 232.79 691.90 231.20 C691.90 229.19 695.54 226.84 697.50 224.50Z" fill="#20bce0" stroke="#333" stroke-width="0.45" stroke-opacity="0.8"/><rect x="696.3" y="228.9" width="2.4" height="4.6" fill="#000" fill-opacity="0.35" stroke="#222" stroke-width="0.5" stroke-opacity="0.8"/><path d="M719.5 229.0V240.7" stroke="#14ace8" stroke-width="1.2"/><path d="M719.5 229.0V240.7" stroke="#444" stroke-width="0.7" stroke-opacity="0.8"/><path d="M719.50 232.00 C721.46 233.50 725.10 235.01 725.10 236.30 C725.10 237.35 721.46 238.58 719.50 239.80 C717.54 238.58 713.90 237.35 713.90 236.30 C713.90 235.01 717.54 233.50 719.50 232.00Z" fill="#14ace8" stroke="#333" stroke-width="0.45" stroke-opacity="0.8"/><rect x="718.3" y="234.0" width="2.4" height="4.6" fill="#000" fill-opacity="0.35" stroke="#222" stroke-width="0.5" stroke-opacity="0.8"/><path d="M741.5 223.2V245.1" stroke="#10a4f0" stroke-width="1.2"/><path d="M741.5 223.2V245.1" stroke="#444" stroke-width="0.7" stroke-opacity="0.8"/><path d="M741.50 224.00 C743.42 225.96 747.00 227.92 747.00 229.60 C747.00 231.67 743.42 234.09 741.50 236.50 C739.58 234.09 736.00 231.67 736.00 229.60 C736.00 227.92 739.58 225.96 741.50 224.00Z" fill="#10a4f0" stroke="#333" stroke-width="0.45" stroke-opacity="0.8"/><rect x="740.3" y="227.3" width="2.4" height="4.6" fill="#000" fill-opacity="0.35" stroke="#222" stroke-width="0.5" stroke-opacity="0.8"/><path d="M763.4 233.8V246.0" stroke="#1494e4" stroke-width="1.2"/><path d="M763.4 233.8V246.0" stroke="#444" stroke-width="0.7" stroke-opacity="0.8"/><path d="M763.40 236.50 C765.32 238.11 768.90 239.72 768.90 241.10 C768.90 242.27 765.32 243.63 763.40 245.00 C761.48 243.63 757.90 242.27 757.90 241.10 C757.90 239.72 761.48 238.11 763.40 236.50Z" fill="#1494e4" stroke="#333" stroke-width="0.45" stroke-opacity="0.8"/><rect x="762.2" y="238.8" width="2.4" height="4.6" fill="#000" fill-opacity="0.35" stroke="#222" stroke-width="0.5" stroke-opacity="0.8"/><path d="M785.7 237.8V257.9" stroke="#7090f0" stroke-width="1.2"/><path d="M785.7 237.8V257.9" stroke="#444" stroke-width="0.7" stroke-opacity="0.8"/><path d="M785.70 245.00 C787.62 247.28 791.20 249.55 791.20 251.50 C791.20 253.00 787.62 254.75 785.70 256.50 C783.78 254.75 780.20 253.00 780.20 251.50 C780.20 249.55 783.78 247.28 785.70 245.00Z" fill="#7090f0" stroke="#333" stroke-width="0.45" stroke-opacity="0.8"/><rect x="784.5" y="249.2" width="2.4" height="4.6" fill="#000" fill-opacity="0.35" stroke="#222" stroke-width="0.5" stroke-opacity="0.8"/><path d="M807.9 247.9V289.9" stroke="#a488e8" stroke-width="1.2"/><path d="M807.9 247.9V289.9" stroke="#444" stroke-width="0.7" stroke-opacity="0.8"/><path d="M807.90 249.00 C809.82 250.96 813.40 252.92 813.40 254.60 C813.40 256.07 809.82 257.79 807.90 259.50 C805.98 257.79 802.40 256.07 802.40 254.60 C802.40 252.92 805.98 250.96 807.90 249.00Z" fill="#a488e8" stroke="#333" stroke-width="0.45" stroke-opacity="0.8"/><rect x="806.7" y="252.3" width="2.4" height="4.6" fill="#000" fill-opacity="0.35" stroke="#222" stroke-width="0.5" stroke-opacity="0.8"/>
  <text transform="translate(475.4 299.8) rotate(30)" font-size="5.0" fill="#808080">Cluster 1</text><text transform="translate(497.5 299.8) rotate(30)" font-size="5.0" fill="#808080">Cluster 2</text><text transform="translate(519.5 299.8) rotate(30)" font-size="5.0" fill="#808080">Cluster 3</text><text transform="translate(541.6 299.8) rotate(30)" font-size="5.0" fill="#808080">Cluster 4</text><text transform="translate(563.5 299.8) rotate(30)" font-size="5.0" fill="#808080">Cluster 5</text><text transform="translate(585.8 299.8) rotate(30)" font-size="5.0" fill="#808080">Cluster 6</text><text transform="translate(607.9 299.8) rotate(30)" font-size="5.0" fill="#808080">Cluster 7</text><text transform="translate(630.3 299.8) rotate(30)" font-size="5.0" fill="#808080">Cluster 8</text><text transform="translate(652.4 299.8) rotate(30)" font-size="5.0" fill="#808080">Cluster 9</text><text transform="translate(674.5 299.8) rotate(30)" font-size="5.0" fill="#808080">Cluster 10</text><text transform="translate(696.5 299.8) rotate(30)" font-size="5.0" fill="#808080">Cluster 11</text><text transform="translate(718.5 299.8) rotate(30)" font-size="5.0" fill="#808080">Cluster 12</text><text transform="translate(740.5 299.8) rotate(30)" font-size="5.0" fill="#808080">Cluster 13</text><text transform="translate(762.4 299.8) rotate(30)" font-size="5.0" fill="#808080">Cluster 14</text><text transform="translate(784.7 299.8) rotate(30)" font-size="5.0" fill="#808080">Cluster 15</text><text transform="translate(806.9 299.8) rotate(30)" font-size="5.0" fill="#808080">Cluster 16</text>
</svg>
<div class="dd" style="left:273.9px;top:252px;width:57.8px;height:21.8px">Log2</div>
<div class="dd" style="left:334.4px;top:252px;width:87.4px;height:21.8px">UMI Count - Gen</div>
<div class="cap" style="top:348.2px;letter-spacing:0.315px">Figure 4. T-distributed neighbor embedding (<i>t</i>-SNE) was run to visualize spots in a 2-D space, followed</div>
<div class="cap" style="top:373.2px;letter-spacing:0.365px">by clustering to group spots with similar expression profiles. <i>t</i>-SNE colored by UMI counts per spot (A)</div>
<div class="cap" style="top:398.2px;letter-spacing:0.14px">for <i>HIST1H3A</i>, and spots by clustering (B) are shown for the entire data set. Comparative expression (C)</div>
<div class="cap" style="top:423.2px;letter-spacing:0.105px">analysis revealed variability in the spatiotemporal distribution of <i>HIST1H3A</i> expression across 16 clusters</div>
<div class="cap" style="top:448.2px;letter-spacing:0.37px">for the entire data set (violin plot).</div>
</body></html>
